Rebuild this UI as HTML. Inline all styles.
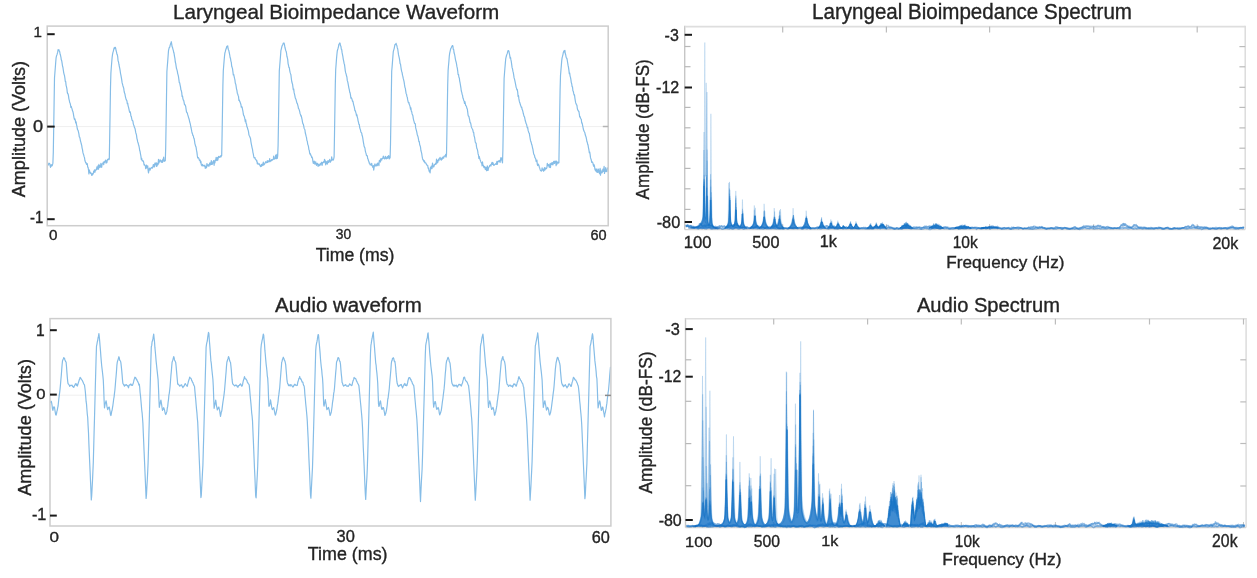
<!DOCTYPE html>
<html><head><meta charset="utf-8"><title>Laryngeal Bioimpedance and Audio</title>
<style>
html,body{margin:0;padding:0;background:#ffffff;}
svg{display:block;}
</style></head>
<body>
<svg width="1257" height="578" viewBox="0 0 1257 578">
<rect width="1257" height="578" fill="#ffffff"/>
<g>
<line x1="47.2" y1="126.6" x2="608.2" y2="126.6" stroke="#efefef" stroke-width="1"/>
<polyline points="47.70,164.86 48.10,165.21 48.50,164.11 48.90,163.13 49.30,163.66 49.70,163.67 50.10,165.66 50.50,167.34 50.90,165.14 51.30,164.74 51.70,166.16 52.10,165.68 52.50,164.72 52.90,163.14 53.30,152.29 53.70,128.14 54.10,102.88 54.50,78.08 54.90,72.75 55.30,67.76 55.70,62.56 56.10,57.76 56.50,55.95 56.90,54.90 57.30,53.61 57.70,52.19 58.10,49.64 58.50,50.22 58.90,49.78 59.30,51.08 59.70,51.55 60.10,54.22 60.50,55.27 60.90,57.03 61.30,59.82 61.70,60.68 62.10,63.20 62.50,66.01 62.90,67.22 63.30,69.98 63.70,72.62 64.10,74.33 64.50,75.50 64.90,78.19 65.30,81.38 65.70,81.62 66.10,85.33 66.50,86.98 66.90,88.85 67.30,92.53 67.70,93.76 68.10,93.85 68.50,95.95 68.90,98.86 69.30,100.29 69.70,102.49 70.10,103.03 70.50,104.96 70.90,107.43 71.30,106.44 71.70,107.93 72.10,109.10 72.50,110.86 72.90,111.56 73.30,113.37 73.70,115.85 74.10,118.05 74.50,119.61 74.90,118.88 75.30,120.18 75.70,122.88 76.10,121.80 76.50,124.56 76.90,126.18 77.30,128.74 77.70,129.96 78.10,130.40 78.50,132.09 78.90,133.84 79.30,136.84 79.70,137.19 80.10,138.79 80.50,141.03 80.90,142.40 81.30,144.02 81.70,145.41 82.10,148.10 82.50,149.59 82.90,152.41 83.30,153.86 83.70,154.94 84.10,156.64 84.50,157.63 84.90,160.48 85.30,161.60 85.70,162.92 86.10,162.57 86.50,164.49 86.90,164.30 87.30,163.64 87.70,167.10 88.10,167.32 88.50,169.98 88.90,173.83 89.30,169.88 89.70,171.16 90.10,172.25 90.50,173.27 90.90,172.91 91.30,173.55 91.70,175.37 92.10,175.36 92.50,173.58 92.90,174.28 93.30,173.42 93.70,171.19 94.10,172.28 94.50,169.96 94.90,172.23 95.30,170.69 95.70,169.99 96.10,169.15 96.50,169.75 96.90,166.88 97.30,167.56 97.70,169.13 98.10,165.65 98.50,169.09 98.90,164.47 99.30,167.60 99.70,165.66 100.10,167.20 100.50,166.03 100.90,163.33 101.30,167.22 101.70,167.28 102.10,163.99 102.50,163.80 102.90,163.75 103.30,162.19 103.70,164.74 104.10,161.90 104.50,162.48 104.90,161.47 105.30,160.96 105.70,160.04 106.10,163.19 106.50,161.12 106.90,162.57 107.30,160.19 107.70,159.23 108.10,159.19 108.50,158.92 108.90,159.80 109.30,159.00 109.70,136.31 110.10,111.74 110.50,87.32 110.90,73.11 111.30,67.55 111.70,62.46 112.10,57.77 112.50,54.69 112.90,52.59 113.30,51.37 113.70,49.70 114.10,47.87 114.50,48.69 114.90,47.42 115.30,47.32 115.70,48.37 116.10,50.76 116.50,51.89 116.90,54.07 117.30,54.61 117.70,56.70 118.10,61.03 118.50,61.79 118.90,64.23 119.30,66.34 119.70,68.19 120.10,70.30 120.50,73.28 120.90,75.04 121.30,77.36 121.70,79.69 122.10,82.67 122.50,84.10 122.90,85.72 123.30,86.94 123.70,88.11 124.10,91.24 124.50,93.01 124.90,93.83 125.30,96.05 125.70,97.85 126.10,99.30 126.50,100.33 126.90,100.65 127.30,103.76 127.70,103.21 128.10,105.83 128.50,107.12 128.90,108.80 129.30,110.86 129.70,112.29 130.10,111.70 130.50,112.88 130.90,116.15 131.30,116.47 131.70,118.58 132.10,120.37 132.50,120.42 132.90,121.16 133.30,123.84 133.70,124.99 134.10,126.04 134.50,127.62 134.90,128.21 135.30,129.89 135.70,132.43 136.10,133.71 136.50,135.16 136.90,138.30 137.30,139.72 137.70,141.93 138.10,142.82 138.50,144.50 138.90,145.77 139.30,147.75 139.70,150.48 140.10,151.58 140.50,154.08 140.90,156.10 141.30,159.46 141.70,158.25 142.10,160.64 142.50,160.38 142.90,161.24 143.30,160.98 143.70,162.38 144.10,164.89 144.50,164.40 144.90,165.54 145.30,165.76 145.70,168.56 146.10,167.05 146.50,165.04 146.90,167.84 147.30,167.00 147.70,165.83 148.10,170.17 148.50,172.98 148.90,170.59 149.30,168.47 149.70,168.09 150.10,170.14 150.50,168.49 150.90,168.21 151.30,167.67 151.70,167.42 152.10,168.17 152.50,168.02 152.90,166.79 153.30,164.60 153.70,166.62 154.10,164.72 154.50,166.89 154.90,163.08 155.30,164.47 155.70,164.55 156.10,162.61 156.50,166.36 156.90,166.12 157.30,163.46 157.70,165.01 158.10,164.39 158.50,159.42 158.90,163.06 159.30,161.83 159.70,161.56 160.10,159.75 160.50,160.41 160.90,160.66 161.30,162.31 161.70,161.30 162.10,160.45 162.50,162.37 162.90,159.32 163.30,159.16 163.70,157.19 164.10,161.51 164.50,160.86 164.90,160.96 165.30,160.76 165.70,147.82 166.10,122.85 166.50,97.14 166.90,71.56 167.30,66.28 167.70,61.38 168.10,55.97 168.50,50.61 168.90,48.94 169.30,47.42 169.70,47.39 170.10,45.40 170.50,44.08 170.90,43.00 171.30,41.72 171.70,44.12 172.10,46.68 172.50,47.30 172.90,49.10 173.30,50.35 173.70,52.29 174.10,53.63 174.50,56.37 174.90,58.39 175.30,62.01 175.70,63.45 176.10,66.08 176.50,68.53 176.90,69.62 177.30,71.10 177.70,73.58 178.10,74.87 178.50,76.74 178.90,79.62 179.30,82.73 179.70,82.89 180.10,85.02 180.50,86.84 180.90,89.80 181.30,90.62 181.70,92.39 182.10,96.40 182.50,95.92 182.90,98.57 183.30,100.01 183.70,100.46 184.10,102.39 184.50,104.61 184.90,104.49 185.30,105.36 185.70,106.52 186.10,109.39 186.50,111.78 186.90,112.75 187.30,112.84 187.70,114.68 188.10,115.85 188.50,117.35 188.90,118.49 189.30,119.86 189.70,122.02 190.10,123.11 190.50,124.99 190.90,127.26 191.30,128.87 191.70,131.16 192.10,133.05 192.50,133.86 192.90,135.54 193.30,135.70 193.70,138.27 194.10,138.39 194.50,140.69 194.90,143.62 195.30,144.97 195.70,146.30 196.10,147.41 196.50,150.14 196.90,152.12 197.30,155.39 197.70,157.98 198.10,157.62 198.50,157.87 198.90,158.50 199.30,160.08 199.70,160.45 200.10,160.04 200.50,162.75 200.90,161.40 201.30,164.80 201.70,165.27 202.10,165.82 202.50,164.31 202.90,165.77 203.30,165.36 203.70,165.76 204.10,166.09 204.50,165.52 204.90,165.22 205.30,168.41 205.70,166.67 206.10,166.89 206.50,167.82 206.90,163.54 207.30,164.66 207.70,165.87 208.10,165.88 208.50,164.73 208.90,166.25 209.30,165.07 209.70,162.97 210.10,162.87 210.50,165.00 210.90,164.39 211.30,160.57 211.70,164.45 212.10,163.59 212.50,164.20 212.90,161.67 213.30,161.74 213.70,160.54 214.10,165.31 214.50,161.02 214.90,162.93 215.30,159.76 215.70,160.45 216.10,157.46 216.50,159.08 216.90,160.67 217.30,157.58 217.70,160.21 218.10,158.86 218.50,156.46 218.90,157.09 219.30,156.88 219.70,157.25 220.10,156.71 220.50,155.82 220.90,156.99 221.30,155.96 221.70,155.50 222.10,133.92 222.50,109.94 222.90,85.18 223.30,70.81 223.70,65.71 224.10,60.75 224.50,56.27 224.90,52.83 225.30,51.71 225.70,49.81 226.10,49.04 226.50,47.52 226.90,46.27 227.30,46.38 227.70,45.80 228.10,48.77 228.50,49.88 228.90,50.82 229.30,52.99 229.70,54.76 230.10,57.47 230.50,58.46 230.90,61.09 231.30,62.43 231.70,66.25 232.10,67.37 232.50,68.70 232.90,71.57 233.30,74.81 233.70,74.45 234.10,76.42 234.50,78.22 234.90,79.80 235.30,83.25 235.70,83.95 236.10,86.16 236.50,89.04 236.90,90.22 237.30,93.15 237.70,94.00 238.10,95.40 238.50,96.20 238.90,100.36 239.30,99.86 239.70,101.41 240.10,102.11 240.50,103.21 240.90,104.44 241.30,107.09 241.70,106.45 242.10,107.22 242.50,109.36 242.90,111.07 243.30,114.01 243.70,115.64 244.10,115.78 244.50,117.32 244.90,119.10 245.30,121.65 245.70,119.88 246.10,123.34 246.50,123.95 246.90,126.88 247.30,127.00 247.70,129.09 248.10,129.91 248.50,131.68 248.90,134.59 249.30,135.74 249.70,136.39 250.10,137.68 250.50,138.35 250.90,141.58 251.30,143.79 251.70,145.77 252.10,147.78 252.50,149.44 252.90,152.28 253.30,153.79 253.70,156.42 254.10,157.87 254.50,157.56 254.90,157.47 255.30,159.12 255.70,159.38 256.10,159.65 256.50,161.14 256.90,160.64 257.30,163.68 257.70,162.85 258.10,164.24 258.50,164.27 258.90,164.02 259.30,163.80 259.70,165.10 260.10,165.23 260.50,166.65 260.90,166.52 261.30,164.58 261.70,166.23 262.10,164.05 262.50,164.82 262.90,165.27 263.30,162.14 263.70,164.97 264.10,164.73 264.50,164.24 264.90,163.26 265.30,162.69 265.70,161.74 266.10,162.60 266.50,162.03 266.90,162.52 267.30,160.70 267.70,162.42 268.10,161.92 268.50,161.24 268.90,160.61 269.30,161.75 269.70,158.53 270.10,161.57 270.50,161.13 270.90,160.68 271.30,160.86 271.70,159.51 272.10,159.51 272.50,160.08 272.90,159.69 273.30,159.25 273.70,156.02 274.10,158.45 274.50,159.06 274.90,158.68 275.30,157.77 275.70,155.10 276.10,158.79 276.50,157.28 276.90,154.27 277.30,158.45 277.70,155.60 278.10,145.21 278.50,120.98 278.90,96.35 279.30,70.90 279.70,65.94 280.10,61.17 280.50,56.08 280.90,50.61 281.30,49.03 281.70,47.34 282.10,45.75 282.50,45.26 282.90,44.23 283.30,43.11 283.70,43.03 284.10,43.17 284.50,44.91 284.90,47.24 285.30,48.76 285.70,50.46 286.10,51.24 286.50,52.96 286.90,56.23 287.30,57.68 287.70,59.33 288.10,63.61 288.50,65.25 288.90,67.41 289.30,67.59 289.70,70.32 290.10,72.41 290.50,73.66 290.90,74.71 291.30,78.24 291.70,81.24 292.10,83.02 292.50,83.90 292.90,86.84 293.30,89.55 293.70,88.92 294.10,92.41 294.50,94.10 294.90,95.95 295.30,98.07 295.70,98.83 296.10,99.79 296.50,101.34 296.90,103.18 297.30,103.38 297.70,104.79 298.10,106.45 298.50,108.55 298.90,108.88 299.30,110.19 299.70,111.51 300.10,113.72 300.50,114.36 300.90,116.16 301.30,115.77 301.70,118.01 302.10,119.60 302.50,122.07 302.90,123.93 303.30,124.09 303.70,125.97 304.10,128.21 304.50,129.06 304.90,129.71 305.30,132.98 305.70,134.27 306.10,136.19 306.50,137.51 306.90,140.50 307.30,141.25 307.70,144.17 308.10,145.09 308.50,146.73 308.90,149.62 309.30,150.56 309.70,153.31 310.10,154.30 310.50,153.91 310.90,155.53 311.30,155.96 311.70,157.72 312.10,157.06 312.50,158.35 312.90,161.39 313.30,163.29 313.70,163.42 314.10,161.02 314.50,161.80 314.90,164.25 315.30,162.49 315.70,161.87 316.10,163.64 316.50,165.38 316.90,163.83 317.30,163.34 317.70,163.64 318.10,166.48 318.50,164.30 318.90,164.76 319.30,165.65 319.70,165.48 320.10,163.74 320.50,164.97 320.90,163.11 321.30,163.83 321.70,162.23 322.10,165.34 322.50,163.32 322.90,162.33 323.30,162.46 323.70,161.59 324.10,162.78 324.50,159.24 324.90,160.48 325.30,160.73 325.70,164.78 326.10,162.97 326.50,161.66 326.90,162.67 327.30,164.21 327.70,161.03 328.10,160.64 328.50,162.60 328.90,161.14 329.30,161.08 329.70,159.33 330.10,162.23 330.50,162.11 330.90,160.58 331.30,160.62 331.70,156.75 332.10,160.10 332.50,159.24 332.90,159.96 333.30,160.11 333.70,158.85 334.10,156.98 334.50,134.85 334.90,109.63 335.30,84.63 335.70,69.46 336.10,64.34 336.50,58.87 336.90,54.50 337.30,50.89 337.70,49.48 338.10,48.16 338.50,46.54 338.90,44.22 339.30,43.88 339.70,42.98 340.10,43.32 340.50,45.99 340.90,46.11 341.30,49.16 341.70,49.43 342.10,52.66 342.50,54.56 342.90,56.72 343.30,59.31 343.70,61.19 344.10,63.46 344.50,64.48 344.90,67.67 345.30,70.86 345.70,72.90 346.10,73.97 346.50,75.77 346.90,77.01 347.30,80.65 347.70,81.65 348.10,83.66 348.50,85.81 348.90,88.10 349.30,89.67 349.70,92.11 350.10,92.87 350.50,95.11 350.90,98.15 351.30,97.61 351.70,98.51 352.10,99.63 352.50,101.40 352.90,101.06 353.30,103.18 353.70,105.06 354.10,106.43 354.50,108.19 354.90,110.66 355.30,110.52 355.70,112.23 356.10,113.31 356.50,115.74 356.90,114.71 357.30,117.06 357.70,118.45 358.10,120.82 358.50,122.26 358.90,124.39 359.30,124.31 359.70,127.72 360.10,128.84 360.50,129.92 360.90,132.27 361.30,132.50 361.70,133.07 362.10,135.60 362.50,136.51 362.90,138.93 363.30,141.57 363.70,143.78 364.10,146.34 364.50,147.13 364.90,147.97 365.30,150.77 365.70,152.38 366.10,153.61 366.50,155.73 366.90,155.57 367.30,155.71 367.70,158.75 368.10,159.01 368.50,160.83 368.90,161.63 369.30,163.24 369.70,163.07 370.10,164.79 370.50,164.26 370.90,164.95 371.30,165.07 371.70,163.30 372.10,165.78 372.50,166.11 372.90,167.48 373.30,165.61 373.70,170.05 374.10,167.51 374.50,165.34 374.90,163.95 375.30,165.83 375.70,166.00 376.10,164.91 376.50,165.79 376.90,163.96 377.30,165.66 377.70,163.05 378.10,163.07 378.50,164.15 378.90,165.66 379.30,160.58 379.70,160.64 380.10,159.93 380.50,162.02 380.90,158.67 381.30,159.31 381.70,160.06 382.10,158.58 382.50,158.15 382.90,158.36 383.30,156.21 383.70,157.44 384.10,158.31 384.50,158.96 384.90,158.38 385.30,156.31 385.70,157.49 386.10,158.92 386.50,158.60 386.90,157.68 387.30,156.59 387.70,158.48 388.10,157.14 388.50,155.66 388.90,156.00 389.30,158.95 389.70,156.85 390.10,157.97 390.50,144.19 390.90,120.57 391.30,95.65 391.70,71.24 392.10,66.88 392.50,61.60 392.90,56.37 393.30,51.54 393.70,50.11 394.10,48.86 394.50,46.87 394.90,44.71 395.30,44.69 395.70,44.02 396.10,43.37 396.50,44.76 396.90,45.76 397.30,47.96 397.70,48.72 398.10,51.76 398.50,54.64 398.90,56.30 399.30,58.18 399.70,60.38 400.10,63.58 400.50,64.18 400.90,67.01 401.30,69.62 401.70,71.48 402.10,72.68 402.50,75.17 402.90,76.61 403.30,78.63 403.70,80.06 404.10,81.83 404.50,84.70 404.90,87.15 405.30,88.06 405.70,90.84 406.10,93.43 406.50,94.19 406.90,96.39 407.30,97.34 407.70,99.91 408.10,101.72 408.50,102.91 408.90,102.37 409.30,104.58 409.70,105.30 410.10,106.69 410.50,109.16 410.90,107.93 411.30,111.22 411.70,111.48 412.10,113.96 412.50,114.78 412.90,115.80 413.30,118.59 413.70,120.31 414.10,121.63 414.50,123.24 414.90,123.63 415.30,123.81 415.70,127.89 416.10,129.43 416.50,130.91 416.90,132.55 417.30,135.01 417.70,135.76 418.10,137.08 418.50,139.25 418.90,141.71 419.30,141.47 419.70,144.74 420.10,145.64 420.50,147.15 420.90,150.55 421.30,151.83 421.70,153.33 422.10,156.24 422.50,158.41 422.90,159.96 423.30,159.80 423.70,161.02 424.10,161.81 424.50,160.83 424.90,162.87 425.30,162.76 425.70,162.88 426.10,163.54 426.50,164.67 426.90,165.16 427.30,165.08 427.70,165.44 428.10,168.24 428.50,167.82 428.90,170.12 429.30,171.58 429.70,170.96 430.10,172.97 430.50,167.28 430.90,168.76 431.30,166.12 431.70,168.73 432.10,168.32 432.50,163.07 432.90,164.77 433.30,166.90 433.70,166.99 434.10,166.09 434.50,164.34 434.90,164.28 435.30,164.46 435.70,163.18 436.10,164.21 436.50,159.22 436.90,163.04 437.30,160.59 437.70,162.72 438.10,160.41 438.50,159.11 438.90,160.73 439.30,158.75 439.70,158.54 440.10,157.26 440.50,159.14 440.90,159.40 441.30,160.12 441.70,158.00 442.10,159.43 442.50,157.73 442.90,157.07 443.30,158.07 443.70,158.17 444.10,156.22 444.50,156.21 444.90,155.91 445.30,156.23 445.70,154.45 446.10,157.11 446.50,154.68 446.90,132.85 447.30,108.82 447.70,85.11 448.10,70.67 448.50,65.64 448.90,61.27 449.30,55.99 449.70,53.09 450.10,51.40 450.50,49.66 450.90,48.25 451.30,47.81 451.70,46.69 452.10,45.90 452.50,45.53 452.90,45.97 453.30,49.45 453.70,49.61 454.10,53.06 454.50,54.07 454.90,56.00 455.30,58.56 455.70,60.55 456.10,61.99 456.50,63.94 456.90,66.39 457.30,68.11 457.70,70.79 458.10,74.54 458.50,74.31 458.90,77.21 459.30,77.83 459.70,81.12 460.10,82.98 460.50,85.35 460.90,87.78 461.30,91.05 461.70,92.13 462.10,94.19 462.50,95.16 462.90,97.86 463.30,98.59 463.70,100.46 464.10,101.02 464.50,103.29 464.90,101.62 465.30,103.72 465.70,105.67 466.10,105.68 466.50,106.64 466.90,108.39 467.30,108.85 467.70,111.88 468.10,115.24 468.50,116.18 468.90,116.35 469.30,118.31 469.70,120.16 470.10,122.63 470.50,122.68 470.90,124.26 471.30,126.63 471.70,127.69 472.10,128.55 472.50,129.25 472.90,130.31 473.30,132.40 473.70,132.45 474.10,136.07 474.50,136.95 474.90,139.48 475.30,142.29 475.70,143.04 476.10,143.15 476.50,146.60 476.90,148.62 477.30,149.12 477.70,151.02 478.10,153.92 478.50,154.97 478.90,158.32 479.30,156.56 479.70,158.30 480.10,159.73 480.50,160.67 480.90,161.90 481.30,162.86 481.70,162.95 482.10,165.96 482.50,161.94 482.90,165.45 483.30,165.13 483.70,166.87 484.10,167.67 484.50,166.41 484.90,166.71 485.30,169.44 485.70,169.20 486.10,167.43 486.50,170.68 486.90,170.62 487.30,165.94 487.70,167.99 488.10,170.49 488.50,168.17 488.90,167.10 489.30,166.84 489.70,165.49 490.10,165.16 490.50,164.79 490.90,166.20 491.30,164.37 491.70,163.27 492.10,162.29 492.50,164.50 492.90,162.71 493.30,163.81 493.70,165.30 494.10,165.08 494.50,165.08 494.90,164.31 495.30,164.33 495.70,163.77 496.10,163.34 496.50,164.34 496.90,161.40 497.30,164.32 497.70,162.53 498.10,161.11 498.50,161.34 498.90,160.87 499.30,161.71 499.70,160.45 500.10,162.43 500.50,159.60 500.90,157.56 501.30,159.80 501.70,158.16 502.10,161.23 502.50,162.96 502.90,149.73 503.30,125.87 503.70,101.90 504.10,78.49 504.50,73.28 504.90,68.28 505.30,63.59 505.70,58.98 506.10,57.21 506.50,55.49 506.90,54.37 507.30,53.38 507.70,51.66 508.10,50.56 508.50,50.64 508.90,51.20 509.30,53.37 509.70,55.18 510.10,58.18 510.50,57.24 510.90,59.69 511.30,61.62 511.70,64.64 512.10,67.66 512.50,68.73 512.90,71.21 513.30,72.67 513.70,75.15 514.10,77.91 514.50,79.18 514.90,80.85 515.30,82.89 515.70,84.80 516.10,87.19 516.50,88.02 516.90,90.00 517.30,89.67 517.70,92.16 518.10,96.37 518.50,95.47 518.90,98.91 519.30,101.14 519.70,102.60 520.10,103.57 520.50,105.05 520.90,106.14 521.30,107.38 521.70,107.13 522.10,109.36 522.50,110.03 522.90,111.69 523.30,113.51 523.70,115.05 524.10,116.44 524.50,116.79 524.90,118.86 525.30,120.81 525.70,122.02 526.10,123.53 526.50,124.03 526.90,125.84 527.30,127.89 527.70,127.40 528.10,130.39 528.50,131.55 528.90,132.96 529.30,133.19 529.70,135.79 530.10,138.25 530.50,140.48 530.90,141.82 531.30,142.84 531.70,144.58 532.10,145.65 532.50,147.75 532.90,149.12 533.30,151.68 533.70,154.05 534.10,154.70 534.50,155.39 534.90,157.60 535.30,158.03 535.70,158.74 536.10,161.49 536.50,161.56 536.90,160.11 537.30,164.24 537.70,165.55 538.10,164.05 538.50,164.38 538.90,165.38 539.30,167.14 539.70,168.06 540.10,169.41 540.50,170.44 540.90,170.70 541.30,171.07 541.70,170.71 542.10,167.89 542.50,169.86 542.90,170.13 543.30,169.39 543.70,171.27 544.10,168.91 544.50,167.55 544.90,170.15 545.30,168.96 545.70,167.99 546.10,168.75 546.50,168.47 546.90,167.44 547.30,163.40 547.70,165.66 548.10,165.55 548.50,164.56 548.90,166.01 549.30,167.34 549.70,165.00 550.10,163.70 550.50,167.53 550.90,163.85 551.30,162.91 551.70,164.44 552.10,164.37 552.50,162.63 552.90,164.96 553.30,163.02 553.70,161.45 554.10,163.03 554.50,163.48 554.90,161.01 555.30,162.13 555.70,161.21 556.10,165.66 556.50,161.13 556.90,164.35 557.30,162.55 557.70,162.06 558.10,163.10 558.50,162.90 558.90,162.64 559.30,137.86 559.70,113.78 560.10,89.82 560.50,75.57 560.90,70.67 561.30,65.90 561.70,60.86 562.10,57.80 562.50,56.44 562.90,54.84 563.30,52.58 563.70,51.83 564.10,50.70 564.50,52.16 564.90,50.35 565.30,53.73 565.70,54.74 566.10,57.10 566.50,58.13 566.90,58.36 567.30,60.47 567.70,63.00 568.10,65.47 568.50,67.36 568.90,70.14 569.30,73.69 569.70,73.02 570.10,76.10 570.50,77.38 570.90,79.65 571.30,82.61 571.70,83.71 572.10,86.70 572.50,86.90 572.90,90.71 573.30,91.38 573.70,93.47 574.10,95.22 574.50,94.92 574.90,98.06 575.30,100.62 575.70,102.94 576.10,103.65 576.50,104.98 576.90,105.10 577.30,108.29 577.70,109.95 578.10,110.28 578.50,111.30 578.90,111.34 579.30,114.03 579.70,116.79 580.10,116.58 580.50,118.18 580.90,118.94 581.30,119.37 581.70,123.06 582.10,122.87 582.50,124.76 582.90,126.85 583.30,129.00 583.70,130.19 584.10,131.31 584.50,131.85 584.90,132.94 585.30,135.10 585.70,136.00 586.10,137.23 586.50,139.08 586.90,141.57 587.30,142.49 587.70,144.32 588.10,145.31 588.50,147.99 588.90,149.75 589.30,152.60 589.70,151.96 590.10,154.39 590.50,157.63 590.90,158.84 591.30,160.06 591.70,162.28 592.10,161.80 592.50,162.24 592.90,162.95 593.30,165.17 593.70,166.28 594.10,164.73 594.50,166.21 594.90,169.26 595.30,170.36 595.70,169.00 596.10,171.33 596.50,171.95 596.90,168.89 597.30,171.15 597.70,172.51 598.10,171.84 598.50,169.20 598.90,171.86 599.30,173.04 599.70,173.86 600.10,168.45 600.50,175.14 600.90,170.00 601.30,172.28 601.70,172.88 602.10,172.68 602.50,171.56 602.90,169.17 603.30,171.34 603.70,169.48 604.10,166.26 604.50,173.37 604.90,170.13 605.30,171.70 605.70,167.56 606.10,170.99 606.50,171.56 606.90,171.73 607.30,169.18 607.70,167.50" fill="none" stroke="#86bde7" stroke-width="1.2" stroke-linejoin="round"/>
<rect x="47.2" y="26.1" width="561.0" height="199.6" fill="none" stroke="#cdcdcd" stroke-width="1.5"/>
<line x1="47.2" y1="34.2" x2="54.7" y2="34.2" stroke="#1a1a1a" stroke-width="2"/>
<line x1="47.2" y1="126.6" x2="54.7" y2="126.6" stroke="#1a1a1a" stroke-width="2"/>
<line x1="47.2" y1="219.2" x2="54.7" y2="219.2" stroke="#1a1a1a" stroke-width="2"/>
<line x1="602.8" y1="126.5" x2="608.2" y2="126.5" stroke="#b4b4b4" stroke-width="1.5"/>
</g>
<line x1="50.0" y1="395.2" x2="610.9" y2="395.2" stroke="#efefef" stroke-width="1"/>
<polyline points="50.50,402.89 50.90,401.22 51.30,401.40 51.70,403.14 52.10,405.60 52.50,408.81 52.90,410.42 53.30,408.45 53.70,407.05 54.10,406.82 54.50,407.39 54.90,410.03 55.30,412.62 55.70,414.53 56.10,415.03 56.50,413.66 56.90,411.41 57.30,410.07 57.70,407.56 58.10,405.98 58.50,402.06 58.90,398.24 59.30,395.09 59.70,392.26 60.10,388.64 60.50,384.38 60.90,379.46 61.30,375.28 61.70,369.79 62.10,364.71 62.50,360.93 62.90,359.75 63.30,359.00 63.70,357.68 64.10,357.92 64.50,358.22 64.90,360.07 65.30,360.80 65.70,361.77 66.10,361.96 66.50,366.54 66.90,372.16 67.30,377.16 67.70,381.33 68.10,383.78 68.50,383.96 68.90,384.69 69.30,385.26 69.70,386.36 70.10,385.88 70.50,385.42 70.90,385.18 71.30,385.38 71.70,385.30 72.10,385.18 72.50,386.72 72.90,386.47 73.30,386.75 73.70,387.44 74.10,386.64 74.50,385.54 74.90,385.22 75.30,383.89 75.70,383.86 76.10,383.53 76.50,385.50 76.90,384.50 77.30,386.06 77.70,385.06 78.10,383.50 78.50,382.35 78.90,381.06 79.30,379.71 79.70,378.73 80.10,377.39 80.50,378.24 80.90,378.19 81.30,379.40 81.70,379.76 82.10,380.10 82.50,380.88 82.90,381.77 83.30,382.79 83.70,383.79 84.10,384.29 84.50,385.10 84.90,387.98 85.30,391.25 85.70,396.11 86.10,401.46 86.50,403.92 86.90,409.20 87.30,414.20 87.70,417.52 88.10,425.69 88.50,432.75 88.90,443.95 89.30,453.40 89.70,462.50 90.10,471.38 90.50,481.03 90.90,489.86 91.30,500.02 91.70,495.77 92.10,488.11 92.50,480.64 92.90,471.65 93.30,462.23 93.70,447.55 94.10,431.96 94.50,418.18 94.90,402.93 95.30,387.22 95.70,373.01 96.10,357.81 96.50,346.17 96.90,344.36 97.30,341.87 97.70,340.48 98.10,337.59 98.50,336.21 98.90,333.61 99.30,337.16 99.70,341.42 100.10,346.33 100.50,350.93 100.90,356.61 101.30,361.39 101.70,365.73 102.10,369.17 102.50,372.52 102.90,376.13 103.30,380.22 103.70,389.09 104.10,400.56 104.50,407.92 104.90,405.12 105.30,403.19 105.70,402.12 106.10,400.76 106.50,403.02 106.90,406.16 107.30,407.95 107.70,409.69 108.10,408.85 108.50,407.43 108.90,407.95 109.30,407.02 109.70,409.56 110.10,411.73 110.50,414.64 110.90,415.53 111.30,413.82 111.70,411.31 112.10,410.27 112.50,407.57 112.90,405.29 113.30,402.24 113.70,398.99 114.10,396.84 114.50,393.08 114.90,390.04 115.30,385.38 115.70,380.32 116.10,375.93 116.50,371.09 116.90,365.10 117.30,362.16 117.70,360.67 118.10,359.62 118.50,358.15 118.90,356.71 119.30,357.84 119.70,360.28 120.10,360.66 120.50,361.00 120.90,362.88 121.30,366.37 121.70,370.41 122.10,374.91 122.50,379.93 122.90,383.48 123.30,384.04 123.70,384.65 124.10,385.60 124.50,386.22 124.90,384.80 125.30,385.41 125.70,384.98 126.10,384.60 126.50,384.85 126.90,385.44 127.30,385.78 127.70,385.65 128.10,386.48 128.50,387.76 128.90,385.78 129.30,384.89 129.70,385.17 130.10,384.72 130.50,384.31 130.90,384.00 131.30,385.35 131.70,384.95 132.10,385.19 132.50,385.35 132.90,384.08 133.30,382.95 133.70,381.41 134.10,379.61 134.50,378.54 134.90,377.19 135.30,378.17 135.70,377.75 136.10,378.29 136.50,379.96 136.90,379.61 137.30,380.71 137.70,381.64 138.10,382.37 138.50,383.30 138.90,385.04 139.30,384.18 139.70,387.49 140.10,392.50 140.50,395.85 140.90,400.21 141.30,404.92 141.70,409.79 142.10,412.81 142.50,417.76 142.90,423.26 143.30,432.99 143.70,442.20 144.10,451.82 144.50,460.72 144.90,470.33 145.30,479.39 145.70,488.79 146.10,498.41 146.50,494.64 146.90,486.51 147.30,480.08 147.70,471.65 148.10,462.56 148.50,449.14 148.90,433.76 149.30,419.74 149.70,404.63 150.10,389.88 150.50,374.97 150.90,359.76 151.30,346.77 151.70,345.66 152.10,341.74 152.50,340.78 152.90,338.95 153.30,336.28 153.70,334.13 154.10,337.94 154.50,341.56 154.90,347.42 155.30,351.48 155.70,356.03 156.10,360.83 156.50,364.58 156.90,368.64 157.30,372.13 157.70,375.82 158.10,379.65 158.50,388.36 158.90,398.92 159.30,407.30 159.70,405.46 160.10,403.90 160.50,401.47 160.90,400.14 161.30,402.38 161.70,405.19 162.10,408.00 162.50,410.35 162.90,409.16 163.30,409.34 163.70,407.62 164.10,408.72 164.50,409.98 164.90,412.00 165.30,413.81 165.70,414.51 166.10,413.96 166.50,412.36 166.90,411.40 167.30,407.99 167.70,406.40 168.10,402.35 168.50,399.71 168.90,395.16 169.30,393.29 169.70,390.00 170.10,386.24 170.50,381.06 170.90,375.60 171.30,371.63 171.70,366.61 172.10,362.11 172.50,361.05 172.90,359.84 173.30,358.08 173.70,356.53 174.10,357.60 174.50,359.93 174.90,360.73 175.30,361.55 175.70,362.40 176.10,365.96 176.50,370.66 176.90,375.20 177.30,379.74 177.70,384.24 178.10,384.07 178.50,384.40 178.90,384.80 179.30,385.65 179.70,386.10 180.10,385.92 180.50,385.28 180.90,385.20 181.30,384.91 181.70,384.95 182.10,386.44 182.50,386.42 182.90,387.76 183.30,386.58 183.70,386.26 184.10,386.12 184.50,385.01 184.90,383.90 185.30,383.62 185.70,384.50 186.10,385.00 186.50,385.21 186.90,386.10 187.30,386.26 187.70,384.46 188.10,382.82 188.50,381.20 188.90,380.06 189.30,378.73 189.70,377.10 190.10,377.89 190.50,378.16 190.90,378.29 191.30,379.09 191.70,380.50 192.10,380.97 192.50,382.28 192.90,382.50 193.30,383.78 193.70,384.89 194.10,385.65 194.50,386.27 194.90,390.84 195.30,395.36 195.70,399.23 196.10,404.26 196.50,408.88 196.90,412.58 197.30,418.06 197.70,422.04 198.10,431.47 198.50,440.85 198.90,450.03 199.30,459.93 199.70,469.14 200.10,479.27 200.50,488.19 200.90,497.55 201.30,495.29 201.70,487.12 202.10,480.09 202.50,472.12 202.90,465.31 203.30,450.36 203.70,436.63 204.10,421.71 204.50,406.88 204.90,391.73 205.30,376.84 205.70,362.17 206.10,347.42 206.50,344.30 206.90,342.45 207.30,341.03 207.70,337.42 208.10,334.96 208.50,332.38 208.90,333.42 209.30,339.74 209.70,344.38 210.10,349.62 210.50,355.46 210.90,360.90 211.30,363.42 211.70,368.11 212.10,371.74 212.50,375.45 212.90,379.31 213.30,386.39 213.70,397.92 214.10,408.28 214.50,406.16 214.90,404.56 215.30,402.40 215.70,400.21 216.10,402.65 216.50,405.79 216.90,407.73 217.30,409.96 217.70,408.87 218.10,408.35 218.50,407.28 218.90,407.05 219.30,409.37 219.70,410.58 220.10,413.76 220.50,416.29 220.90,414.33 221.30,412.07 221.70,411.32 222.10,408.69 222.50,405.37 222.90,402.36 223.30,399.76 223.70,397.14 224.10,394.14 224.50,390.63 224.90,386.01 225.30,381.34 225.70,376.32 226.10,371.74 226.50,366.11 226.90,362.05 227.30,361.04 227.70,359.43 228.10,358.46 228.50,356.58 228.90,357.44 229.30,358.90 229.70,360.79 230.10,361.83 230.50,362.25 230.90,365.90 231.30,369.91 231.70,375.45 232.10,379.69 232.50,382.97 232.90,384.24 233.30,384.24 233.70,384.87 234.10,385.35 234.50,385.92 234.90,385.58 235.30,385.37 235.70,385.02 236.10,385.65 236.50,385.21 236.90,385.47 237.30,386.76 237.70,387.24 238.10,387.15 238.50,385.62 238.90,385.53 239.30,385.48 239.70,384.61 240.10,384.70 240.50,383.78 240.90,385.11 241.30,384.92 241.70,386.20 242.10,385.97 242.50,384.96 242.90,382.71 243.30,380.87 243.70,379.50 244.10,378.23 244.50,376.54 244.90,378.16 245.30,378.83 245.70,378.97 246.10,379.00 246.50,380.02 246.90,380.38 247.30,382.11 247.70,382.51 248.10,383.49 248.50,384.00 248.90,384.19 249.30,385.65 249.70,389.87 250.10,394.92 250.50,399.17 250.90,403.14 251.30,407.70 251.70,412.95 252.10,416.19 252.50,420.59 252.90,430.29 253.30,439.47 253.70,448.98 254.10,458.80 254.50,468.74 254.90,476.55 255.30,486.73 255.70,496.15 256.10,497.92 256.50,490.02 256.90,482.10 257.30,474.85 257.70,466.33 258.10,452.62 258.50,437.94 258.90,423.26 259.30,408.28 259.70,393.93 260.10,378.61 260.50,363.81 260.90,348.84 261.30,344.69 261.70,342.65 262.10,340.42 262.50,338.86 262.90,336.33 263.30,334.05 263.70,335.14 264.10,340.14 264.50,343.99 264.90,350.42 265.30,354.56 265.70,359.37 266.10,363.82 266.50,367.19 266.90,370.71 267.30,375.78 267.70,378.13 268.10,385.01 268.50,396.23 268.90,406.17 269.30,406.20 269.70,404.42 270.10,403.33 270.50,399.85 270.90,402.17 271.30,404.98 271.70,407.22 272.10,409.15 272.50,409.53 272.90,408.64 273.30,408.04 273.70,407.60 274.10,409.42 274.50,411.40 274.90,413.61 275.30,415.22 275.70,414.41 276.10,412.82 276.50,410.79 276.90,409.26 277.30,405.94 277.70,403.92 278.10,401.12 278.50,396.90 278.90,394.18 279.30,390.82 279.70,387.73 280.10,382.45 280.50,377.38 280.90,372.33 281.30,367.58 281.70,362.16 282.10,361.21 282.50,359.33 282.90,358.65 283.30,357.21 283.70,358.45 284.10,359.04 284.50,360.60 284.90,360.81 285.30,362.59 285.70,364.66 286.10,369.56 286.50,374.21 286.90,379.30 287.30,382.18 287.70,383.94 288.10,383.83 288.50,385.75 288.90,385.02 289.30,385.37 289.70,384.87 290.10,386.16 290.50,384.64 290.90,385.08 291.30,385.11 291.70,384.94 292.10,386.00 292.50,386.85 292.90,386.87 293.30,386.90 293.70,385.71 294.10,385.28 294.50,384.50 294.90,384.23 295.30,385.20 295.70,384.91 296.10,385.24 296.50,385.27 296.90,385.61 297.30,385.35 297.70,382.69 298.10,381.28 298.50,380.14 298.90,378.50 299.30,378.07 299.70,376.47 300.10,378.32 300.50,379.09 300.90,378.88 301.30,379.71 301.70,380.81 302.10,382.07 302.50,381.84 302.90,382.45 303.30,384.51 303.70,385.66 304.10,385.74 304.50,388.83 304.90,394.86 305.30,398.49 305.70,403.46 306.10,407.31 306.50,411.53 306.90,415.87 307.30,421.12 307.70,429.86 308.10,437.65 308.50,447.58 308.90,458.19 309.30,466.62 309.70,475.56 310.10,485.57 310.50,494.91 310.90,498.22 311.30,490.28 311.70,482.60 312.10,474.77 312.50,467.37 312.90,453.94 313.30,439.54 313.70,424.97 314.10,410.81 314.50,395.51 314.90,380.42 315.30,365.84 315.70,350.90 316.10,345.90 316.50,343.51 316.90,341.97 317.30,339.64 317.70,336.90 318.10,334.61 318.50,334.82 318.90,339.53 319.30,344.13 319.70,348.39 320.10,353.11 320.50,358.97 320.90,363.21 321.30,367.04 321.70,369.92 322.10,374.78 322.50,377.90 322.90,383.87 323.30,394.69 323.70,404.94 324.10,406.23 324.50,403.57 324.90,402.09 325.30,399.69 325.70,402.07 326.10,404.40 326.50,407.29 326.90,409.54 327.30,409.15 327.70,408.84 328.10,407.76 328.50,407.46 328.90,408.83 329.30,410.49 329.70,413.19 330.10,415.46 330.50,414.55 330.90,413.34 331.30,411.96 331.70,409.27 332.10,406.53 332.50,402.60 332.90,400.48 333.30,397.27 333.70,393.41 334.10,391.44 334.50,388.04 334.90,382.53 335.30,377.79 335.70,372.61 336.10,368.48 336.50,362.54 336.90,360.92 337.30,360.69 337.70,358.59 338.10,357.52 338.50,357.75 338.90,358.38 339.30,359.99 339.70,361.27 340.10,361.72 340.50,364.33 340.90,369.44 341.30,374.07 341.70,377.58 342.10,382.56 342.50,382.98 342.90,384.89 343.30,385.39 343.70,386.14 344.10,385.45 344.50,385.13 344.90,385.48 345.30,385.30 345.70,384.67 346.10,385.36 346.50,385.99 346.90,386.20 347.30,386.03 347.70,385.95 348.10,386.43 348.50,386.02 348.90,385.23 349.30,384.56 349.70,383.84 350.10,384.62 350.50,384.68 350.90,385.16 351.30,385.06 351.70,385.62 352.10,384.95 352.50,382.92 352.90,381.31 353.30,380.23 353.70,379.42 354.10,377.46 354.50,378.12 354.90,378.02 355.30,378.55 355.70,378.68 356.10,379.66 356.50,381.18 356.90,381.37 357.30,382.47 357.70,383.36 358.10,383.95 358.50,384.77 358.90,385.83 359.30,389.58 359.70,393.86 360.10,398.25 360.50,402.48 360.90,406.43 361.30,411.04 361.70,415.11 362.10,420.36 362.50,427.10 362.90,437.34 363.30,447.90 363.70,456.06 364.10,465.10 364.50,474.99 364.90,484.97 365.30,493.71 365.70,499.51 366.10,491.51 366.50,483.54 366.90,477.37 367.30,468.22 367.70,455.89 368.10,441.28 368.50,427.03 368.90,412.26 369.30,397.55 369.70,382.39 370.10,366.81 370.50,352.82 370.90,345.44 371.30,343.17 371.70,340.36 372.10,338.49 372.50,336.14 372.90,334.18 373.30,332.17 373.70,337.88 374.10,342.95 374.50,347.42 374.90,352.68 375.30,357.60 375.70,362.79 376.10,365.07 376.50,369.87 376.90,373.09 377.30,377.46 377.70,382.73 378.10,392.87 378.50,404.01 378.90,406.37 379.30,405.62 379.70,403.16 380.10,401.26 380.50,400.96 380.90,403.57 381.30,407.05 381.70,408.98 382.10,409.42 382.50,408.93 382.90,407.47 383.30,407.63 383.70,408.41 384.10,410.87 384.50,412.60 384.90,415.39 385.30,414.59 385.70,413.59 386.10,411.91 386.50,410.07 386.90,407.31 387.30,404.29 387.70,399.71 388.10,398.22 388.50,394.65 388.90,391.74 389.30,388.26 389.70,382.85 390.10,378.33 390.50,373.96 390.90,369.39 391.30,363.56 391.70,360.81 392.10,360.62 392.50,358.32 392.90,358.40 393.30,357.70 393.70,358.38 394.10,360.31 394.50,361.72 394.90,361.40 395.30,364.29 395.70,368.17 396.10,373.67 396.50,377.53 396.90,381.70 397.30,383.84 397.70,384.74 398.10,385.97 398.50,386.51 398.90,386.19 399.30,385.57 399.70,385.24 400.10,385.14 400.50,384.70 400.90,385.13 401.30,384.50 401.70,386.13 402.10,386.44 402.50,388.00 402.90,386.97 403.30,385.81 403.70,385.68 404.10,384.27 404.50,383.95 404.90,383.41 405.30,385.30 405.70,385.32 406.10,384.92 406.50,385.82 406.90,385.49 407.30,383.79 407.70,382.23 408.10,380.18 408.50,378.78 408.90,377.61 409.30,377.80 409.70,377.63 410.10,378.11 410.50,379.75 410.90,379.43 411.30,380.95 411.70,381.22 412.10,382.42 412.50,383.72 412.90,384.15 413.30,385.10 413.70,385.25 414.10,388.42 414.50,393.40 414.90,398.17 415.30,402.49 415.70,407.28 416.10,410.75 416.50,415.08 416.90,419.81 417.30,426.88 417.70,436.23 418.10,445.18 418.50,455.49 418.90,463.95 419.30,474.06 419.70,482.58 420.10,493.10 420.50,501.54 420.90,491.95 421.30,483.23 421.70,476.12 422.10,469.22 422.50,457.27 422.90,443.16 423.30,428.41 423.70,412.90 424.10,399.20 424.50,384.38 424.90,368.81 425.30,354.70 425.70,345.53 426.10,343.20 426.50,341.43 426.90,338.89 427.30,337.99 427.70,334.03 428.10,332.83 428.50,337.93 428.90,341.58 429.30,346.68 429.70,352.70 430.10,357.21 430.50,362.04 430.90,366.24 431.30,369.38 431.70,372.88 432.10,375.95 432.50,381.09 432.90,391.38 433.30,402.74 433.70,407.10 434.10,404.38 434.50,403.78 434.90,401.49 435.30,401.63 435.70,403.22 436.10,406.07 436.50,408.50 436.90,409.44 437.30,408.37 437.70,408.32 438.10,407.48 438.50,408.29 438.90,410.15 439.30,413.21 439.70,414.96 440.10,413.89 440.50,413.09 440.90,411.60 441.30,410.31 441.70,407.33 442.10,404.27 442.50,401.01 442.90,398.53 443.30,394.95 443.70,391.81 444.10,388.67 444.50,384.34 444.90,378.94 445.30,373.52 445.70,369.64 446.10,364.14 446.50,361.54 446.90,360.29 447.30,359.42 447.70,358.10 448.10,357.29 448.50,358.56 448.90,359.15 449.30,361.57 449.70,362.11 450.10,363.63 450.50,367.56 450.90,371.49 451.30,377.81 451.70,381.87 452.10,383.59 452.50,384.26 452.90,385.23 453.30,385.89 453.70,385.18 454.10,386.19 454.50,385.26 454.90,385.09 455.30,385.88 455.70,385.61 456.10,385.45 456.50,385.16 456.90,386.47 457.30,387.04 457.70,386.66 458.10,385.54 458.50,385.14 458.90,384.34 459.30,384.40 459.70,384.57 460.10,385.06 460.50,384.67 460.90,385.51 461.30,386.05 461.70,385.02 462.10,383.68 462.50,383.21 462.90,380.84 463.30,379.65 463.70,377.55 464.10,377.33 464.50,377.15 464.90,378.53 465.30,379.69 465.70,380.71 466.10,380.92 466.50,381.31 466.90,381.93 467.30,382.55 467.70,383.66 468.10,384.91 468.50,385.19 468.90,388.61 469.30,392.12 469.70,396.14 470.10,400.86 470.50,404.94 470.90,409.44 471.30,414.95 471.70,418.72 472.10,425.79 472.50,435.61 472.90,445.04 473.30,453.64 473.70,463.86 474.10,472.83 474.50,482.04 474.90,491.63 475.30,500.18 475.70,493.59 476.10,486.05 476.50,478.53 476.90,470.25 477.30,459.94 477.70,445.72 478.10,431.21 478.50,416.14 478.90,401.49 479.30,385.86 479.70,371.03 480.10,356.44 480.50,346.06 480.90,343.81 481.30,342.63 481.70,339.64 482.10,337.14 482.50,335.64 482.90,334.10 483.30,337.33 483.70,342.76 484.10,346.92 484.50,351.80 484.90,356.62 485.30,361.37 485.70,366.08 486.10,368.55 486.50,373.62 486.90,376.25 487.30,380.42 487.70,390.83 488.10,401.53 488.50,407.38 488.90,404.51 489.30,403.41 489.70,400.79 490.10,402.09 490.50,403.34 490.90,406.02 491.30,407.92 491.70,409.50 492.10,408.39 492.50,408.66 492.90,407.35 493.30,408.10 493.70,409.79 494.10,412.12 494.50,415.17 494.90,414.91 495.30,412.78 495.70,412.03 496.10,409.58 496.50,407.65 496.90,405.18 497.30,401.32 497.70,399.01 498.10,395.23 498.50,393.13 498.90,389.98 499.30,384.49 499.70,379.70 500.10,374.51 500.50,370.07 500.90,365.59 501.30,360.88 501.70,360.69 502.10,358.44 502.50,357.39 502.90,356.60 503.30,359.45 503.70,359.62 504.10,360.79 504.50,361.47 504.90,363.34 505.30,366.17 505.70,371.84 506.10,377.52 506.50,381.06 506.90,383.45 507.30,384.45 507.70,384.49 508.10,385.57 508.50,386.36 508.90,385.81 509.30,385.69 509.70,385.17 510.10,385.27 510.50,385.18 510.90,386.20 511.30,386.28 511.70,386.24 512.10,385.65 512.50,387.10 512.90,386.51 513.30,385.16 513.70,384.08 514.10,383.86 514.50,384.57 514.90,384.07 515.30,384.74 515.70,385.45 516.10,386.30 516.50,385.43 516.90,383.89 517.30,382.19 517.70,381.67 518.10,379.92 518.50,377.89 518.90,376.60 519.30,377.49 519.70,378.72 520.10,378.75 520.50,380.09 520.90,380.47 521.30,381.05 521.70,382.09 522.10,382.93 522.50,383.23 522.90,384.38 523.30,386.48 523.70,387.10 524.10,391.80 524.50,396.87 524.90,400.69 525.30,404.78 525.70,408.92 526.10,414.13 526.50,418.72 526.90,425.15 527.30,433.94 527.70,443.77 528.10,452.23 528.50,462.16 528.90,471.17 529.30,480.95 529.70,490.60 530.10,500.13 530.50,493.03 530.90,486.42 531.30,478.01 531.70,470.14 532.10,461.18 532.50,446.09 532.90,432.25 533.30,417.79 533.70,402.69 534.10,388.15 534.50,372.89 534.90,358.16 535.30,345.81 535.70,344.33 536.10,341.77 536.50,339.80 536.90,337.80 537.30,335.78 537.70,332.80 538.10,335.98 538.50,341.46 538.90,346.71 539.30,351.57 539.70,356.72 540.10,361.54 540.50,365.00 540.90,368.58 541.30,371.94 541.70,375.80 542.10,379.84 542.50,389.22 542.90,400.00 543.30,407.50 543.70,405.43 544.10,403.78 544.50,401.59 544.90,400.76 545.30,403.26 545.70,405.38 546.10,407.66 546.50,410.03 546.90,409.25 547.30,408.21 547.70,407.38 548.10,408.59 548.50,409.47 548.90,411.96 549.30,414.43 549.70,415.04 550.10,413.87 550.50,412.87 550.90,410.73 551.30,408.52 551.70,405.42 552.10,402.13 552.50,399.43 552.90,395.85 553.30,392.66 553.70,389.82 554.10,385.73 554.50,380.56 554.90,375.80 555.30,369.68 555.70,366.22 556.10,362.74 556.50,361.04 556.90,359.04 557.30,357.56 557.70,357.40 558.10,357.92 558.50,359.78 558.90,360.31 559.30,362.07 559.70,363.34 560.10,365.61 560.50,371.37 560.90,375.63 561.30,380.01 561.70,383.08 562.10,383.96 562.50,385.23 562.90,384.79 563.30,386.42 563.70,386.66 564.10,385.82 564.50,385.60 564.90,385.14 565.30,384.57 565.70,385.74 566.10,386.07 566.50,386.63 566.90,387.86 567.30,387.18 567.70,386.44 568.10,386.35 568.50,384.44 568.90,383.94 569.30,383.93 569.70,384.21 570.10,385.21 570.50,385.16 570.90,386.48 571.30,386.31 571.70,384.47 572.10,382.45 572.50,381.40 572.90,379.99 573.30,377.65 573.70,377.31 574.10,378.09 574.50,378.48 574.90,379.71 575.30,380.16 575.70,379.86 576.10,380.90 576.50,381.31 576.90,382.85 577.30,383.11 577.70,384.82 578.10,385.49 578.50,387.53 578.90,391.40 579.30,395.19 579.70,401.01 580.10,404.52 580.50,409.59 580.90,413.54 581.30,418.02 581.70,424.17 582.10,432.89 582.50,442.76 582.90,450.85 583.30,461.31 583.70,470.20 584.10,479.64 584.50,489.09 584.90,498.63 585.30,495.18 585.70,485.97 586.10,479.20 586.50,471.23 586.90,463.59 587.30,448.38 587.70,434.27 588.10,419.34 588.50,404.94 588.90,390.22 589.30,374.71 589.70,360.04 590.10,346.11 590.50,344.85 590.90,343.07 591.30,340.40 591.70,339.13 592.10,335.66 592.50,333.73 592.90,336.17 593.30,341.36 593.70,346.37 594.10,351.11 594.50,355.91 594.90,360.91 595.30,364.08 595.70,367.55 596.10,371.37 596.50,376.70 596.90,378.51 597.30,387.67 597.70,399.21 598.10,407.97 598.50,405.38 598.90,403.75 599.30,402.14 599.70,400.86 600.10,402.41 600.50,405.65 600.90,407.93 601.30,410.40 601.70,409.78 602.10,408.25 602.50,407.00 602.90,407.46 603.30,410.33 603.70,412.09 604.10,414.13 604.50,416.86 604.90,413.56 605.30,412.69 605.70,410.27 606.10,408.64 606.50,405.58 606.90,403.14 607.30,398.96 607.70,396.07 608.10,392.51 608.50,390.37 608.90,385.73 609.30,381.21 609.70,375.63 610.10,371.04 610.50,366.76" fill="none" stroke="#86bde7" stroke-width="1.2" stroke-linejoin="round"/>
<rect x="50.0" y="318.6" width="560.9" height="207.39999999999998" fill="none" stroke="#cdcdcd" stroke-width="1.5"/>
<line x1="50.0" y1="330.2" x2="56.8" y2="330.2" stroke="#1a1a1a" stroke-width="2"/>
<line x1="50.0" y1="394.6" x2="56.8" y2="394.6" stroke="#1a1a1a" stroke-width="2"/>
<line x1="50.0" y1="515.6" x2="56.8" y2="515.6" stroke="#1a1a1a" stroke-width="2"/>
<line x1="605.0" y1="395.4" x2="610.9" y2="395.4" stroke="#8a8a8a" stroke-width="1.5"/>
<line x1="684.7" y1="229.6" x2="1245.2" y2="229.6" stroke="#d4d4d4" stroke-width="1.4"/>
<line x1="782.7" y1="224.1" x2="782.7" y2="229.6" stroke="#c4c4c4" stroke-width="1.0"/>
<line x1="886.4" y1="224.1" x2="886.4" y2="229.6" stroke="#c4c4c4" stroke-width="1.0"/>
<line x1="989.6" y1="224.1" x2="989.6" y2="229.6" stroke="#c4c4c4" stroke-width="1.0"/>
<line x1="1093.7" y1="224.1" x2="1093.7" y2="229.6" stroke="#c4c4c4" stroke-width="1.0"/>
<line x1="1197.2" y1="224.1" x2="1197.2" y2="229.6" stroke="#c4c4c4" stroke-width="1.0"/>
<line x1="685.5" y1="527.5" x2="1246.1" y2="527.5" stroke="#d4d4d4" stroke-width="1.4"/>
<line x1="773.7" y1="522.0" x2="773.7" y2="527.5" stroke="#c4c4c4" stroke-width="1.0"/>
<line x1="867.6" y1="522.0" x2="867.6" y2="527.5" stroke="#c4c4c4" stroke-width="1.0"/>
<line x1="961.3" y1="522.0" x2="961.3" y2="527.5" stroke="#c4c4c4" stroke-width="1.0"/>
<line x1="1055.4" y1="522.0" x2="1055.4" y2="527.5" stroke="#c4c4c4" stroke-width="1.0"/>
<line x1="1149.5" y1="522.0" x2="1149.5" y2="527.5" stroke="#c4c4c4" stroke-width="1.0"/>
<line x1="1243.5" y1="522.0" x2="1243.5" y2="527.5" stroke="#c4c4c4" stroke-width="1.0"/>
<g fill="none" stroke="#1b74c6" stroke-opacity="0.4" stroke-width="1.4" stroke-linejoin="round">
<path d="M685.5 225.4l.6 .4 .6 .6 .6-1.2 .6 1.1 .6-1.1 .6 1.1 .6 .1 .6-.5 .6 1 .6-.8 .6 .2 .6-.1 .6 .1 .6 .2 .6 1 .6 .3 .6-.1 .6 .3 .6 .5 .6 .1 .6 0 .6 .1 .6-.4 .6-.2 .6 .3 .6-.1 .6 .2 .6 .1 .6-.3 .6 0 .6-.1 .6 0 .6-.2 .6 .2 .6 0 .6-.3 .6 .2 .6-.3 .6 .1 .6 .1 .6 .1 .6 .7 .6-.2 .6 .3 .6-.2 .6-.6 .6-.1 .6-.3 .6 .2 .6-.1 .6 .7 .6 0 .6 0 .6 .5 .6-.4 .6 0 .6-.1 .6-.5 .6 .3 .6 .2 .6-.2 .6 .1 .6 .3 .6 .2 .6-.4 .6 0 .6-.7 .6-.1 .6 .5 .6 .4 .6 .3 .6 0 .6 .1 .6-.3 .6-.2 .6 .1 .6 .1 .6-.1 .6 .2 .6-.2 .6-.1 .6-.1 .6-.3 .6-.2 .6-.5 .6 .4 .6 .2 .6 0 .6 .7 .6-.1 .6 0 .6-.4 .6-.2 .6 0 .6 .2 .6 .8 .6 .3 .6-.3 .6-.7 .6-.2 .6-.3 .6 .4 .6 .4 .6-.1 .6-.3 .6-.1 .6 0 .6 0 .6 .3 .6-.1 .6 .2 .6-.1 .6 .1 .6 .1 .6-.2 .6-.1 .6 .2 .6-.1 .6 .3 .6 .1 .6-.4 .6-.1 .6-.1 .6-.1 .6 .2 .6 0 .6-.2 .6 0 .6 .1 .6-.2 .6 .2 .6-.1 .6-.2 .6 .4 .6 0 .6 .3 .6 0 .6 .2 .6 0 .6-.4 .6 0 .6-.1 .6-.2 .6 .1 .6-.1 .6 .1 .6 .2 .6-.1 .6 .3 .6 0 .6 .3 .6 .2 .6-.3 .6-.3 .6-.2 .6 0 .6 .1 .6-.2 .6 0 .6-.4 .6 0 .6 .1 .6-.3 .6 .3 .6 0 .6-.1 .6 .3 .6 .4 .6-.2 .6 .6 .6-.3 .6-.5 .6 .3 .6-.6 .6 .4 .6 .1 .6-.1 .6 .2 .6-.5 .6-.1 .6 .3 .6-.3 .6 .2 .6 .1 .6 0 .6 .6 .6 0 .6-.2 .6-.1 .6-.3 .6 0 .6 .4 .6 .2 .6 .1 .6 0 .6-.1 .6-.6 .6-.1 .6-.1 .6 .3 .6 .5 .6 0 .6 .2 .6-.9 .6 0 .6 .2 .6-.1 .6 .6 .6 0 .6-.6 .6 .3 .6 .2 .6-.1 .6 .2 .6 0 .6-.5 .6 0 .6 .2 .6-.4 .6 .5 .6-.1 .6-.6 .6 .2 .6-.3 .6 .1 .6 .2 .6 .2 .6 0 .6 0 .6 .1 .6-.2 .6 .3 .6 0 .6 0 .6-.1 .6 0 .6 0 .6 .1 .6 .2 .6-.4 .6-.3 .6-.1 .6 0 .6 .3 .6 0 .6 .3 .6 .1 .6 0 .6 .3 .6-.2 .6-.2 .6 .1 .6-.2 .6 .2 .6-.2 .6 .2 .6-.2 .6-.1 .6-.1 .6-.1 .6 .4 .6 .2 .6 .4 .6-.4 .6-.4 .6-.3 .6-.3 .6 .5 .6 .2 .6 .1 .6 .2 .6-.4 .6-.2 .6-.1 .6 0 .6 .2 .6 .3 .6 .3 .6-.3 .6-.1 .6-.1 .6-.5 .6 .2 .6 .3 .6 .1 .6 .5 .6 .1 .6-.2 .6 0 .6-.3 .6 0 .6 .3 .6-.2 .6-.1 .6 0 .6-.2 .6 .2 .6 .1 .6 .1 .6-.4 .6-.2 .6 0 .6-.3 .6 .1 .6-.1 .6-.2 .6 .1 .6 .1 .6 .3 .6 .4 .6 0 .6 .5 .6 0 .6-.5 .6-.1 .6-.4 .6 .1 .6 0 .6 .3 .6 .3 .6-.5 .6 .3 .6 .1 .6-.3 .6 .6 .6-.5 .6-.2 .6-.2 .6-.1 .6 0 .6-.5 .6 .4 .6 .3 .6 .2 .6 .6 .6 0 .6-.5 .6 .2 .6 .2 .6-.3 .6 .2 .6-.1 .6-.5 .6 .5 .6 .2 .6-.2 .6 .6 .6-.3 .6-.4 .6 .5 .6-.3 .6 0 .6 .3 .6 0 .6 .1 .6-.3 .6-.5 .6-.1 .6-.3 .6 .3 .6 .1 .6-.3 .6 0 .6 .2 .6 0 .6 .1 .6 .2 .6-.1 .6-.1 .6 0 .6 0 .6-.1 .6 .3 .6 0 .6 0 .6-.1 .6 0 .6 0 .6-.1 .6 0 .6 0 .6 .5 .6 0 .6 0 .6 .2 .6-.7 .6-.3 .6-.2 .6-.3 .6 .8 .6 .4 .6 .4 .6 0 .6-.9 .6-.5 .6 0 .6 .1 .6 .2 .6 .6 .6-.5 .6 .2 .6 .5 .6-.3 .6 0 .6 0 .6-.5 .6 .3 .6 0 .6 0 .6 .2 .6-.2 .6 0 .6-.1 .6-.3 .6 0 .6 .1 .6 .1 .6 .1 .6 .3 .6 0 .6-.3 .6 .5 .6 0 .6 0 .6 .1 .6-.3 .6-.4 .6 0 .6 .4 .6 .1 .6 .1 .6 .1 .6-.3 .6 .1 .6 .2 .6-.2 .6 .1 .6 .2 .6 0 .6 0 .6 .3 .6-.4 .6-.3 .6 .2 .6-.5 .6-.1 .6 .2 .6-.1 .6 0 .6 0 .6-.2 .6 .3 .6 0 .6 0 .6 .4 .6-.3 .6 .4 .6 .4 .6-.4 .6-.2 .6-.2 .6-.1 .6 .2 .6 .3 .6 .1 .6 .2 .6-.4 .6 .2 .6-.2 .6-.3 .6 .1 .6 .1 .6 .2 .6-.3 .6 .1 .6-.4 .6-.2 .6 .3 .6-.3 .6 .2 .6-.2 .6 .1 .6 .1 .6-.3 .6 .3 .6 .2 .6 0 .6-.1 .6-.2 .6 .1 .6 .1 .6 .3 .6 0 .6-.2 .6 0 .6-.4 .6 .4 .6-.1 .6-.2 .6 .6 .6-.3 .6 .2 .6 0 .6-.5 .6 0 .6 .2 .6-.1 .6 .5 .6-.2 .6-.4 .6 .3 .6-.2 .6 .3 .6 0 .6-.3 .6-.3 .6-.4 .6 0 .6-.1 .6 .4 .6 .1 .6-.2 .6 .7 .6-.2 .6-.1 .6 .6 .6-.2 .6-.1 .6 0 .6-.4 .6 0 .6 .1 .6 .1 .6 .2 .6 0 .6-.2 .6 .1 .6-.3 .6 .2 .6 .6 .6 .2 .6 .3 .6-.3 .6-.7 .6-.1 .6-.3 .6-.3 .6 .2 .6-.1 .6 .4 .6 .3 .6 .2 .6-.1 .6 0 .6-.1 .6 .1 .6 0 .6-.6 .6 0 .6 .1 .6 .3 .6 .5 .6 .2 .6-.3 .6 0 .6-.1 .6-.1 .6-.1 .6-.2 .6-.1 .6 0 .6 .2 .6 .2 .6 .3 .6 .1 .6 .3 .6-.1 .6 .1 .6 .3 .6-.5 .6 0 .6 0 .6-.1 .6 .1 .6 0 .6-.2 .6-.5 .6 .2 .6-.1 .6-.4 .6 .2 .6-.5 .6-.1 .6 .3 .6-.2 .6 .6 .6-.1 .6 0 .6 .3 .6 .1 .6 .4 .6 0 .6-.1 .6-.3 .6 .1 .6-.2 .6 .1 .6 0 .6-.2 .6 .1 .6 .3 .6-.1 .6 0 .6 .1 .6-.3 .6 .2 .6 0 .6 .2 .6-.4 .6-.1 .6-.3 .6-.1 .6 0 .6-.2 .6 .3 .6 .2 .6 .3 .6 .2 .6 .3 .6-.5 .6-.4 .6-.2 .6-.3 .6 .4 .6 .8 .6-.2 .6 .5 .6 .1 .6-.3 .6 .4 .6-.1 .6-.2 .6-.3 .6 0 .6-.7 .6 .1 .6 .1 .6 0 .6 .3 .6-.3 .6 .3 .6-.3 .6 .1 .6-.1 .6-.1 .6 0 .6-.1 .6 .1 .6-.4 .6-.1 .6 0 .6 .2 .6 .2 .6-.2 .6-.2 .6-.1 .6 .1 .6 .3 .6 .3 .6 .2 .6 .2 .6 0 .6-.1 .6-.2 .6-.4 .6 .3 .6 0 .6-.1 .6 .6 .6-.1 .6 .2 .6 .3 .6-.2 .6-.3 .6-.2 .6-.1 .6-.2 .6 .2 .6 .1 .6 .1 .6 .4 .6 .1 .6-.1 .6-.1 .6-.1 .6-.2 .6 .3 .6-.1 .6-.2 .6 .2 .6-.3 .6 .1 .6-.2 .6-.2 .6-.1 .6-.3 .6-.1 .6 .4 .6 .1 .6 .3 .6 .5 .6-.4 .6 .1 .6-.3 .6-.1 .6-.1 .6 0 .6 .3 .6-.3 .6-.3 .6-.2 .6 .1 .6 .3 .6 .4 .6-.2 .6-.6 .6-.2 .6-.1 .6 .2 .6 .6 .6 .1 .6-.2 .6 0 .6-.1 .6 .1 .6 .2 .6 .5 .6 0 .6 0 .6-.2 .6-.5 .6 .2 .6 .1 .6 .1 .6 .1 .6 0 .6-.5 .6-.5 .6 .3 .6 .1 .6 .4 .6 .2 .6-.6 .6 .1 .6-.5 .6 .3 .6 .3 .6-.2 .6 .7 .6 0 .6 .3 .6-.2 .6-.4 .6 0 .6-.1 .6 .2 .6 .4 .6-.2 .6-.4 .6 .2 .6 .1 .6 .4 .6 .1 .6-.4 .6-.5 .6-.3 .6 .1 .6 .3 .6 0 .6 .1 .6-.1 .6-.1 .6 .3 .6-.1 .6 .1 .6 0 .6 0 .6-.1 .6 0 .6 0 .6-.5 .6 .3 .6-.2 .6 .2 .6 .4 .6-.1 .6 .1 .6-.2 .6-.1 .6-.3 .6 .3 .6-.3 .6 .1 .6 .4 .6-.3 .6 .4 .6 .2 .6 .1 .6 0 .6 .4 .6-.3 .6-.2 .6-.1 .6-.6 .6 .2 .6 .3 .6-.1 .6 0 .6 0 .6-.1 .6 .5 .6 .3 .6-.1 .6-.2 .6-.3 .6-.2 .6-.3 .6 .1 .6-.1 .6 0 .6 .2 .6 .3 .6 .1 .6 .2 .6 0 .6-.5 .6-.2 .6-.1 .6 0 .6 .2 .6 .2 .6 0 .6-.1 .6 0 .6-.3 .6 0 .6-.1 .6 .1 .6 .2 .6 0 .6 0 .6 0 .6-.1 .6 0 .6 .3 .6 .1 .6-.2 .6 .1 .6-.1 .6 .1 .6 .3 .6-.4 .6-.1 .6 0 .6 .1 .6 .2 .6-.5 .6-.1 .6-.1 .6 .2 .6 .7 .6 .5 .6 .2 .6 0 .6 0 .6-.7 .6-.1 .6-.1 .6-.3 .6 .4 .6-.1 .6-.2 .6 .1 .6-.2 .6 0 .6 0 .6 .1 .6-.3 .6-.1 .6-.2 .6-.2 .6 .5 .6 0 .6 .3 .6 .1 .6 .2 .6-.2 .6 .2 .6-.3 .6-.4 .6 .2 .6-.3 .6 .3 .6 .2 .6-.2 .6 .1 .6-.1 .6-.4 .6 .1 .6-.1 .6 .3 .6 .2 .6 .3 .6 .1 .6 .1 .6 .3 .6-.3 .6 .3 .6-.2 .6 .1 .6 .3 .6-.2 .6-.4 .6-.8 .6-.3 .6 .2 .6 .3 .6 .5 .6 0 .6-.3 .6 .1"/>
<path d="M685.5 226.0l.6-.7 .6 .8 .6-.4 .6 .9 .6-.2 .6 .5 .6 .7 .6 0 .6-.8 .6-.4 .6 .9 .6-.2 .6-.3 .6 .9 .6 .5 .6-.9 .6 .3 .6-.6 .6 .2 .6-1 .6-.3 .6 0 .6-2 .6-.2 .6 .5 .6-.5 .6 1.6 .6 .7 .6 0 .6-.2 .6-.2 .6-.4 .6 1.4 .6-1.3 .6-.3 .6 .6 .6-.2 .6 0 .6 .5 .6 .2 .6-.4 .6 0 .6 .1 .6 .6 .6-.6 .6 1.3 .6 .7 .6-1.2 .6 .5 .6 .1 .6-.3 .6 .1 .6 .1 .6-.4 .6-.5 .6 1 .6-1.3 .6 1.2 .6-.4 .6-.6 .6 1.2 .6-1.1 .6 0 .6 .3 .6-.8 .6 1.3 .6 .6 .6-1.4 .6 .5 .6 .6 .6-1.5 .6 1.4 .6-1.7 .6 0 .6 .2 .6-.1 .6-.5 .6 .2 .6-.4 .6 0 .6-.3 .6 0 .6 1.4 .6-.3 .6-1.1 .6-.1 .6-.5 .6 2.5 .6-.6 .6 .1 .6 .7 .6 .7 .6 0 .6-.4 .6 .4 .6-.2 .6 .5 .6-.4 .6 .3 .6-.1 .6-.6 .6-.1 .6 .5 .6 0 .6 .3 .6 .2 .6 .2 .6-.7 .6-.5 .6-.4 .6 0 .6 .7 .6 .1 .6 .6 .6-.6 .6 .2 .6-1.1 .6 .3 .6-.2 .6-.7 .6 1.2 .6 .4 .6-.2 .6 .6 .6-.6 .6 0 .6 .1 .6-.4 .6 .6 .6 .1 .6 .3 .6 .1 .6 .1 .6-.5 .6-.2 .6-.3 .6-.1 .6 .1 .6 .3 .6-.3 .6 .6 .6 .2 .6-.4 .6-1 .6 .5 .6-1.8 .6 1.6 .6-.9 .6 1 .6-.7 .6 0 .6 1.1 .6 .9 .6 .2 .6 .7 .6 0 .6-.5 .6 .3 .6-.2 .6 .1 .6 0 .6-.3 .6 .1 .6 0 .6-.2 .6-.1 .6 .2 .6-.3 .6 .2 .6 .2 .6-.2 .6 .4 .6-.3 .6-.2 .6-.3 .6-.4 .6 .4 .6 .2 .6 0 .6 0 .6-.2 .6-.3 .6 .1 .6 .4 .6 .1 .6-.1 .6-.3 .6 0 .6-.1 .6 .1 .6 .3 .6 .2 .6-1 .6 .5 .6 .2 .6-.4 .6 .2 .6-.3 .6-.6 .6-.1 .6-.2 .6 .2 .6-.2 .6 .8 .6 .3 .6 .1 .6 .5 .6-.1 .6 .1 .6-.2 .6 0 .6-.1 .6 .1 .6 .1 .6 .1 .6-.1 .6-.5 .6 .2 .6-.6 .6-.4 .6 .6 .6-.2 .6 .3 .6-.4 .6 .2 .6-.4 .6-1.6 .6 .9 .6-.1 .6 .5 .6-.4 .6 .1 .6 .1 .6-.7 .6-.1 .6 .4 .6 .2 .6 .9 .6-.1 .6-.2 .6 .9 .6-.3 .6 .3 .6-.2 .6-.7 .6-.4 .6-.4 .6 .6 .6 .4 .6 .8 .6-.2 .6-.5 .6 .3 .6-.1 .6 .3 .6 .2 .6 .3 .6 .2 .6-.2 .6-.2 .6-.2 .6 0 .6-.2 .6 .3 .6-.8 .6 .3 .6 0 .6-.6 .6 .6 .6 .2 .6 .1 .6-.1 .6 .4 .6 .2 .6 .2 .6 .5 .6-.2 .6 0 .6 .1 .6-.1 .6 .1 .6 .1 .6-.5 .6 0 .6 .1 .6-.1 .6 .2 .6-.1 .6-.3 .6 .4 .6-.4 .6 0 .6-.1 .6 0 .6-.5 .6-.1 .6-.2 .6 .3 .6-.1 .6-.1 .6 .5 .6 .1 .6 .7 .6-.2 .6 .2 .6 .2 .6-.5 .6 0 .6-.4 .6-.4 .6 .2 .6-.4 .6-.3 .6-.5 .6 0 .6 0 .6 .3 .6 0 .6 0 .6 .2 .6 .2 .6-.3 .6 .4 .6-.9 .6-.9 .6-.1 .6 .5 .6 0 .6 1.1 .6-1 .6 .4 .6 .6 .6-.1 .6-.3 .6-.6 .6-.4 .6-.2 .6-.1 .6 1.1 .6 .8 .6-.6 .6 .8 .6 0 .6 .2 .6 .5 .6 0 .6 0 .6 .4 .6-.6 .6 .2 .6-.1 .6-.4 .6 .2 .6-.1 .6 .3 .6 .2 .6 .1 .6 .3 .6 .2 .6 .1 .6 .1 .6-.3 .6-.6 .6-.2 .6-.3 .6-.2 .6-.7 .6 1 .6-.6 .6-.2 .6 1 .6-.4 .6 .4 .6-.3 .6-.4 .6-.1 .6 0 .6 .4 .6 .1 .6 .4 .6 .1 .6 0 .6-.4 .6 0 .6-.7 .6 .7 .6-.6 .6 .6 .6-.4 .6 .1 .6 .3 .6 0 .6 0 .6 .1 .6 .1 .6-.2 .6-.5 .6-.4 .6-1 .6 1.1 .6-.4 .6 .6 .6 .2 .6-.8 .6 .3 .6-.7 .6 0 .6-.3 .6 .8 .6 .9 .6-.4 .6 .9 .6-.6 .6 .1 .6-.2 .6-.1 .6-.1 .6 .8 .6 .1 .6 .1 .6-.2 .6 .2 .6 .3 .6 .4 .6-.2 .6 0 .6-.2 .6-.6 .6-.1 .6-.1 .6-.8 .6 .4 .6-.5 .6-.2 .6 .9 .6 0 .6 .2 .6 .6 .6 .3 .6 0 .6-.3 .6-.1 .6-.1 .6 0 .6-.2 .6 .1 .6 .2 .6 .3 .6 0 .6 0 .6-.6 .6 .1 .6 .1 .6 0 .6 .6 .6-.2 .6 .1 .6-.2 .6-.1 .6 0 .6-.3 .6 .2 .6-.1 .6-.1 .6-.1 .6-.4 .6 .7 .6 .2 .6-.3 .6-.2 .6-.6 .6-.1 .6 .4 .6-.2 .6 .3 .6-.3 .6-.2 .6 .2 .6 .3 .6 .1 .6-.2 .6 .2 .6 0 .6-.1 .6-.2 .6-.2 .6 .8 .6-.3 .6 .4 .6 .1 .6-.5 .6 .3 .6 .1 .6 0 .6 .4 .6 0 .6-.4 .6 0 .6-.2 .6-.3 .6 .2 .6-.4 .6-.1 .6 .4 .6-.5 .6 .3 .6-1 .6 0 .6-.5 .6-.2 .6 .5 .6-.1 .6 .1 .6 .6 .6-.2 .6 0 .6 .3 .6 .2 .6-.3 .6 .6 .6-.1 .6 .2 .6 .5 .6 .1 .6 0 .6 .1 .6-.2 .6 .1 .6 .7 .6 .1 .6 .1 .6-.2 .6-.2 .6-.1 .6 .1 .6-.3 .6-.6 .6-.2 .6-.2 .6 .3 .6 .1 .6-.1 .6 0 .6-.8 .6 .5 .6 .5 .6-.7 .6 .7 .6-.4 .6 .1 .6 .1 .6-.4 .6 0 .6 .1 .6-.1 .6 .6 .6-.4 .6 .3 .6 .2 .6 .3 .6 .3 .6 0 .6-.1 .6-.2 .6-.1 .6-.1 .6 .4 .6 0 .6-.2 .6 0 .6-.5 .6-.8 .6 .4 .6-.2 .6 .7 .6-.8 .6-.2 .6 .5 .6-.6 .6-.4 .6 1.3 .6 .1 .6-.8 .6 .5 .6 0 .6 .3 .6-.1 .6 .1 .6-.9 .6 0 .6 .5 .6-.1 .6 .2 .6-.7 .6 .1 .6 1.1 .6-.2 .6 0 .6 .9 .6-.2 .6 .4 .6-.3 .6-.4 .6-.1 .6 .1 .6 .2 .6-.3 .6 .3 .6-.2 .6-.1 .6 .2 .6-.4 .6 0 .6 .1 .6-.2 .6 0 .6-.5 .6-.1 .6 .1 .6 .3 .6 .3 .6-.1 .6 0 .6 .1 .6-.4 .6-.1 .6 .6 .6-.4 .6 0 .6 .2 .6 .1 .6 .2 .6 .2 .6-.1 .6 .1 .6 .3 .6-.2 .6 .1 .6-.2 .6-.2 .6 .4 .6-.1 .6-.2 .6 .2 .6-.3 .6-.4 .6-.2 .6-.4 .6 .3 .6-.3 .6 .7 .6 .3 .6 .1 .6 .4 .6-.1 .6 .1 .6 0 .6-.1 .6-.3 .6 0 .6-.4 .6-.9 .6-.3 .6-1.1 .6 .7 .6 .1 .6-.7 .6 .3 .6 .6 .6-.4 .6-.5 .6 .2 .6 .6 .6 .1 .6 .4 .6 .4 .6-.2 .6-.2 .6-.7 .6-.2 .6 .5 .6 .1 .6-.1 .6-.6 .6 .6 .6-.5 .6-.6 .6-.3 .6 .7 .6 1 .6-.8 .6-.1 .6 .1 .6 1 .6 .1 .6-.7 .6 .7 .6 0 .6-.2 .6 .5 .6-.5 .6-.4 .6 .1 .6-.3 .6 .7 .6 .3 .6-.2 .6 .3 .6 .1 .6 .2 .6 0 .6 .3 .6-.2 .6 .6 .6-.3 .6 .1 .6 .1 .6-.3 .6 .2 .6-.1 .6 .2 .6-.3 .6-.1 .6-.7 .6-1.2 .6-1.3 .6 .5 .6-1 .6-.6 .6 2.3 .6-2.2 .6 1.8 .6-1 .6 1.5 .6 0 .6 .5 .6-.9 .6 1.5 .6-.8 .6-.1 .6 1.1 .6 0 .6-.4 .6 .6 .6-.9 .6-.3 .6-1.7 .6 .4 .6-.4 .6 .2 .6-.4 .6 1.4 .6 0 .6 1 .6 .2 .6-.3 .6 .4 .6-.1 .6-.3 .6 .4 .6-.1 .6 .5 .6 .2 .6-.1 .6-.3 .6 .2 .6-.2 .6 .4 .6-.1 .6 .3 .6 .2 .6-.5 .6 .3 .6 .4 .6 .2 .6 0 .6-.1 .6 .1 .6-.2 .6 .4 .6 .3 .6-.7 .6 .2 .6-.3 .6-.6 .6 .8 .6-.6 .6 0 .6-.3 .6-.2 .6 .5 .6-.2 .6 .3 .6 .1 .6 .1 .6 .5 .6-.3 .6 .1 .6-.1 .6-.4 .6-.3 .6 0 .6-.3 .6 0 .6 .7 .6 .4 .6 .5 .6 .2 .6-.3 .6-.1 .6-.2 .6 0 .6-.3 .6-.3 .6-.3 .6 .3 .6 .2 .6 .1 .6 .3 .6-.3 .6 .2 .6-.1 .6-.4 .6 .3 .6-.2 .6 0 .6 .1 .6-.4 .6 0 .6 .2 .6-.3 .6-.6 .6-.4 .6-.2 .6 .5 .6-.5 .6 .3 .6-.9 .6 .6 .6 .5 .6-.3 .6 .2 .6-.7 .6-.5 .6 .4 .6-.9 .6 .7 .6 .8 .6 .6 .6-.2 .6 0 .6-.7 .6 .2 .6-.5 .6 .3 .6 .2 .6 .3 .6 .6 .6-.3 .6 .1 .6 0 .6-.3 .6 .3 .6-.2 .6 .1 .6 .2 .6 .1 .6 .7 .6-.1 .6 .1 .6-.1 .6 0 .6 0 .6 .2 .6 .1 .6 .1 .6-.1 .6 0 .6 0 .6-.1 .6 .4 .6 0 .6 .1 .6 .3 .6-.1 .6-.2 .6-.4 .6-.3 .6-.2 .6 .3 .6 .2 .6 .1 .6 .3 .6-.3 .6 .1 .6-.3 .6-.4 .6 .3 .6-.1 .6 .1 .6 .6 .6-.1 .6 .2 .6-.5 .6-.8 .6 0 .6-.6 .6 .3 .6-.5 .6 .4 .6 .3 .6-.3 .6-.2 .6 1.1 .6-.7 .6 .3 .6-.2 .6 0 .6 0 .6 .2 .6 .1 .6 0 .6-.1 .6 .1 .6-.1 .6-.1 .6 .1 .6-.2 .6 .1 .6-.1 .6 .1"/>
<path d="M685.5 225.9l.6 .1 .6 .4 .6-1.4 .6 .3 .6 .3 .6 1.1 .6-1.1 .6 0 .6 .4 .6 1.2 .6 .2 .6-.1 .6-.4 .6 0 .6 .4 .6 .2 .6-.2 .6 .5 .6 0 .6 .5 .6 .4 .6-.4 .6 0 .6-.2 .6-.4 .6 .3 .6-.2 .6 .2 .6 .3 .6-.3 .6 .3 .6 .5 .6-.2 .6 .4 .6 0 .6-.6 .6-.3 .6-.1 .6-.6 .6 .3 .6 .3 .6 .1 .6 .4 .6 .3 .6-.1 .6 .1 .6 0 .6-.1 .6 0 .6 0 .6-.3 .6 .1 .6 .2 .6-.3 .6 0 .6-.3 .6-.2 .6 .2 .6 .3 .6 .5 .6 .3 .6 0 .6-.3 .6-.5 .6-.2 .6 .1 .6 0 .6 .2 .6-.2 .6-.6 .6 .1 .6 .1 .6 0 .6 .2 .6 .1 .6 0 .6 .3 .6 .4 .6 .1 .6-.1 .6-.5 .6-.3 .6-.4 .6 0 .6 .5 .6 .2 .6 .4 .6 .1 .6 0 .6-.3 .6-.5 .6 0 .6-.2 .6-.2 .6 .2 .6-.4 .6-.1 .6 .5 .6 0 .6 .7 .6 .1 .6-.4 .6-.2 .6-.1 .6 .1 .6-.1 .6 .2 .6 .1 .6-.3 .6 .4 .6-.3 .6-.4 .6 .3 .6-.3 .6 .1 .6-.1 .6-.2 .6-.1 .6 .3 .6 .3 .6 .4 .6 .2 .6 .3 .6 0 .6-.3 .6 .2 .6-.1 .6 .2 .6 .2 .6-.1 .6-.1 .6-.3 .6-.1 .6 .1 .6 .2 .6-.3 .6 0 .6-.3 .6-.2 .6 .5 .6 .2 .6 .2 .6-.2 .6-.1 .6-.2 .6 .2 .6 0 .6-.1 .6-.1 .6 .1 .6-.3 .6-.2 .6-.2 .6-.1 .6 .2 .6 .1 .6 .5 .6-.2 .6 0 .6-.1 .6 .1 .6 .3 .6 .3 .6-.1 .6-.3 .6-.1 .6 0 .6 0 .6 0 .6-.4 .6-.2 .6-.1 .6-.1 .6 .3 .6-.1 .6 .1 .6 .2 .6 .1 .6 .3 .6 .3 .6-.2 .6-.3 .6 .2 .6-.4 .6 .1 .6-.2 .6 0 .6 .3 .6-.1 .6 0 .6-.2 .6 0 .6 .3 .6 .7 .6 0 .6-.1 .6-.3 .6-.4 .6-.3 .6-.1 .6 0 .6-.2 .6 0 .6 .4 .6-.1 .6 .4 .6 .5 .6-.3 .6 .3 .6-.2 .6-.3 .6 0 .6-.2 .6 .1 .6 .1 .6 0 .6 .2 .6-.1 .6-.1 .6 .3 .6-.4 .6 0 .6 .4 .6-.2 .6 .5 .6-.1 .6-.3 .6-.1 .6-.3 .6-.1 .6 .1 .6 .1 .6 .2 .6 0 .6 0 .6 .4 .6-.1 .6 .3 .6-.1 .6-.7 .6 .3 .6-.5 .6 0 .6 .1 .6-.3 .6 .1 .6 .3 .6 .1 .6 .2 .6 .1 .6 .2 .6 .1 .6-.1 .6-.4 .6-.4 .6-.1 .6 0 .6 .2 .6 .1 .6 .1 .6 .1 .6 .1 .6-.1 .6-.5 .6 .5 .6 .1 .6 .2 .6 .1 .6-.3 .6-.2 .6-.4 .6 0 .6-.1 .6 .6 .6 .3 .6-.1 .6-.1 .6-.5 .6-.1 .6 .1 .6 .1 .6 0 .6 .4 .6 0 .6-.1 .6 0 .6-.1 .6 .1 .6 .1 .6-.1 .6 .1 .6-.2 .6-.1 .6 .3 .6 .2 .6 0 .6-.2 .6-.1 .6-.1 .6 0 .6 .7 .6-.4 .6 .1 .6 .2 .6-.2 .6 .2 .6-.1 .6 0 .6 .1 .6 .1 .6-.3 .6 0 .6-.1 .6-.1 .6-.1 .6-.2 .6-.3 .6 .2 .6 .2 .6-.4 .6 .4 .6 .1 .6 0 .6 0 .6-.1 .6-.1 .6-.3 .6 .2 .6 .3 .6-.2 .6 .1 .6 .2 .6 .1 .6 .1 .6-.1 .6-.4 .6-.4 .6-.4 .6 .3 .6 .4 .6-.4 .6 .3 .6 0 .6-.2 .6 .5 .6 .2 .6 .1 .6 .6 .6 0 .6-.3 .6-.4 .6-.7 .6 .1 .6 .2 .6 .3 .6 .2 .6 .2 .6 .1 .6 .1 .6-.1 .6-.4 .6-.4 .6-.3 .6 .1 .6-.1 .6 .1 .6 .5 .6-.1 .6 0 .6-.1 .6-.4 .6 .2 .6 .2 .6 .4 .6 .1 .6-.4 .6 .2 .6-.2 .6 .3 .6 .1 .6-.2 .6-.1 .6-.3 .6 .1 .6 0 .6 .4 .6 .1 .6 .2 .6 0 .6 0 .6 .2 .6-.3 .6 .4 .6 .1 .6-.2 .6 0 .6-.4 .6-.3 .6-.1 .6-.2 .6 .1 .6-.1 .6 .2 .6 .4 .6 .3 .6 .5 .6-.2 .6 .2 .6-.2 .6-.3 .6-.3 .6-.3 .6 .2 .6-.1 .6 .2 .6-.1 .6-.4 .6-.2 .6-.2 .6 .2 .6 .4 .6 .1 .6 0 .6-.3 .6 .2 .6-.2 .6 .1 .6 0 .6-.2 .6 0 .6 .1 .6 0 .6-.2 .6 0 .6 0 .6 .1 .6-.1 .6 .5 .6-.1 .6 .5 .6 .2 .6-.2 .6 0 .6 .1 .6 .1 .6 0 .6 0 .6-.6 .6-.1 .6 0 .6-.2 .6 .2 .6 .1 .6 .2 .6 .3 .6-.1 .6-.7 .6-.2 .6-.1 .6 .1 .6 .7 .6 .2 .6-.3 .6-.1 .6-.4 .6 0 .6 .3 .6-.3 .6-.1 .6-.2 .6-.4 .6 .3 .6 .1 .6 .3 .6 .3 .6 0 .6 0 .6-.2 .6 .2 .6-.1 .6-.4 .6 .5 .6 0 .6 .2 .6 .8 .6-.7 .6-.3 .6-.1 .6-.3 .6 .1 .6 .3 .6 0 .6 .2 .6 .1 .6-.4 .6 0 .6-.4 .6-.1 .6 .3 .6 .4 .6 .2 .6-.3 .6 0 .6-.6 .6 .4 .6 .4 .6 .3 .6 .1 .6-.5 .6-.1 .6-.5 .6-.1 .6 0 .6-.1 .6 0 .6-.2 .6 .4 .6-.1 .6 .3 .6 .5 .6-.2 .6 0 .6-.1 .6 .2 .6 .1 .6 .3 .6 .4 .6-.6 .6-.3 .6-.1 .6-.7 .6 .4 .6 .1 .6 .1 .6 0 .6-.1 .6 0 .6-.1 .6 .3 .6 .2 .6 .2 .6 .1 .6 .4 .6 0 .6-.2 .6 .1 .6-.5 .6-.1 .6 .1 .6-.5 .6-.3 .6 .4 .6-.1 .6 .5 .6 .4 .6-.3 .6-.3 .6-.2 .6-.2 .6 .1 .6 .3 .6 .1 .6 .3 .6-.2 .6-.4 .6 .3 .6 .1 .6-.1 .6 .4 .6-.1 .6 .1 .6 .1 .6 .1 .6-.3 .6 0 .6 .1 .6 0 .6-.2 .6-.1 .6-.1 .6 0 .6-.2 .6-.5 .6-.1 .6-.3 .6 .6 .6 .3 .6 .1 .6 .1 .6-.3 .6 .1 .6-.2 .6-.1 .6-.2 .6 .5 .6 0 .6 .1 .6 0 .6-.7 .6 0 .6 .1 .6 .5 .6 .1 .6 .1 .6 .1 .6-.2 .6 .1 .6-.4 .6-.4 .6-.1 .6 .1 .6 .3 .6 .5 .6 .2 .6 .1 .6 .1 .6-.3 .6-.2 .6 .2 .6-.1 .6-.4 .6 .1 .6-.5 .6 .2 .6 .5 .6 .4 .6 .6 .6-.3 .6-.5 .6-.5 .6-.3 .6-.4 .6 .2 .6 .4 .6-.3 .6 .5 .6-.1 .6 .2 .6 .5 .6-.1 .6 0 .6-.3 .6-.3 .6 .3 .6 .3 .6 .2 .6 .1 .6 .2 .6 0 .6-.3 .6-.2 .6 0 .6 .2 .6 .2 .6 .3 .6-.2 .6 .3 .6-.3 .6-.2 .6-.1 .6-.3 .6 .1 .6-.4 .6-.2 .6-.2 .6 0 .6 .5 .6 .2 .6-.1 .6-.1 .6-.2 .6 .1 .6 .2 .6 .2 .6-.3 .6-.3 .6-.2 .6 0 .6 .2 .6 0 .6-.1 .6 0 .6-.1 .6 .4 .6 .2 .6-.1 .6 .3 .6-.4 .6 .1 .6-.1 .6 0 .6 .1 .6-.4 .6-.2 .6-.1 .6 .2 .6-.1 .6 .7 .6 0 .6-.3 .6 .6 .6-.4 .6 .3 .6-.3 .6 0 .6 .1 .6-.3 .6 .6 .6-.6 .6 .1 .6 .1 .6 0 .6 .1 .6-.4 .6 0 .6 .1 .6 .2 .6 .1 .6-.1 .6-.1 .6 .3 .6 0 .6-.1 .6 .4 .6-.6 .6 .1 .6 .1 .6-.2 .6 .3 .6-.4 .6-.2 .6-.2 .6 0 .6 .2 .6 .1 .6-.3 .6-.3 .6 0 .6 0 .6 .3 .6 0 .6 .4 .6-.2 .6 .2 .6 .4 .6 0 .6 .5 .6-.4 .6 0 .6-.1 .6-.1 .6 .3 .6-.2 .6 .1 .6-.2 .6-.1 .6 .1 .6-.3 .6-.1 .6 .1 .6 .4 .6 .2 .6 .1 .6-.1 .6-.4 .6-.3 .6 .1 .6 .1 .6 0 .6 .3 .6-.1 .6 0 .6 .1 .6 0 .6 .1 .6 0 .6-.1 .6 .1 .6 0 .6 .1 .6 .1 .6-.3 .6-.2 .6-.1 .6 0 .6 .1 .6 .2 .6-.1 .6-.2 .6-.2 .6 0 .6 0 .6 .5 .6 .6 .6 0 .6 .1 .6-.2 .6-.3 .6-.3 .6-.6 .6 0 .6 .1 .6 .1 .6 .5 .6 .1 .6 0 .6 .1 .6-.1 .6-.1 .6 0 .6 .4 .6-.1 .6-.1 .6-.3 .6-.5 .6 .6 .6-.1 .6 .1 .6 0 .6-.3 .6 0 .6-.3 .6 .2 .6-.1 .6 .1 .6 .4 .6-.2 .6-.3 .6 0 .6-.3 .6 .1 .6 0 .6-.1 .6 .4 .6 .1 .6 .4 .6 .1 .6-.2 .6-.2 .6-.2 .6-.2 .6 .1 .6-.1 .6-.2 .6 0 .6-.4 .6 .2 .6 .1 .6 .1 .6 .4 .6-.4 .6 .1 .6 .2 .6 0 .6 .5 .6-.1 .6 .1 .6 0 .6 .4 .6 .5 .6-.2 .6 .1 .6-.4 .6-.6 .6 .2 .6 0 .6-.5 .6 .4 .6-.3 .6 .1 .6 .5 .6-.3 .6 .5 .6-.4 .6 .3 .6-.2 .6-.3 .6-.2 .6-.3 .6 .2 .6 .3 .6 .4 .6 0 .6 .2 .6 .1 .6-.2 .6-.3 .6-.4 .6-.1 .6-.1 .6 0 .6 0 .6-.2 .6 .2 .6 .1 .6 0 .6 .1 .6-.4 .6-.1 .6 .4 .6 0 .6 .6 .6 .1 .6-.1 .6-.1 .6-.3 .6 .1 .6 .1 .6-.4 .6-.1 .6-.4 .6-.4 .6 .1 .6 .1 .6 .3 .6 .4 .6 .4 .6 0 .6-.1 .6 0 .6-.4 .6 .1 .6-.3 .6 .1 .6 .1 .6-.1 .6 .1 .6-.3 .6 0 .6 .1 .6 .5"/>
<path d="M685.5 226.3l.6 .3 .6-.9 .6-.5 .6 .8 .6 1 .6-.6 .6 0 .6-.4 .6-.6 .6 .6 .6 1.1 .6 .2 .6 .7 .6-.7 .6-.1 .6-.2 .6 0 .6 .2 .6-.5 .6-.3 .6 1 .6-1.3 .6-.3 .6-2.1 .6-.5 .6 1.4 .6 1.2 .6 .6 .6-.6 .6-.2 .6 .9 .6-1.3 .6 1.1 .6-1.1 .6 1.7 .6-2 .6 .1 .6 .8 .6-.4 .6-.3 .6 1.1 .6-.9 .6-.2 .6 .1 .6 1 .6 .7 .6-.1 .6 0 .6 0 .6-.6 .6 .6 .6 .8 .6-.5 .6-.3 .6 .5 .6-.3 .6-1.1 .6 .5 .6-.1 .6-.5 .6 .5 .6 .5 .6 .4 .6-.7 .6-.1 .6 .4 .6 0 .6 .2 .6-.4 .6 .8 .6-.2 .6-1.6 .6 .9 .6-.3 .6-.1 .6-.4 .6-.1 .6 0 .6 1.2 .6-1.6 .6 1.3 .6-2.6 .6 .1 .6-.5 .6 1.7 .6 .4 .6 0 .6 .5 .6-.6 .6 .8 .6 .3 .6 .7 .6 .6 .6 .1 .6-.7 .6 0 .6-.2 .6 .5 .6 .1 .6-.5 .6 0 .6-.1 .6-.1 .6 1.1 .6 .3 .6-.2 .6 .3 .6-.2 .6-.7 .6 .1 .6-.2 .6-.5 .6 .7 .6-.4 .6 0 .6-.8 .6 .7 .6-.3 .6-1.3 .6 .1 .6 .9 .6-.4 .6 .3 .6 .8 .6-.1 .6-.3 .6 .6 .6-.2 .6-.2 .6 .1 .6 .5 .6 .5 .6-.6 .6 .2 .6-.2 .6-.2 .6 .4 .6-.4 .6 0 .6 .4 .6-.8 .6-.4 .6 0 .6-.7 .6 1.2 .6 .5 .6-.5 .6-.6 .6-.5 .6-.5 .6 .2 .6 1.2 .6 .2 .6 .8 .6 0 .6 .5 .6 .2 .6 .1 .6-.2 .6 0 .6 0 .6-.1 .6 .5 .6-.3 .6-.3 .6 0 .6-.2 .6 .1 .6 .3 .6 0 .6 .1 .6 0 .6-.2 .6-.1 .6-.1 .6 .3 .6 .1 .6-.1 .6-.1 .6-.4 .6-.3 .6 0 .6-.1 .6 .1 .6 .2 .6 0 .6-.1 .6-.1 .6-.4 .6 .1 .6 .2 .6-.5 .6 .6 .6-.2 .6-.1 .6 .5 .6-.3 .6-.1 .6-.4 .6-.3 .6 .5 .6-.8 .6 .9 .6 .4 .6-.1 .6-.2 .6 0 .6 .6 .6 .1 .6 .2 .6-.2 .6-.2 .6-.1 .6 .2 .6 .1 .6-.3 .6 .1 .6-.6 .6 .1 .6-.1 .6-.2 .6 .1 .6 .1 .6 .1 .6-.1 .6-1.1 .6 .7 .6-.9 .6 0 .6-.2 .6 1.2 .6 0 .6 .4 .6-.2 .6-1.1 .6-.6 .6 .4 .6 .5 .6 1.2 .6-.3 .6-.6 .6 .4 .6 .1 .6 .3 .6-.3 .6-.1 .6-.7 .6-.3 .6 .4 .6 .3 .6 .2 .6 1.2 .6 .2 .6 .3 .6 0 .6-.4 .6-.1 .6-.1 .6 .3 .6-.1 .6-.3 .6-.3 .6-.2 .6-.5 .6 .4 .6-.1 .6-.2 .6 .2 .6 .1 .6 0 .6 .5 .6 0 .6 .1 .6 0 .6 0 .6-.3 .6 .3 .6 .1 .6-.3 .6-.2 .6-.2 .6 0 .6 .3 .6 .6 .6 .2 .6 0 .6 0 .6-.3 .6 .3 .6-.1 .6-.3 .6-.1 .6-.2 .6-.2 .6 .2 .6 .1 .6-.1 .6 .2 .6 .5 .6-.3 .6 .2 .6-.1 .6-.2 .6 0 .6-.4 .6 .2 .6 .1 .6-.1 .6 .5 .6-.2 .6 0 .6-.1 .6-.8 .6 .1 .6-1.3 .6 .8 .6-1.4 .6 .8 .6 .1 .6 .4 .6 .4 .6-.3 .6-.1 .6 .3 .6-.7 .6-.6 .6 .3 .6-1.7 .6 .2 .6 2 .6-.5 .6 .4 .6 .3 .6 .2 .6 1.1 .6-1 .6 .3 .6-.1 .6-.6 .6 .8 .6 .1 .6-.4 .6 .4 .6-.4 .6 .5 .6 0 .6 .2 .6 .4 .6 .3 .6-.1 .6-.2 .6 .1 .6 .2 .6-.1 .6 .5 .6-.2 .6-.7 .6-.1 .6-.4 .6 .2 .6 .3 .6 .1 .6 .1 .6-.1 .6-.2 .6-.7 .6 .1 .6-.8 .6-.1 .6 .6 .6 .4 .6 .7 .6 0 .6-.4 .6 .3 .6 .5 .6 0 .6-.3 .6-.4 .6-.9 .6-.4 .6 .5 .6-.2 .6 .1 .6 .3 .6-.1 .6 .1 .6 0 .6 0 .6-.5 .6 .3 .6 .3 .6 .3 .6-.3 .6 .2 .6-.5 .6-.5 .6 .9 .6-.6 .6-.5 .6 .6 .6-1 .6 .7 .6-.2 .6 .5 .6-1.1 .6 1.5 .6-.7 .6 .8 .6 .2 .6-.2 .6-.2 .6 .1 .6-.1 .6 .1 .6-.2 .6-.1 .6 .3 .6 .1 .6 .1 .6-.2 .6 .2 .6-.2 .6 .3 .6 .5 .6-.4 .6 .2 .6-.5 .6-.1 .6-.2 .6 0 .6 .1 .6-.3 .6 .6 .6 0 .6-.7 .6 .2 .6 .3 .6 0 .6 .3 .6 .4 .6-.2 .6 0 .6-.3 .6 .2 .6-.1 .6-.1 .6 .2 .6-.1 .6-.3 .6 .4 .6 .1 .6 0 .6 .4 .6-.2 .6-.3 .6-.2 .6-.1 .6 .4 .6 .1 .6 .2 .6 0 .6-.8 .6 .1 .6-.3 .6 .1 .6 .4 .6-.2 .6 .4 .6 .1 .6-.1 .6-.2 .6 .3 .6-.1 .6 .1 .6 .2 .6-.7 .6-.1 .6 0 .6 0 .6 0 .6-.4 .6 .2 .6-.1 .6 .6 .6 .2 .6-.1 .6 .3 .6-.3 .6 .6 .6 .2 .6-.1 .6-.1 .6-.3 .6-.2 .6 0 .6 .4 .6-.1 .6-.1 .6-.3 .6-.2 .6 .1 .6 .5 .6-.4 .6-.2 .6-.2 .6 .1 .6-.6 .6-.4 .6 .6 .6 .3 .6-1.3 .6 .1 .6 .6 .6 .1 .6-.5 .6 .4 .6 .2 .6-.5 .6-.3 .6 .5 .6 .4 .6 .4 .6 .4 .6 .2 .6 .1 .6 .3 .6-.1 .6-.4 .6-.2 .6-.1 .6 0 .6 .2 .6-.1 .6 .1 .6 .2 .6 0 .6 .4 .6 .2 .6-.1 .6 .2 .6-.1 .6-.4 .6-.1 .6-.2 .6-.5 .6 .2 .6 .1 .6-.1 .6-.2 .6 0 .6-.1 .6-.2 .6 0 .6-.2 .6 .1 .6 .2 .6 .2 .6 .5 .6 .1 .6 .1 .6 .1 .6-.3 .6 .2 .6-.1 .6-.1 .6 .3 .6 0 .6-.3 .6 0 .6-.3 .6-.4 .6 .2 .6 .1 .6-.6 .6-.1 .6 1 .6-1 .6 .4 .6-1.1 .6-.2 .6 0 .6 .6 .6-.1 .6 .7 .6-.5 .6 .5 .6 .3 .6-.2 .6-.6 .6 .2 .6-.2 .6 .4 .6-.7 .6 1 .6-.1 .6 .3 .6-.1 .6 .6 .6 .2 .6 .4 .6 .2 .6-.3 .6-.3 .6-.1 .6 0 .6-.2 .6 .1 .6-.4 .6-.1 .6 .5 .6 .1 .6 .3 .6-.4 .6-.3 .6-.4 .6-.7 .6 .5 .6-.4 .6 0 .6 .7 .6-.1 .6 .7 .6 .2 .6-.5 .6 0 .6 .1 .6-.3 .6 .5 .6 0 .6-.2 .6-.1 .6 0 .6 .2 .6-.1 .6 .2 .6-.2 .6 .3 .6 .5 .6 .1 .6 0 .6-.3 .6-.1 .6-.1 .6 .2 .6-.9 .6-.2 .6-.7 .6-.2 .6 .4 .6 .6 .6 .5 .6 .4 .6 0 .6 0 .6-.2 .6-.4 .6-.2 .6-.2 .6-.2 .6-.3 .6-.5 .6 .1 .6 .6 .6-.2 .6 0 .6 0 .6-.6 .6-.2 .6 .1 .6 .6 .6-.1 .6 .5 .6-1.3 .6 .7 .6-.4 .6 0 .6 .1 .6 0 .6-.4 .6 1.1 .6-.5 .6 .8 .6-.4 .6-.7 .6 1 .6-1.6 .6 .1 .6 .8 .6-.7 .6-.5 .6 1.6 .6 .5 .6-.2 .6-.7 .6 .3 .6 .1 .6 .1 .6 .5 .6 0 .6-.3 .6-.1 .6 .3 .6-.4 .6 0 .6 .8 .6-.1 .6 .2 .6 .4 .6-.4 .6 .3 .6 0 .6-.2 .6 0 .6-.4 .6 .1 .6 .3 .6 .1 .6 0 .6-.2 .6-.4 .6 0 .6-.1 .6-.7 .6-.1 .6-1.2 .6-.5 .6 1 .6-.8 .6-1.7 .6 .6 .6 1.4 .6-1.9 .6 1.1 .6-.1 .6 1.9 .6-.2 .6 .1 .6 1.2 .6-.1 .6-.6 .6 .2 .6 .9 .6-.9 .6-.2 .6-.9 .6 .4 .6-1.3 .6 .6 .6 .9 .6-1.3 .6 1.5 .6-.8 .6 1.4 .6 .1 .6 .8 .6-.4 .6 .1 .6-.3 .6 .1 .6-.1 .6 .2 .6-.2 .6-.7 .6 .5 .6 0 .6 .6 .6 .5 .6 .3 .6-.3 .6 0 .6-.4 .6-.4 .6 .2 .6-.5 .6 0 .6 .2 .6 0 .6 .2 .6 0 .6 0 .6-.1 .6-.1 .6 .3 .6-.1 .6 0 .6 0 .6-.6 .6-.1 .6 .8 .6-.5 .6 .2 .6 .5 .6-.1 .6 .5 .6-.1 .6 0 .6 .4 .6-.2 .6 0 .6-.2 .6-.8 .6-.2 .6 .2 .6-.2 .6 .5 .6 .1 .6 0 .6 .3 .6 .2 .6 0 .6-.5 .6 .6 .6-.4 .6 .1 .6 .4 .6-.6 .6 .1 .6-.1 .6 .4 .6-.1 .6 .1 .6 .3 .6-.4 .6 .3 .6-.3 .6-.4 .6-.3 .6 0 .6 .3 .6-.4 .6-.1 .6-.7 .6-.3 .6 .5 .6-.8 .6-.2 .6 1 .6-.9 .6 .8 .6-.1 .6 0 .6-.1 .6-1.7 .6-.7 .6 .5 .6 0 .6 1.6 .6-.6 .6 1.1 .6 .1 .6-.1 .6-.2 .6-.4 .6 .5 .6 .9 .6-.4 .6-.1 .6-.4 .6 .1 .6 .6 .6 .4 .6-.6 .6 .8 .6-1 .6-.2 .6 .5 .6-.6 .6 .2 .6 .8 .6-.1 .6 .5 .6 0 .6-.2 .6-.1 .6 .2 .6-.1 .6 .1 .6 .4 .6-.2 .6-.1 .6-.5 .6 0 .6-.5 .6 .2 .6 .9 .6-.2 .6 .4 .6-.1 .6 .1 .6 .1 .6-.1 .6 .2 .6-.7 .6 .3 .6-.1 .6-.2 .6 0 .6-.2 .6 0 .6 0 .6 0 .6-.4 .6 .3 .6-.4 .6 .7 .6-.2 .6-.8 .6 0 .6-.9 .6 .5 .6-.7 .6 1 .6 .6 .6 .2 .6 .3 .6-.4 .6 .1 .6 .3 .6 .1 .6 .1 .6 0 .6-.1 .6 0 .6 .1 .6-.2 .6-.3 .6-.4 .6-.2 .6-.3 .6 1.1"/>
</g>
<g fill="#1b74c6" fill-opacity="0.13" stroke="#1b74c6" stroke-opacity="0.16" stroke-width="1.0" stroke-linejoin="round">
<path d="M691.0 228.3l.5-.4 .5 0 .5 0 .5 0 .5-.1 .5 0 .5-.1 .5 0 .5-.1 .5-.1 .5-.1 .5-.1 .5-.1 .5-.1 .5-.2 .5-.2 .5-.3 .5-.3 .5-.4 .5-.4 .5-.7 .5-.7 .5-1 .5-1.1 .5-1.2 .5-24.7 .3-43 .2-44.9 .3-65.5 .2 40.2 .4 70.2 .1 23.6 .2-7.2 .3-47.7 .2-38.8 .3 44.1 .3 42.4 .2 28.3 .5 24.8 .5 1.4 .5 1.1 .5 .4 .5-1.2 .5-6.2 .4-36 .1-14.2 .4-53.9 .1 10 .5 58.1 0 2.7 .5 38.3 .5 1.6 .5 1.1 .5 .9 .5 .7 .5 .5 .5 0 .5 .1 .5 0 .5 0 .5 .1 .5 0 .5 0 .5 .4"/>
<path d="M725.0 228.3l.5-.7 .5-.4 .5-.5 .5-.6 .5-.7 .5-.9 .5-1.3 .5-13.7 0-1 .5-25 0-1.6 .5 23.9 .1 3.7 .4 13.5 .5 1.3 .5 1 .5 .7 .5 .6 .5-.4 .5-.9 .5-1.1 .5-1.5 .5-2.4 .2-7.2 .3-10.9 .3-11.3 .2 10.1 .3 12.1 .2 6.3 .5 3.2 .5 1.5 .5 1.1 .5 .9 .5 .7 .5 .5 .5-.5 .5-.7 .5-1 .5-1.3 .4-7.2 .1-3.2 .4-13.9 .1 2.2 .5 14.9 0 .4 .5 7.2 .5 1.2 .5 .9 .5 .6 .5 .6 .5 .4 .5 .4"/>
<path d="M749.5 228.3l.5-.4 .5-.4 .5-.4 .5-.5 .5-.6 .5-.7 .5-.9 .5-1.4 .2-4 .3-6 .3-7.6 .2 5.4 .3 8.2 .2 3.3 .5 1.9 .5 1 .5 .7 .5 .6 .5 .5 .5 .4 .5 .4 .5 .3 .5-.1 .5-.4 .5-.5 .5-.6 .5-.7 .5-.8 .5-1 .5-1.5 .5-2.3 .1-1.8 .4-10.9 .1-3.7 .4 10.1 .2 4.5 .3 3.1 .5 1.8 .5 1.2 .5 .9 .5 .7 .5 .7 .5 .5 .5 .5 .5 .5"/>
<path d="M770.0 228.3l.5-.7 .5-.6 .5-.7 .5-.8 .5-1 .5-1.4 .5-2.1 .2-1.2 .3-6.1 .2-5.6 .3 6 .3 5.7 .2 1.3 .5 2.1 .5 1.3 .5 1 .5 .8 .5 .3 .5-.8 .5-.9 .5-1.3 .5-1.7 .4-2.5 .1-.4 .5-9.9 0 0 .5 9.9 0 .4 .5 2.5 .5 1.8 .5 1.2 .5 .9 .5 .8 .5 .6 .5 .6 .5 .5"/>
<path d="M788.5 228.3l.5-.6 .5-.3 .5-.4 .5-.5 .5-.6 .5-.8 .5-1.1 .5-3.5 0-.3 .5-10.4 .1-1.6 .4 9.6 .1 2.4 .4 3.5 .5 1.2 .5 .8 .5 .6 .5 .5 .5 .5 .5 .3 .5 .7"/>
<path d="M801.5 228.3l.5-.8 .5-.5 .5-.6 .5-.7 .5-.9 .5-1.1 .5-1.5 .5-2.3 .1-1 .4-4.5 .2-3.7 .3 5.7 .2 2.5 .3 1.6 .5 2.1 .5 1.3 .5 1.1 .5 .8 .5 .7 .5 .6 .5 .6 .5 .6"/>
<path d="M818.0 228.3l.5-.7 .5-.4 .5-.6 .5-.7 .5-1 .5-1.6 .1-.3 .4-4.5 .1-1.5 .4 4.8 .2 1.2 .3 1.3 .5 1.2 .5 .8 .5 .6 .5 .5 .5 .5 .5 .4"/>
<path d="M827.5 228.3l.5-.6 .5-.4 .5-.4 .5-.6 .5-.9 .2-.7 .3-2.3 .3-3 .2 2.1 .3 3.2 .2 .5 .5 .9 .5 .7 .5 .4 .5 .4 .5 .3 .5 0 .5-.3 .5-.4 .5-.5 .5-.7 .5-1 .2-.7 .3-1.3 .3-2.4 .2 1.9 .3 1.8 .2 .6 .5 1 .5 .7 .5 .5 .5 .4 .5 .4 .5-.2 .5-.3 .5-.6 .1-.2 .4-1.1 .2-.5 .3 1.1 .2 .5 .3 .4 .5 .5 .5 .3 .5 .5"/>
<path d="M847.0 228.3l.5-.5 .5-.3 .5-.4 .5-.5 .5-.8 .5-1.1 .1-.3 .4-2.6 .1-.8 .4 2.6 .2 .8 .3 .9 .5 .9 .5 .6 .5 .5 .5 0 .5-.5 .5-.6 .5-.9 .4-1 .1-.5 .4-2.4 .1 0 .5 2.9 0 .1 .5 1.2 .5 .8 .5 .6 .5 .4 .5 .4 .5 .5"/>
<path d="M867.5 228.3l.5-.4 .5-.3 .5-.3 .5-.4 .5-.6 .1-.2 .4-1.6 .2-1.1 .3 1.7 .2 1 .3 .4 .5 .5 .5 .4 .5 .3 .5 .2 .5-.3 .5-.3 .5-.4 .5-.6 .2-.3 .3-1.8 .2-1.6 .3 1.7 .3 1.7 .2 .3 .5 .6 .5 .4 .5 .3 .5-.3 .5-1 .5-.9 .5-.7 .5 1.4 .5-.9 .5-.6 .5 1.7 .5-1.8 .5 1.5 .5 .1 .5-.5 .5 1.6 .5 .7 .5 .4"/>
<path d="M900.0 228.3l.5-.9 .5-.1 .5-.1 .5-.5 .5-.6 .5-.2 .5-.2 .5-2.3 .5 1.8 .5 .9 .5-.9 .5-1.1 .5-1.3 .5 2.6 .5 .5 .5-1.9 .5 1.8 .5 .8 .5-.1 .5-.2 .5-.7 .5 1.9 .5 .2 .5 .1 .5 .5"/>
<path d="M929.0 228.3l.5-.5 .5 0 .5-.5 .5 .1 .5-.2 .5-1 .5 .5 .5-1.7 .5 0 .5-.4 .5 1.6 .5-.9 .5-1.2 .5 .9 .5 1.8 .5-.6 .5-1 .5 .6 .5 .2 .5-.2 .5-.3 .5 .9 .5-.2 .5 .8 .5 .1 .5 .5 .5 .1 .5 0 .5 .6"/>
<path d="M954.5 228.3l.5-.4 .5 .1 .5-.8 .5-.3 .5 .8 .5-.4 .5-.1 .5-.1 .5 .1 .5-.8 .5-1.1 .5 1.7 .5-.3 .5 0 .5-1 .5 .6 .5 .7 .5-.1 .5-1.6 .5 1.8 .5-.1 .5-.1 .5-.5 .5-.2 .5 1.1 .5 .1 .5 .2 .5-1.4 .5 1.4 .5-.2 .5 .1 .5 .3 .5 .5"/>
<path d="M981.0 228.3l.5-.4 .5 .1 .5-.5 .5 .2 .5-.3 .5 .1 .5-.1 .5 .2 .5-.1 .5 .1 .5-.4 .5 .3 .5 .1 .5-.3 .5 0 .5 .4 .5-.9 .5 .4 .5 .3 .5-.3 .5-.3 .5 0 .5 .3 .5 .4 .5 0 .5-.5 .5 .6 .5-.1 .5 0 .5 .2 .5 0 .5-.1 .5 0 .5 .6"/>
<path d="M691.0 228.3l.5-.4 .5 0 .5 0 .5-.1 .5 0 .5-.1 .5 0 .5-.1 .5-.1 .5 0 .5-.1 .5-.2 .5-.1 .5-.2 .5-.2 .5-.3 .5-.3 .5-.4 .5-.6 .5-.6 .5-.8 .5-1 .5-1.1 .5-1 .4-11.1 .1-6.2 .4-21.4 .1 4.5 .5 23.1 0 1.4 .5 10 .5 1.1 .5 1 .5 .5 .4-8.3 .1-4.5 .4-14.7 .1 3.5 .5 15.7 0 1.3 .5 7.5 .5 1.1 .5-.4 .5-1.6 .3-6.4 .2-5.9 .3-11.2 .2 5.1 .4 12 .1 2.7 .5 4.8 .5 1.2 .5 .8 .5 .7 .5 .6 .5 .3 .5 0 .5 .1 .5 0 .5 0 .5 .4"/>
<path d="M724.5 228.3l.5-.4 .5-.4 .5-.5 .5-.6 .5-.7 .5-.9 .5-1.1 .5-1.5 .5-6.9 0-.1 .5-17.2 .1-2.1 .4 16 .1 3.3 .4 6.6 .5 1.6 .5 1.2 .5 .9 .5 .7 .5 .2 .5-.8 .5-.9 .5-1.3 .5-2.8 0-.9 .5-10.3 0 0 .5 10.3 .1 .9 .4 2.8 .5 1.3 .5 .9 .5 .8 .5 .6 .5 .5 .5-.3 .5-.7 .5-.8 .5-1.1 .5-1.5 .4-2.1 .1-.7 .5-7.4 0 0 .5 8.1 0 0 .5 2.4 .5 1.4 .5 1 .5 .8 .5 .7 .5 .6 .5 .4"/>
<path d="M750.5 228.3l.5-.4 .5-.3 .5-.3 .5-.5 .5-.4 .5-.7 .5-.8 .5-1.2 .3-3.7 .2-4.5 .3-7.7 .2 4 .4 8.2 .1 2.2 .5 2.4 .5 .9 .5 .7 .5 .5 .5 .4 .5 .4 .5 .3 .5 0 .5-.4 .5-.4 .5-.5 .5-.7 .5-.7 .5-1.1 .5-1.5 .3-1.3 .2-1.6 .3-2.6 .2 .2 .4 4 .1 .6 .5 1.8 .5 1.1 .5 .9 .5 .7 .5 .5 .5 .5 .5 .4 .5 .6"/>
<path d="M770.0 228.3l.5-.6 .5-.5 .5-.6 .5-.8 .5-.9 .5-1.2 .5-1.8 .2-1.2 .3-2.5 .3-.8 .2 0 .3 3.3 .2 .9 .5 1.9 .5 1.3 .5 .9 .5 .8 .5-.5 .5-.9 .5-1.1 .5-1.6 .4-1.9 .1-1 .4-4 .1 0 .5 5 0 .1 .5 2.3 .5 1.5 .5 1 .5 .8 .5 .7 .5 .5 .5 .5 .5 .4"/>
<path d="M789.0 228.3l.5-.6 .5-.4 .5-.4 .5-.4 .5-.6 .5-.8 .5-1.1 .4-1.3 .1-.6 .4-5.6 .1 1 .5 5.2 0 .1 .5 1.6 .5 1 .5 .7 .5 .5 .5 .5 .5 .3 .5 .4 .5 .5"/>
<path d="M802.0 228.3l.5-.5 .5-.3 .5-.4 .5-.5 .5-.5 .5-.7 .5-1 .5-1.5 0-.2 .5-5.5 .1-1.4 .4 5.6 .1 1.3 .4 1.3 .5 1.1 .5 .7 .5 .6 .5 .5 .5 .4 .5 .4 .5 .6"/>
<path d="M818.0 228.3l.5-.5 .5-.5 .5-.6 .5-.7 .5-1 .5-1.3 .4-1.7 .1-.2 .4 0 .1 0 .5 .2 0 .1 .5 2 .5 1.2 .5 .9 .5 .7 .5 .6 .5 .4 .5 .4"/>
<path d="M828.0 228.3l.5-.7 .5-.3 .5-.5 .5-.6 .5-.9 .3-.8 .2-.9 .3-.6 .2 0 .4 1.5 .1 .3 .5 1.1 .5 .7 .5 .5 .5 .4 .5 .3 .5 .2 .5-.3 .5-.3 .5-.4 .5-.5 .5-.8 .2-.5 .3-1.2 .3 0 .2 0 .3 1.2 .2 .4 .5 .9 .5 .5 .5 .4 .5 .3 .5 .2 .5-.3 .5-.4 .5-.7 0 0 .5-.5 0 0 .5 .4 .1 .1 .4 .6 .5 .5 .5 .3 .5 .2 .5 .1 .5-.4 .5-.3 .5-.5 .5-.6 .5-.7 .5-1.2 .2-.7 .3 0 .3 0 .2 0 .3 0 .2 .6 .5 1.2 .5 .8 .5 .6 .5 .4 .5 .3 .5-.3 .5-.4 .5-.6 .5-.8 .4-1 .1-.4 .4-.2 .1 0 .5 .6 0 0 .5 1.2 .5 .7 .5 .5 .5 .5 .5 .3 .5 .5"/>
<path d="M867.5 228.3l.5-.5 .5-.2 .5-.4 .5-.4 .4-.6 .1-.1 .5-.7 0 0 .5 .8 0 0 .5 .7 .5 .4 .5 .3 .5 .2 .5 .2 .5-.2 .5-.3 .5-.4 .5-.5 .5-.7 .4-.9 .1-.5 .4-.4 .1 0 .5 .9 0 .2 .5 1 .5 .6 .5 .4 .5-.5 .5 .1 .5-.8 .5-3 .5 .6 .5 1.3 .5 1.2 .5-2.4 .5 1.5 .5 .3 .5 1 .5 .4 .5 1 .5 .4"/>
<path d="M900.0 228.3l.5-.5 .5-.4 .5-.5 .5-1.2 .5 1.3 .5-1.8 .5 .4 .5 1 .5-1.8 .5 1.5 .5-.3 .5-.4 .5 .9 .5-1.9 .5 1.9 .5 .2 .5-1.5 .5 .1 .5-.7 .5 .8 .5 1 .5 1.1 .5 0 .5 .2 .5 .6"/>
<path d="M929.5 228.3l.5-.8 .5-.1 .5-.1 .5-.4 .5 .2 .5-.5 .5 .4 .5-.3 .5-.2 .5 .1 .5-.5 .5 .6 .5-.3 .5-.2 .5-1.7 .5 .2 .5 1.5 .5 .5 .5 .2 .5-.5 .5 0 .5 0 .5 .7 .5-.1 .5 .3 .5 .1 .5 .5 .5 .4"/>
<path d="M955.0 228.3l.5-1 .5-.1 .5 .6 .5-.3 .5-.2 .5-1.2 .5 1.1 .5-1.1 .5 1.3 .5-.8 .5-.1 .5 .7 .5-2.4 .5 1.6 .5 .6 .5 .3 .5-.2 .5-.4 .5 .4 .5-1 .5 .8 .5-.5 .5 1 .5-.7 .5 .6 .5-.1 .5 .1 .5 0 .5 .5 .5 0 .5 .1 .5 .4"/>
<path d="M980.5 228.3l.5-.5 .5 .2 .5-.4 .5 .2 .5-.2 .5 0 .5-.2 .5 .1 .5 .3 .5-.3 .5-.4 .5-.3 .5 .5 .5 .4 .5-.5 .5 .1 .5-.9 .5 1.2 .5-.2 .5-.2 .5 .1 .5 0 .5 .2 .5 .2 .5-.1 .5-.3 .5 .1 .5 .3 .5-.2 .5 0 .5 .1 .5 .2 .5 .2 .5-.2 .5 .5"/>
<path d="M688.0 228.3l.5-.4 .5 0 .5 0 .5 0 .5-.1 .5 0 .5 0 .5-.1 .5 0 .5-.1 .5 0 .5-.1 .5-.1 .5-.1 .5-.1 .5-.1 .5-.2 .5-.1 .5-.2 .5-.3 .5-.3 .5-.4 .5-.4 .5-.6 .5-.7 .5-.9 .5-1.1 .5-1.3 .5-1.6 .5-1.7 .5-1.5 .2-7.4 .3-15.3 .2-13.9 .3 14.2 .3 15 .2 7.4 .5 1.5 .5 1.7 .4-45.9 .1-8.6 .5-72.4 0 2.4 .5 73.9 0 4.7 .5 50.4 .5 1.1 .5 .3 .5-3.1 .2-5 .3-8.9 .2-7.9 .3 8.3 .3 8.5 .2 5.3 .5 2.9 .5 .9 .5 .7 .5 .6 .5 .1 .5 .1 .5 .1 .5 .1 .5 0 .5 .1 .5 0 .5 .1 .5 0 .5 0 .5 .1 .5 0 .5 0 .5 0 .5 .4"/>
<path d="M724.0 228.3l.5-.4 .5-.4 .5-.3 .5-.5 .5-.5 .5-.7 .5-.9 .5-4.6 .3-10.1 .2-11.5 .3-15.5 .2 10.4 .4 16.6 .1 6.2 .5 8.3 .5 .9 .5 .7 .5 .6 .5 .5 .5 0 .5-.6 .5-.7 .5-.9 .5-1.3 .5-3.9 .1-2.9 .4-11.6 .2-5.4 .3 10.8 .2 6.2 .3 5.7 .5 1.6 .5 1.1 .5 .8 .5 .7 .5 .6 .5-.6 .5-.7 .5-.9 .5-1.4 .5-2 0-.3 .5-7.4 0 0 .5 7.3 .1 .4 .4 1.9 .5 1.4 .5 1 .5 .7 .5 .6 .5 .5 .5 .5"/>
<path d="M750.0 228.3l.5-.4 .5-.4 .5-.4 .5-.5 .5-.6 .5-.8 .5-.9 .5-1.4 .4-1.9 .1-.5 .5-4.7 0 0 .5 5 0 .2 .5 2 .5 1.4 .5 .9 .5 .7 .5 .6 .5 .5 .5 .5 .5 .4 .5-.3 .5-.5 .5-.6 .5-.7 .5-.9 .5-1 .5-1.4 .5-1.9 .4-2.3 .1-1.3 .4-6.8 .1 0 .5 8.1 0 .3 .5 2.8 .5 1.7 .5 1.2 .5 .9 .5 .8 .5 .7 .5 .6 .5 .5 .5 .3 .5 0 .5-.3 .5-.6 .5-.7 .5-.7 .5-1 .5-1.2 .5-1.6 .5-2.7 0-.3 .5-.1 .1 0 .4 0 .1 .1 .4 2.3 .5 1.9 .5 1.3 .5 1 .5 .1 .5-.9 .5-1.3 .3-1.5 .2-1 .4-2.1 .1 0 .4 3.1 .1 .3 .5 1.8 .5 1.1 .5 .8 .5 .7 .5 .5 .5 .4 .5 .7"/>
<path d="M788.5 228.3l.5-.7 .5-.4 .5-.5 .5-.5 .5-.7 .5-.9 .5-1.2 .5-1.9 0-.2 .5-3.2 0 0 .5 3 .1 .4 .4 1.8 .5 1.2 .5 .9 .5 .7 .5 .6 .5 .5 .5 .4 .5 .7"/>
<path d="M802.0 228.3l.5-.6 .5-.4 .5-.5 .5-.6 .5-.6 .5-.9 .5-1.2 .5-1.8 .1-.6 .4-3.2 .2 0 .3 1.8 .2 1.4 .3 1.4 .5 1.5 .5 1.1 .5 .7 .5 .7 .5 .5 .5 .5 .5 .3 .5 .5"/>
<path d="M818.0 228.3l.5-.6 .5-.4 .5-.4 .5-.6 .5-.9 .4-1.2 .1-.7 .5-5.4 0 0 .5 5.8 0 .3 .5 1.3 .5 .8 .5 .6 .5 .5 .5 .3 .5 .6"/>
<path d="M827.5 228.3l.5-.4 .5-.3 .5-.3 .5-.5 .5-.6 .5-.9 .2-.7 .3-1.2 .3-2 .2 1.6 .3 1.6 .2 .5 .5 1 .5 .6 .5 .5 .5 .4 .5 .3 .5 0 .5-.4 .5-.4 .5-.5 .5-.7 .5-1.1 .3-.8 .2-1.3 .3-.5 .2 0 .4 1.8 .1 .5 .5 1.2 .5 .7 .5 .6 .5 .4 .5 .4 .5-.2 .5-.5 .3-.4 .2-.4 .4-.3 .1 0 .4 .7 .1 .1 .5 .6 .5 .3 .5 .6"/>
<path d="M847.5 228.3l.5-.7 .5-.3 .5-.5 .5-.7 .5-.9 .4-1.1 .1-.1 .4 0 .1 0 .5 .1 0 .1 .5 1.3 .5 .8 .5 .6 .5 .5 .5-.4 .5-.5 .5-.8 .2-.5 .3-1 .3-.2 .2 0 .3 1.2 .2 .4 .5 .8 .5 .6 .5 .4 .5 .3 .5 .6"/>
<path d="M868.0 228.3l.5-.5 .5-.3 .5-.3 .5-.4 .1-.2 .4-1 .2-.1 .3 .6 .2 .5 .3 .3 .5 .4 .5 .3 .5 .2 .5-.1 .5-.3 .5-.3 .5-.6 .5-.8 0 0 .5-.2 0 0 .5 .1 .1 .1 .4 .8 .5 .5 .5 .4 .5 .3 .5-.7 .5-.4 .5-1.1 .5-1.2 .5-1.2 .5 2.5 .5 .3 .5-2 .5 2 .5-.6 .5 .3 .5 1.5 .5 .4 .5 .3 .5 .5"/>
<path d="M900.0 228.3l.5-.5 .5-.5 .5-.8 .5 0 .5-1.6 .5 .6 .5 0 .5 1.1 .5-1.3 .5 .4 .5-2.8 .5 3.6 .5-1.6 .5-1.1 .5 .9 .5 1.4 .5-1 .5 1.2 .5 .2 .5 .7 .5-1 .5 1.2 .5 .1 .5 .3 .5 .5"/>
<path d="M929.0 228.3l.5-.4 .5-.2 .5-.5 .5-.2 .5 .4 .5-1.6 .5 .8 .5-.4 .5 .4 .5-1.2 .5 .2 .5 .2 .5 .1 .5 0 .5 .6 .5-1.1 .5 .5 .5-.4 .5 .5 .5-1.4 .5-.1 .5 1.7 .5-.4 .5 1.3 .5 .1 .5 .3 .5 .3 .5 0 .5 .5"/>
<path d="M954.5 228.3l.5-.6 .5-.2 .5 .2 .5-.4 .5-.6 .5 .5 .5-.1 .5 .1 .5 .2 .5 .1 .5-.4 .5-.1 .5-1.6 .5 1.5 .5-.2 .5 .3 .5-.6 .5 .3 .5-1.8 .5 2 .5-.1 .5-.3 .5 .9 .5-.7 .5 .3 .5-1 .5 .6 .5 .8 .5 0 .5 .2 .5 .1 .5 .1 .5 .2 .5-.1 .5 .4"/>
<path d="M981.0 228.3l.5-.9 .5 .3 .5 .1 .5-.2 .5-.4 .5 .3 .5-.5 .5 .5 .5-1 .5 1 .5-.5 .5 .1 .5 .2 .5 .3 .5-.1 .5-.9 .5 .5 .5-.1 .5 .6 .5-.8 .5 .9 .5-.1 .5-.2 .5 .2 .5-.9 .5 .7 .5 .2 .5-.3 .5 .6 .5-.2 .5 .2 .5 .1 .5-.4 .5 .3 .5 .4"/>
<path d="M690.0 228.3l.5-.4 .5 0 .5 0 .5 0 .5-.1 .5 0 .5-.1 .5 0 .5-.1 .5-.1 .5-.1 .5-.1 .5-.1 .5-.1 .5-.2 .5-.2 .5-.3 .5-.3 .5-.4 .5-.5 .5-.7 .5-.7 .5-1 .5-1.1 .5-1.2 .5-2.3 .2-7.8 .3-13.9 .2-12.2 .3 12.8 .3 13.3 .2 8.2 .5 1.9 .5 1.2 .5-5.5 .1-4.6 .4-16.4 .2-8.1 .3 15.3 .2 9.2 .3 9.4 .5 1.9 .5 1.3 .5 1 .5-.7 .5-7.1 0-.6 .5-14.4 .1-2.4 .4 13.5 .1 3.3 .4 7.3 .5 1.4 .5 .9 .5 .6 .5 .3 .5 .3 .5 .1 .5 .1 .5 .1 .5 0 .5 0 .5 0 .5 .4"/>
<path d="M724.5 228.3l.5-.4 .5-.4 .5-.5 .5-.6 .5-.7 .5-.9 .5-1.1 .5-1.5 .5-7.3 0-.7 .5-17.8 .1-2.8 .4 16.5 .1 4.1 .4 7.5 .5 1.7 .5 1.1 .5 1 .5 .7 .5 .2 .5-.8 .5-1 .5-1.4 .5-1.8 .4-2.4 .1-1 .4-8 .1 0 .5 9 0 0 .5 2.9 .5 1.7 .5 1.2 .5 1 .5 .8 .5 .7 .5-.6 .5-.9 .5-1.1 .5-1.5 .5-2.2 .2-1.6 .3-2.9 .3-2.7 .2 1.4 .3 4.2 .2 1.2 .5 2.4 .5 1.5 .5 1.1 .5 1 .5 .7 .5 .6 .5 .4"/>
<path d="M750.5 228.3l.5-.8 .5-.5 .5-.6 .5-.7 .5-.9 .5-1.1 .5-1.5 .5-2.5 0-.1 .5-3.6 .1 0 .4 2.5 .1 1.1 .4 2 .5 1.7 .5 1.2 .5 .9 .5 .8 .5 .6 .5 .5 .5 .5 .5 .3 .5-.5 .5-.6 .5-.6 .5-.7 .5-.9 .5-1.1 .5-1.5 .5-2.2 .2-1.3 .3-3.5 .2-4.1 .3 4.2 .3 3.4 .2 1.3 .5 2.3 .5 1.4 .5 1.1 .5 .9 .5 .7 .5 .6 .5 .6 .5 .7"/>
<path d="M770.5 228.3l.5-.4 .5-.5 .5-.5 .5-.5 .5-.8 .5-.9 .5-1.4 .3-1.5 .2-1 .4-1.8 .1 0 .4 2.8 .1 .3 .5 1.9 .5 1.1 .5 .9 .5-.7 .5-1.1 .5-1.5 .4-2 .1-.6 .5-2.1 0 0 .5 2.7 0 0 .5 2.3 .5 1.5 .5 1 .5 .8 .5 .6 .5 .5 .5 .5 .5 .4"/>
<path d="M789.0 228.3l.5-.6 .5-.4 .5-.4 .5-.5 .5-.6 .5-.8 .5-1 .5-1.7 0-.2 .5-2.1 0 0 .5 2 .1 .3 .4 1.6 .5 1.1 .5 .8 .5 .6 .5 .5 .5 .4 .5 .4 .5 .6"/>
<path d="M802.0 228.3l.5-.8 .5-.5 .5-.7 .5-.7 .5-.9 .5-1.2 .5-1.5 .5-2.4 .1-.8 .4-.8 .2 0 .3 0 .2 .8 .3 1.7 .5 2.1 .5 1.4 .5 1 .5 .8 .5 .7 .5 .7 .5 .5 .5 .6"/>
<path d="M818.0 228.3l.5-.8 .5-.5 .5-.6 .5-.8 .5-1.2 .5-1.8 0-.2 .5-.4 .1 0 .4 0 .1 .4 .4 1.6 .5 1.2 .5 .9 .5 .7 .5 .6 .5 .4 .5 .5"/>
<path d="M827.5 228.3l.5-.4 .5-.3 .5-.3 .5-.4 .5-.6 .5-1 .1-.1 .4-2.2 .1 0 .4 1.6 .2 .6 .3 .7 .5 .7 .5 .5 .5 .4 .5 .3 .5 .2 .5 .1 .5-.2 .5-.3 .5-.3 .5-.5 .5-.6 .4-.8 .1-.3 .4-1.3 .1 0 .5 1.6 0 .1 .5 .9 .5 .5 .5 .4 .5 .4 .5 .2 .5-.2 .5-.4 .3-.3 .2-.3 .4-.7 .1 0 .4 1 .1 .1 .5 .4 .5 .3 .5 .5"/>
<path d="M847.5 228.3l.5-.6 .5-.3 .5-.4 .5-.5 .5-.8 .3-.7 .2-.8 .3-.4 .2 0 .4 1.2 .1 .4 .5 .9 .5 .6 .5 .4 .5 .2 .5-.4 .5-.5 .5-.7 .5-1.1 .1-.2 .4-.6 .1 0 .4 0 .2 .6 .3 .8 .5 .9 .5 .6 .5 .4 .5 .4 .5 .6"/>
<path d="M867.5 228.3l.5-.5 .5-.3 .5-.4 .5-.4 .5-.8 .1-.1 .4-.5 .1 0 .4 0 .2 .5 .3 .6 .5 .5 .5 .4 .5 .3 .5 0 .5-.3 .5-.4 .5-.6 .5-.9 .2-.5 .3-.7 .2 0 .3 0 .3 .7 .2 .6 .5 .9 .5 .5 .5 .5 .5-.2 .5-1 .5 .8 .5-.8 .5-.6 .5-2.6 .5-.5 .5-.3 .5 2.4 .5 .5 .5-.7 .5 1 .5 1.7 .5 1.2"/>
<path d="M900.0 228.3l.5-.6 .5-.4 .5-.1 .5-.1 .5-1 .5 .4 .5-1.1 .5 .6 .5-.2 .5-2 .5 2.3 .5-2.1 .5 2.4 .5-1.7 .5 .9 .5-.5 .5 .2 .5 .2 .5 1.3 .5 .3 .5-.5 .5 .3 .5 .6 .5-.2 .5 1"/>
<path d="M929.0 228.3l.5-.5 .5-.4 .5 .1 .5-.5 .5-.3 .5-1 .5 .9 .5 0 .5-.9 .5-2.2 .5 1.4 .5 .4 .5 1 .5 0 .5-2.4 .5 1.9 .5 1 .5-1.7 .5 1.5 .5 .3 .5-.1 .5 .4 .5-.1 .5 0 .5 0 .5-.3 .5 1 .5 .5"/>
<path d="M955.5 228.3l.5-.5 .5-.3 .5-.5 .5-.2 .5 .5 .5-.1 .5 .2 .5-.1 .5-.6 .5 .6 .5-.9 .5-.1 .5-.1 .5 .5 .5-1.5 .5 1.2 .5-.6 .5-1.3 .5 2.9 .5-.8 .5 .2 .5 .4 .5 0 .5 .2 .5-.2 .5-.5 .5 .8 .5 .1 .5 .1 .5-.1 .5 .7"/>
<path d="M980.0 228.3l.5-.4 .5 .2 .5-.2 .5-.2 .5 0 .5 .2 .5-.2 .5-.4 .5 .6 .5-.1 .5-.5 .5-.3 .5 .3 .5 .2 .5-.3 .5 .4 .5-.2 .5-1 .5 .7 .5 .2 .5 .4 .5-.3 .5-.2 .5 .2 .5 .2 .5-.1 .5-.3 .5-.4 .5 .4 .5 .6 .5 .1 .5-.3 .5 .2 .5-.1 .5 .1 .5 .1 .5 0 .5 .4"/>
<path d="M692.0 228.3l.5-.4 .5 0 .5 0 .5-.1 .5 0 .5-.1 .5 0 .5-.1 .5-.1 .5-.1 .5-.1 .5-.2 .5-.2 .5-.2 .5-.3 .5-.3 .5-.5 .5-.5 .5-.7 .5-.8 .5-.9 .5-.9 .4-10.6 .1-2.3 .5-22.9 0 .3 .5 23 0 1.9 .5 10.6 .5 .9 .5 .9 .5-25.3 0-1.9 .5-39.8 .1-7 .4 36.9 .1 9.9 .4 24.7 .5 3.6 .5 .1 .5-1.4 .4-6.6 .1-2.9 .4-13.9 .1 1.9 .5 14.9 0 .2 .5 6.8 .5 1.3 .5 .9 .5 .8 .5 .6 .5 .4 .5 .1 .5 0 .5 0 .5 .4"/>
<path d="M725.0 228.3l.5-.4 .5-.4 .5-.4 .5-.5 .5-.5 .5-.7 .5-1 .5-1.9 .2-5.7 .3-8 .3-8.8 .2 7.4 .3 9.4 .2 4.6 .5 2.9 .5 1 .5 .7 .5 .6 .5 .5 .5-.6 .5-.7 .5-.9 .5-1.2 .5-2.7 0-.1 .5-9.7 .1-1.2 .4 9 .1 1.9 .4 2.5 .5 1.3 .5 .9 .5 .8 .5 .6 .5 .5 .5 0 .5-.5 .5-.6 .5-.7 .5-1.1 .3-2.6 .2-2.7 .4-6.5 .1 2.3 .4 6.9 .1 1.1 .5 2.1 .5 .9 .5 .6 .5 .6 .5 .4 .5 .6"/>
<path d="M750.5 228.3l.5-.5 .5-.4 .5-.5 .5-.5 .5-.6 .5-.8 .5-1.1 .5-1.6 .2-.9 .3-3 .2-3.3 .3 4.2 .3 2.1 .2 1.1 .5 1.6 .5 1 .5 .8 .5 .6 .5 .5 .5 .4 .5 .4 .5 0 .5-.4 .5-.5 .5-.5 .5-.6 .5-.8 .5-1.1 .5-1.6 .2-1 .3-2.4 .3-1.9 .2 1.6 .3 2.7 .2 .9 .5 1.6 .5 1.1 .5 .8 .5 .7 .5 .5 .5 .5 .5 .4 .5 .5"/>
<path d="M770.0 228.3l.5-.5 .5-.4 .5-.5 .5-.6 .5-.7 .5-1 .5-1.4 .2-1.1 .3-1.8 .3-1.6 .2 .5 .3 2.9 .2 .7 .5 1.6 .5 1 .5 .3 .5-1 .5-1.2 .5-1.9 .4-2.3 .1-.3 .5 0 0 0 .5 .2 0 .1 .5 2.7 .5 1.7 .5 1.2 .5 1 .5 .7 .5 .7 .5 .5 .5 .5"/>
<path d="M788.5 228.3l.5-.6 .5-.3 .5-.4 .5-.5 .5-.6 .5-.8 .5-1 .5-1.6 0-.3 .5-2.2 0 0 .5 2.2 .1 .3 .4 1.6 .5 1 .5 .8 .5 .6 .5 .5 .5 .4 .5 .3 .5 .6"/>
<path d="M802.0 228.3l.5-.5 .5-.4 .5-.5 .5-.5 .5-.6 .5-.8 .5-1 .5-1.7 .2-.8 .3-2.8 .2-.7 .3 1.3 .3 2.2 .2 1 .5 1.6 .5 1 .5 .8 .5 .6 .5 .5 .5 .4 .5 .4 .5 .5"/>
<path d="M818.5 228.3l.5-.6 .5-.5 .5-.5 .5-.7 .5-1 .5-1.4 .1-.7 .4-1 .2 0 .3 0 .2 1 .3 1 .5 1.4 .5 .8 .5 .7 .5 .5 .5 .5 .5 .3 .5 .1 .5-.3 .5-.3 .5-.3 .5-.5 .5-.6 .5-.9 .2-.5 .3-1.5 .2-.3 .3 .4 .3 1.4 .2 .6 .5 .9 .5 .5 .5 .5 .5 .3 .5 .3 .5 .3 .5-.2 .5-.2 .5-.3 .5-.3 .5-.5 .5-.7 .3-.7 .2-.6 .4-.7 .1 0 .4 1.3 .1 .2 .5 .9 .5 .5 .5 .4 .5 .4 .5 .2 .5-.1 .5-.3 .5-.5 .1-.2 .4-1 .2-.6 .3 1 .2 .6 .3 .3 .5 .4 .5 .3 .5 .5"/>
<path d="M846.5 228.3l.5-.5 .5-.4 .5-.4 .5-.6 .5-.8 .5-1.1 .1-.5 .4 0 .2 0 .3 0 .2 0 .3 .8 .5 1.1 .5 .7 .5 .5 .5 .4 .5-.1 .5-.5 .5-.5 .5-.8 .5-1.4 0 0 .5-.6 .1 0 .4 .2 .1 .4 .4 1.1 .5 .9 .5 .6 .5 .5 .5 .4 .5 .6"/>
<path d="M867.0 228.3l.5-.5 .5-.3 .5-.4 .5-.4 .5-.7 .4-.5 .1 0 .4 0 .1 0 .5 0 0 0 .5 .7 .5 .6 .5 .5 .5 .3 .5 .1 .5-.3 .5-.5 .5-.5 .5-.9 .1 0 .4 0 .1 0 .4 0 .2 0 .3 .4 .5 .8 .5 .4 .5 .4 .5-.2 .5-1.1 .5-1.2 .5 .9 .5-1.2 .5 .6 .5 .5 .5-.6 .5 1.2 .5-1 .5-.1 .5 1.3 .5 .9 .5 0 .5 .8"/>
<path d="M900.0 228.3l.5-.7 .5 .1 .5-.4 .5-1.9 .5 .7 .5 .7 .5-1.4 .5 0 .5-1.9 .5 2.1 .5-.8 .5-1.3 .5 2.2 .5-1.2 .5 1 .5 .7 .5-.7 .5 .5 .5 1.1 .5-.5 .5 .4 .5-.1 .5 .3 .5 .8 .5-.2 .5 .5"/>
<path d="M929.0 228.3l.5-.9 .5 .1 .5 0 .5-.3 .5 .3 .5-1.9 .5 .6 .5-.4 .5-.1 .5 0 .5 1.2 .5-1.6 .5 1.4 .5-3.4 .5 2.3 .5-1.1 .5 2.3 .5-.7 .5 .2 .5 .4 .5 .3 .5-1.5 .5 1.8 .5-.5 .5 .3 .5 .4 .5 0 .5 .4 .5 .4"/>
<path d="M954.5 228.3l.5-.7 .5 .3 .5-.3 .5-.2 .5 .3 .5-.5 .5 .4 .5-.6 .5 .4 .5-.8 .5-.3 .5 .8 .5-2.3 .5 1.7 .5-1.4 .5-.5 .5 1.7 .5 .3 .5-.2 .5 .2 .5-1.2 .5 1.7 .5-.5 .5 .4 .5 .2 .5-.1 .5 .6 .5-.4 .5-.2 .5 .8 .5-.2 .5 .2 .5 .4"/>
<path d="M981.5 228.3l.5-.5 .5 .2 .5-.4 .5 0 .5-.1 .5 0 .5 0 .5-.2 .5 .4 .5 0 .5-.2 .5-.5 .5-.2 .5 .4 .5 .3 .5-1.1 .5-.1 .5 1 .5 .4 .5-.9 .5 .7 .5-.1 .5 .4 .5-.4 .5 .4 .5-.1 .5-.1 .5 0 .5 .3 .5 .1 .5-.5 .5 .3 .5 0 .5 .5"/>
<path d="M690.5 228.3l.5-.4 .5 0 .5 0 .5-.1 .5 0 .5-.1 .5 0 .5-.1 .5 0 .5-.1 .5-.1 .5-.1 .5-.2 .5-.1 .5-.2 .5-.3 .5-.3 .5-.4 .5-.4 .5-.6 .5-.8 .5-.9 .5-1 .5-1.2 .5-1.1 .2-8.6 .3-11.7 .3-13.5 .2 10.7 .3 14.5 .2 6.5 .5 3.1 .5 1.1 .5 1.1 .5 .9 .5-7.7 0-1 .5-16.1 .1-3.1 .4 15 .1 4.2 .4 8.2 .5 1 .5-1.6 .5-8.1 .1-6.2 .4-18.4 .2-10.5 .3 17.2 .2 11.7 .3 11.3 .5 3.5 .5 1.4 .5 1.1 .5 .9 .5 .7 .5 .4 .5 0 .5 .1 .5 0 .5 0 .5 .4"/>
<path d="M724.0 228.3l.5-.4 .5-.1 .5-.5 .5-.6 .5-.7 .5-.8 .5-.9 .5-1.3 .5-1.8 .4-9 .1-3.2 .5-20.5 0 1.4 .5 21.5 0 .8 .5 9.3 .5 1.7 .5 1.2 .5 1 .5 .7 .5 .7 .5-.5 .5-.7 .5-1 .5-1.4 .4-2.6 .1-2.1 .4-9.1 .1 1.5 .5 9.7 0 .3 .5 2.7 .5 1.3 .5 .9 .5 .7 .5 .6 .5 .1 .5-.6 .5-.8 .5-1 .5-1.6 .2-.8 .3-4.6 .2-3.8 .3 4.4 .3 4 .2 1 .5 1.5 .5 1 .5 .7 .5 .6 .5 .5 .5 .6"/>
<path d="M750.5 228.3l.5-.6 .5-.4 .5-.4 .5-.5 .5-.6 .5-.8 .5-1.1 .4-1.3 .1-1.1 .4-5.6 .1 1.3 .5 5.4 0 .2 .5 1.6 .5 .9 .5 .7 .5 .6 .5 .5 .5 .3 .5 .4 .5 .2 .5-.3 .5-.4 .5-.4 .5-.4 .5-.6 .5-.8 .5-1.1 .4-1.2 .1-.7 .4-5.3 .1 1.2 .5 4.8 0 .1 .5 1.6 .5 .9 .5 .7 .5 .6 .5 .4 .5 .4 .5 .3 .5 .5"/>
<path d="M770.5 228.3l.5-.6 .5-.4 .5-.6 .5-.6 .5-.7 .5-1.1 .5-1.7 .1-.5 .4-3.5 .2-1.6 .3 3.5 .2 1.6 .3 1.2 .5 1.4 .5 .9 .5 .3 .5-.9 .5-1.2 .5-1.6 .5-2.5 0-.3 .5-9.1 0 0 .5 8.8 .1 .6 .4 2.4 .5 1.6 .5 1.2 .5 1 .5 .7 .5 .6 .5 .6 .5 .5"/>
<path d="M788.0 228.3l.5-.8 .5-.5 .5-.6 .5-.7 .5-.9 .5-1 .5-1.5 .5-2.5 0-.2 .5-.6 .1 0 .4 0 .1 .6 .4 2 .5 1.7 .5 1.2 .5 .9 .5 .8 .5 .6 .5 .5 .5 .5 .5 .5"/>
<path d="M802.0 228.3l.5-.6 .5-.4 .5-.4 .5-.5 .5-.7 .5-.8 .5-1.1 .5-1.8 .1-.3 .4-3.8 .1 0 .4 2.8 .2 1 .3 1.4 .5 1.4 .5 .9 .5 .7 .5 .6 .5 .4 .5 .4 .5 .4 .5 .4"/>
<path d="M818.0 228.3l.5-.7 .5-.6 .5-.7 .5-.8 .5-1.2 .5-1.7 .2-.6 .3 0 .3 0 .2 0 .3 0 .2 .5 .5 1.8 .5 1.1 .5 .9 .5 .7 .5 .6 .5 .7"/>
<path d="M827.0 228.3l.5-.5 .5-.4 .5-.5 .5-.6 .5-.8 .5-1.3 .1-.5 .4-.9 .2 0 .3 0 .2 .9 .3 1 .5 1.1 .5 .7 .5 .6 .5 .4 .5 .4 .5 .2 .5-.3 .5-.4 .5-.5 .5-.6 .5-.9 .5-1.2 .2-.2 .3 0 .2 0 .3 0 .3 0 .2 .4 .5 1.2 .5 .8 .5 .6 .5 .4 .5 .4 .5-.1 .5-.3 .4-.4 .1-.2 .4-.8 .1 0 .5 1 0 0 .5 .5 .5 .3 .5 .5"/>
<path d="M847.5 228.3l.5-.5 .5-.3 .5-.5 .5-.5 .5-.7 .5-1.2 0-.1 .5-.5 .1 0 .4 .1 .1 .4 .4 1 .5 .9 .5 .5 .5 .5 .5-.1 .5-.4 .5-.6 .2-.4 .3-1 .2-.9 .3 1 .3 .9 .2 .4 .5 .6 .5 .4 .5 .3 .5 .2 .5 .5"/>
<path d="M867.5 228.3l.5-.4 .5-.2 .5-.2 .5-.3 .5-.5 .1-.2 .4-1.1 .2 0 .3 .7 .2 .4 .3 .4 .5 .4 .5 .3 .5 .2 .5 .1 .5-.2 .5-.2 .5-.3 .5-.5 .2-.4 .3-1 .3-1.3 .2 1.1 .3 1.2 .2 .3 .5 .5 .5 .4 .5 .2 .5-.5 .5-.5 .5-.4 .5-.7 .5-.2 .5-1.7 .5 .6 .5-.2 .5 1.5 .5-.1 .5 1.1 .5-.1 .5 .3 .5 1.1 .5 .4"/>
<path d="M900.0 228.3l.5-1 .5-.6 .5 .6 .5-.9 .5 .4 .5-1.1 .5 .9 .5-1.2 .5-1 .5 .7 .5 .2 .5-.5 .5 1.7 .5-.7 .5-1.1 .5 1 .5 .3 .5 .6 .5-1.7 .5 2.3 .5-1.8 .5 2.2 .5-.3 .5 .2 .5 .8"/>
<path d="M929.0 228.3l.5-.4 .5-.1 .5-.8 .5 .3 .5 0 .5-1.4 .5-.3 .5-.3 .5-1.5 .5 2.1 .5 .6 .5-1.1 .5 .7 .5 .6 .5-.7 .5-.4 .5-.5 .5 .5 .5-.1 .5 1 .5 .1 .5-.5 .5 .9 .5-.2 .5 .4 .5 .4 .5-.3 .5 .4 .5 .6"/>
<path d="M955.0 228.3l.5-.5 .5-.3 .5-.2 .5 0 .5 .2 .5-1.1 .5 1 .5-.4 .5-.9 .5-.2 .5 .9 .5 .5 .5-.1 .5-1.8 .5 .1 .5 .9 .5-.9 .5 1.1 .5-.5 .5-.1 .5 .9 .5 .5 .5-.4 .5 .2 .5 0 .5 .3 .5-.1 .5 0 .5 .4 .5-.2 .5 .2 .5 .5"/>
<path d="M981.5 228.3l.5-.4 .5 0 .5-.4 .5-.1 .5-.1 .5 0 .5 .1 .5-.4 .5 .4 .5 .1 .5 .1 .5-.2 .5 .2 .5-.2 .5-.3 .5 .5 .5-.2 .5-.3 .5-.7 .5 .9 .5 .4 .5 0 .5 .1 .5-.3 .5 .2 .5 .1 .5 0 .5-.4 .5 .2 .5 .1 .5 0 .5 .6"/>
<path d="M692.5 228.3l.5-.4 .5 0 .5 0 .5-.1 .5 0 .5-.1 .5-.1 .5-.1 .5-.1 .5-.1 .5-.1 .5-.2 .5-.2 .5-.3 .5-.3 .5-.4 .5-.6 .5-.6 .5-.8 .5-1 .5-1.9 .4-24.4 .1-8.5 .4-38 .1 5.5 .5 41 0 .8 .5 24.1 .5 1.7 .5-5.6 .1-5.5 .4-14.7 .2-9.2 .3 13.7 .2 10.2 .3 8.9 .5 3.3 .5 1 .5 0 .5-1.3 .5-1.9 .4-5.2 .1-2.8 .4-14 .1 1.7 .5 15.1 0 0 .5 5.7 .5 1.7 .5 1.2 .5 .9 .5 .8 .5 .7 .5 .1 .5 .4"/>
<path d="M725.0 228.3l.5-.5 .5-.4 .5-.5 .5-.5 .5-.7 .5-.8 .5-1 .5-1.6 .3-6.3 .2-6.9 .3-11.1 .2 6.2 .4 11.8 .1 3.6 .5 3.9 .5 1.2 .5 .8 .5 .7 .5 .6 .5 0 .5-.6 .5-.8 .5-1 .5-1.5 .2-3.1 .3-5.4 .3-7.2 .2 4.9 .3 7.7 .2 2.7 .5 1.7 .5 1.1 .5 .8 .5 .6 .5 .5 .5-.5 .5-.7 .5-.9 .5-1.4 .3-1.4 .2-2.3 .4-6 .1 2.1 .4 6.2 .1 .4 .5 1.8 .5 1.1 .5 .8 .5 .6 .5 .6 .5 .3 .5 .4"/>
<path d="M749.5 228.3l.5-.4 .5-.4 .5-.5 .5-.5 .5-.6 .5-.8 .5-1 .5-1.4 .4-2 .1-.5 .5-4.7 0 0 .5 5.1 0 .1 .5 2.2 .5 1.3 .5 1 .5 .8 .5 .6 .5 .5 .5 .5 .5 .4 .5 .1 .5-.3 .5-.5 .5-.5 .5-.5 .5-.7 .5-.9 .5-1.1 .5-1.7 .3-1.5 .2-1.8 .3-1.6 .2 0 .4 3.4 .1 .8 .5 1.9 .5 1.3 .5 .9 .5 .8 .5 .6 .5 .5 .5 .5 .5 .6"/>
<path d="M770.5 228.3l.5-.7 .5-.5 .5-.6 .5-.6 .5-.9 .5-1.2 .5-2 .1-.3 .4-4.9 .1 0 .4 3.9 .2 1 .3 1.6 .5 1.4 .5 1 .5 .8 .5-.4 .5-.9 .5-1.2 .5-1.8 .1-.8 .4-2.2 .2 0 .3 .2 .2 2 .3 1.3 .5 1.6 .5 1.1 .5 .8 .5 .7 .5 .6 .5 .4 .5 .6"/>
<path d="M788.5 228.3l.5-.6 .5-.5 .5-.7 .5-.7 .5-.8 .5-1.1 .5-1.4 .5-2 .3-2 .2-1.8 .4-1.7 .1 0 .4 3.5 .1 .6 .5 2.6 .5 1.6 .5 1.2 .5 1 .5 .7 .5 .7 .5 .6 .5 .8"/>
<path d="M801.5 228.3l.5-.7 .5-.4 .5-.5 .5-.6 .5-.7 .5-.9 .5-1.3 .5-2 .1-.4 .4-4.1 .1 0 .4 2.9 .2 1.2 .3 1.6 .5 1.6 .5 1 .5 .8 .5 .6 .5 .6 .5 .4 .5 .5 .5 .4"/>
<path d="M818.0 228.3l.5-.5 .5-.6 .5-.7 .5-.8 .5-1 .5-1.5 .4-1.2 .1 0 .4 0 .1 0 .5 0 0 0 .5 1.6 .5 1.4 .5 1 .5 .7 .5 .7 .5 .5 .5 .4"/>
<path d="M827.0 228.3l.5-.6 .5-.4 .5-.6 .5-.7 .5-.9 .5-1.4 .1-.6 .4-.1 .2 0 .3 0 .2 .1 .3 1 .5 1.2 .5 .9 .5 .6 .5 .6 .5 .4 .5 .3 .5-.4 .5-.4 .5-.5 .5-.6 .5-.9 .5-1.4 .1 0 .4 0 .1 0 .4 0 .2 0 .3 .7 .5 1.1 .5 .8 .5 .5 .5 .5 .5 .4 .5-.2 .5-.3 .5-.5 0-.1 .5-.8 0 0 .5 .8 .1 .1 .4 .5 .5 .3 .5 .6"/>
<path d="M847.0 228.3l.5-.7 .5-.4 .5-.6 .5-.6 .5-1 .4-1.3 .1-.4 .5-1 0 0 .5 1.3 0 .1 .5 1.5 .5 .9 .5 .6 .5 .5 .5 .3 .5-.3 .5-.5 .5-.6 .5-1.1 0 0 .5-2.3 .1 0 .4 1.9 .1 .4 .4 .9 .5 .7 .5 .5 .5 .4 .5 .3 .5 .5"/>
<path d="M866.5 228.3l.5-.4 .5-.3 .5-.4 .5-.4 .5-.6 .4-.7 .1 0 .5 0 0 0 .5 0 0 0 .5 .7 .5 .6 .5 .5 .5 .3 .5 .3 .5-.2 .5-.2 .5-.4 .5-.5 .5-.7 0-.1 .5-2.2 .1 0 .4 1.8 .1 .4 .4 .6 .5 .6 .5 .3 .5 .3 .5-.1 .5-1.5 .5-1 .5 .1 .5-.1 .5 1.4 .5-.2 .5-1.6 .5 .2 .5 0 .5 1.7 .5 .2 .5 .8 .5 .3 .5 .5"/>
<path d="M900.0 228.3l.5-.6 .5-.7 .5 .4 .5-.5 .5 0 .5-.1 .5-1.3 .5 .4 .5-2.3 .5 2.2 .5-.6 .5-.1 .5-3.4 .5 4.3 .5-2.9 .5 1.3 .5 1.6 .5-.7 .5 1.3 .5-.5 .5 .7 .5-.4 .5 1.1 .5 0 .5 .8"/>
<path d="M929.0 228.3l.5-.4 .5-.2 .5-.4 .5-.4 .5-.2 .5-.3 .5-.2 .5 .7 .5-1 .5 .1 .5-.6 .5-.2 .5-.4 .5 2 .5-1.4 .5-.1 .5 .7 .5-.3 .5 .9 .5 .3 .5 .1 .5-.3 .5 0 .5 .3 .5 .1 .5 .6 .5 .2 .5-.1 .5 .5"/>
<path d="M955.5 228.3l.5-.9 .5-.2 .5 .2 .5 .1 .5 0 .5-.3 .5-.1 .5-.1 .5-.3 .5-1 .5 .7 .5-.4 .5 1.1 .5-.2 .5-.4 .5-.1 .5 .8 .5-.8 .5-1.2 .5 .4 .5 1.8 .5-.2 .5-.2 .5 .4 .5-1.4 .5 1.5 .5 0 .5-.2 .5 .4 .5 .6"/>
<path d="M981.5 228.3l.5-.6 .5 .1 .5 .1 .5-.1 .5-.1 .5-.5 .5 .1 .5 .1 .5 0 .5 0 .5 0 .5 0 .5 .2 .5-.2 .5-.4 .5 .6 .5 .1 .5-.3 .5-.2 .5 0 .5 0 .5 .1 .5-.9 .5 1.2 .5 .2 .5-.4 .5 0 .5 .4 .5-.3 .5 .4 .5-.1 .5 0 .5 .5"/>
<path d="M688.5 228.3l.5-.4 .5 0 .5 0 .5 0 .5-.1 .5 0 .5 0 .5-.1 .5 0 .5-.1 .5-.1 .5 0 .5-.1 .5-.1 .5-.1 .5-.2 .5-.1 .5-.2 .5-.3 .5-.3 .5-.3 .5-.4 .5-.6 .5-.7 .5-.8 .5-1.1 .5-1.2 .5-1.5 .5-1.5 .5-6.3 .1-5.1 .4-22.4 .2-9.4 .3 20.9 .2 10.9 .3 10.5 .5 1.5 .4-10.9 .1-2.9 .5-27.4 0 .5 .5 27.7 0 2.1 .5 14.2 .5 1.6 .5 1.2 .5 .6 .5-1.2 .5-1.7 .4-5.6 .1-2.8 .4-14 .1 1.8 .5 15 0 .1 .5 5.9 .5 1.6 .5 1.2 .5 .8 .5 .8 .5 .4 .5 0 .5 .1 .5 0 .5 .1 .5 0 .5 0 .5 .1 .5 0 .5 0 .5 .4"/>
<path d="M725.0 228.3l.5-.6 .5-.4 .5-.5 .5-.6 .5-.7 .5-.9 .5-1.2 .5-2.8 .2-7.9 .3-10.6 .3-12.2 .2 9.7 .3 13.1 .2 6 .5 4.5 .5 1.3 .5 .9 .5 .7 .5 .6 .5-.6 .5-.8 .5-1.1 .5-1.6 .2-4.6 .3-7.2 .3-7.8 .2 6.6 .3 8.4 .2 4.1 .5 2 .5 1.1 .5 .8 .5 .7 .5 .5 .5 .5 .5-.2 .5-.5 .5-.6 .5-.8 .5-1.1 .3-2.2 .2-2.6 .4-6.2 .1 2.2 .4 6.6 .1 1.1 .5 1.8 .5 .9 .5 .6 .5 .6 .5 .4 .5 .6"/>
<path d="M749.5 228.3l.5-.4 .5-.4 .5-.5 .5-.5 .5-.6 .5-.7 .5-1 .5-1.4 .3-2 .2-3.8 .3-7.2 .2 3.3 .4 7.7 .1 1.2 .5 1.7 .5 1.2 .5 .8 .5 .6 .5 .6 .5 .4 .5 .4 .5 .4 .5 0 .5-.3 .5-.3 .5-.5 .5-.5 .5-.6 .5-.8 .5-1 .5-1.4 .3-1.3 .2-1.6 .3-2.8 .2 .7 .4 3.7 .1 .6 .5 1.7 .5 1.2 .5 .8 .5 .6 .5 .6 .5 .4 .5 .4 .5 .4 .5 0 .5-.2 .5-.6 .5-.6 .5-.7 .5-.9 .5-1.1 .5-1.6 .5-2.6 0-.2 .5-.6 .1 0 .4 0 .1 .6 .4 2.2 .5 1.8 .5 1.2 .5 1 .5-.6 .5-1.2 .5-1.5 .5-2.4 .1-.7 .4-3.2 .1 0 .4 1.4 .2 1.8 .3 1.9 .5 1.9 .5 1.4 .5 1 .5 .8 .5 .7 .5 .5 .5 .7"/>
<path d="M788.0 228.3l.5-.5 .5-.4 .5-.6 .5-.6 .5-.7 .5-1 .5-1.1 .5-1.7 .4-1.7 .1 0 .4 0 .1 0 .5 0 0 0 .5 2.2 .5 1.5 .5 1.1 .5 .9 .5 .7 .5 .6 .5 .5 .5 .4 .5 .4"/>
<path d="M802.0 228.3l.5-.5 .5-.4 .5-.4 .5-.5 .5-.6 .5-.7 .5-1 .5-1.6 .2-.7 .3-2.8 .2-1.1 .3 2 .3 1.9 .2 1 .5 1.5 .5 .9 .5 .7 .5 .6 .5 .5 .5 .4 .5 .4 .5 .4"/>
<path d="M817.5 228.3l.5-.6 .5-.5 .5-.7 .5-.7 .5-1.1 .5-1.5 .3-1.3 .2-1.7 .3-1.1 .2 0 .4 2.8 .1 .6 .5 1.8 .5 1.2 .5 .8 .5 .7 .5 .5 .5 .8"/>
<path d="M827.0 228.3l.5-.6 .5-.4 .5-.5 .5-.7 .5-.9 .5-1.4 .1-.6 .4-.2 .2 0 .3 0 .2 .2 .3 1 .5 1.2 .5 .9 .5 .6 .5 .5 .5 .4 .5 0 .5-.3 .5-.5 .5-.5 .5-.7 .5-1.2 .2-.6 .3-1.3 .2 0 .3 0 .3 1.3 .2 .8 .5 1.1 .5 .7 .5 .5 .5 .4 .5 .4 .5 .2 .5-.2 .5-.3 .5-.4 .4-.6 .1-.2 .4-.4 .1 0 .5 .6 0 .1 .5 .6 .5 .4 .5 .2 .5 .3 .5-.1 .5-.2 .5-.3 .5-.4 .5-.4 .5-.7 .5-.9 .1-.4 .4-.8 .2 0 .3 0 .2 .8 .3 .8 .5 .8 .5 .5 .5 .5 .5 0 .5-.4 .5-.6 .5-.7 .5-1.2 .1-.3 .4-.4 .1 0 .4 0 .2 .4 .3 1 .5 .9 .5 .6 .5 .5 .5 .4 .5 .7"/>
<path d="M867.5 228.3l.5-.4 .5-.2 .5-.3 .5-.4 .5-.6 .5-.9 0 0 .5-.2 0 0 .5 0 .1 .2 .4 .8 .5 .6 .5 .4 .5 .3 .5 .1 .5-.2 .5-.4 .5-.5 .3-.5 .2-.4 .4-.2 .1 0 .4 .6 .1 .2 .5 .6 .5 .4 .5 .3 .5-.8 .5 .1 .5 0 .5-1 .5-.2 .5-1.6 .5 1.2 .5-1.4 .5 .1 .5 1.4 .5 .9 .5-.1 .5 .9 .5 .5 .5 .7"/>
<path d="M900.0 228.3l.5-.7 .5-.2 .5-.4 .5 .3 .5-.2 .5-1.3 .5 .4 .5 .1 .5-2.3 .5-1.1 .5 3.4 .5-1.4 .5-.4 .5 1.7 .5-1.3 .5 0 .5 1.8 .5-.5 .5-.4 .5 1 .5-.3 .5 .8 .5 .1 .5-.3 .5 1.2"/>
<path d="M929.0 228.3l.5-.7 .5 0 .5-.3 .5-.5 .5 0 .5-1.1 .5 .4 .5 .3 .5-.8 .5 .5 .5-.4 .5-1 .5-1.1 .5 1.7 .5 .9 .5-1.1 .5 .5 .5 .1 .5-.3 .5 .4 .5 1.3 .5-.8 .5-.7 .5 .9 .5 1 .5-.2 .5 .3 .5 .3 .5 .4"/>
<path d="M954.0 228.3l.5-.4 .5-.1 .5 .2 .5-.8 .5-.4 .5 .5 .5 0 .5 .3 .5-.3 .5-.9 .5 0 .5 .3 .5 0 .5 .3 .5 .1 .5-.8 .5 .8 .5-.4 .5 .2 .5-.9 .5 1.3 .5-.7 .5 .6 .5-.5 .5 0 .5 .1 .5 .7 .5 .2 .5-.5 .5 0 .5 .5 .5-.3 .5 .3 .5 .2 .5 .4"/>
<path d="M979.5 228.3l.5-.4 .5 .1 .5-.1 .5 .1 .5-.2 .5-.1 .5 .2 .5 0 .5-.4 .5 0 .5 .1 .5-1 .5 .6 .5 .3 .5 .2 .5-.1 .5-.7 .5-.3 .5 1 .5-.4 .5 .2 .5-.2 .5-.2 .5 .3 .5-.2 .5 .2 .5 .2 .5-.1 .5 .2 .5 .1 .5-.1 .5 0 .5 .3 .5 .1 .5 0 .5-.1 .5 0 .5 .4"/>
<path d="M689.5 228.3l.5-.4 .5 0 .5 0 .5-.1 .5 0 .5 0 .5-.1 .5 0 .5-.1 .5-.1 .5-.1 .5 0 .5-.2 .5-.1 .5-.1 .5-.2 .5-.2 .5-.3 .5-.4 .5-.4 .5-.5 .5-.6 .5-.8 .5-1 .5-1.2 .5-1.4 .5-1.3 .5-10.4 0-.8 .5-26.6 0-2 .5 25.3 .1 4.1 .4 10.2 .5 1.3 .5 1.4 .5-2.9 .1-3.4 .4-13.6 .2-6.1 .3 12.6 .2 7.1 .3 7 .5 1.7 .5 1.1 .5 .5 .5-1.2 .5-1.9 .3-8.4 .2-7.6 .3-13.9 .2 6.5 .4 15 .1 3.5 .5 6.2 .5 1.4 .5 1 .5 .9 .5 .7 .5 .3 .5 .1 .5 0 .5 0 .5 .1 .5 0 .5 0 .5 .4"/>
<path d="M724.5 228.3l.5-.4 .5 0 .5-.4 .5-.4 .5-.5 .5-.5 .5-.7 .5-1 .5-1.4 .2-6.2 .3-7.3 .3-9.5 .2 6.5 .3 10.3 .2 4 .5 3.4 .5 1 .5 .8 .5 .5 .5 0 .5-.8 .5-1 .5-1.3 .5-1.8 .3-6.5 .2-5.9 .4-13.5 .1 4.9 .4 14.5 .1 2.4 .5 5.2 .5 1.5 .5 1 .5 .9 .5 .7 .5 .5 .5-.6 .5-.8 .5-1 .5-1.4 .4-3.1 .1-1.9 .5-9.7 0 1.1 .5 10.5 0 0 .5 3.5 .5 1.3 .5 .9 .5 .7 .5 .6 .5 .5 .5 .4"/>
<path d="M750.0 228.3l.5-.4 .5-.3 .5-.4 .5-.4 .5-.5 .5-.6 .5-.8 .5-1.3 .2-.8 .3-3.3 .3-3.7 .2 3.4 .3 3.6 .2 .8 .5 1.3 .5 .8 .5 .6 .5 .5 .5 .4 .5 .4 .5 .3 .5 .2 .5-.5 .5-.6 .5-.6 .5-.7 .5-.9 .5-1.1 .5-1.5 .5-2.2 .2-1.4 .3-2.4 .3 0 .2 0 .3 2.4 .2 1.2 .5 2.3 .5 1.5 .5 1.1 .5 .9 .5 .8 .5 .6 .5 .6 .5 .7"/>
<path d="M770.5 228.3l.5-.4 .5-.4 .5-.5 .5-.5 .5-.7 .5-.9 .5-1.3 .4-1.7 .1-.6 .4-3.8 .1 0 .5 4.4 0 0 .5 2 .5 1.2 .5 .8 .5 .5 .5-.6 .5-.9 .5-1.5 .1-.4 .4-5.3 .2-2.4 .3 5 .2 2.7 .3 1 .5 1.2 .5 .8 .5 .6 .5 .5 .5 .4 .5 .4 .5 .4"/>
<path d="M788.5 228.3l.5-.6 .5-.3 .5-.4 .5-.5 .5-.6 .5-.8 .5-1 .5-1.7 0-.2 .5-4.8 0 0 .5 4.7 .1 .3 .4 1.6 .5 1.1 .5 .7 .5 .6 .5 .5 .5 .4 .5 .4 .5 .6"/>
<path d="M801.5 228.3l.5-.6 .5-.4 .5-.5 .5-.5 .5-.7 .5-.8 .5-1.2 .5-1.9 0-.2 .5-3.8 .1 0 .4 3 .1 .8 .4 1.6 .5 1.3 .5 1 .5 .7 .5 .6 .5 .4 .5 .5 .5 .3 .5 .4"/>
<path d="M817.5 228.3l.5-.5 .5-.5 .5-.6 .5-.7 .5-1 .5-1.4 .3-1.4 .2-.2 .4 0 .1 0 .4 .2 .1 .4 .5 1.8 .5 1.1 .5 .9 .5 .6 .5 .5 .5 .8"/>
<path d="M828.0 228.3l.5-.5 .5-.4 .5-.5 .5-.7 .5-.8 .5-1.3 .2-.8 .3-2 .3-.6 .2 .6 .3 2 .2 .8 .5 1.3 .5 .8 .5 .7 .5 .5 .5 .2 .5-.5 .5-.6 .5-.7 .5-1 .4-.8 .1 0 .5 0 0 0 .5 0 0 0 .5 .9 .5 1 .5 .7 .5 .5 .5 .5 .5 .2 .5-.3 .5-.5 .3-.5 .2-.5 .4-.7 .1 0 .4 1.2 .1 .2 .5 .6 .5 .4 .5 .2 .5 .4"/>
<path d="M847.0 228.3l.5-.5 .5-.3 .5-.4 .5-.5 .5-.7 .3-.7 .2-.6 .4-.7 .1 0 .4 1.3 .1 .2 .5 .9 .5 .6 .5 .4 .5 .3 .5 .1 .5-.3 .5-.4 .5-.5 .5-.8 0-.1 .5-1.6 .1 0 .4 1.3 .1 .3 .4 .7 .5 .6 .5 .4 .5 .3 .5 .3 .5 .4"/>
<path d="M867.0 228.3l.5-.5 .5-.3 .5-.4 .5-.5 .5-.8 .2-.5 .3-.6 .3 0 .2 0 .3 .6 .2 .4 .5 .8 .5 .5 .5 .4 .5 .3 .5 .1 .5-.3 .5-.4 .5-.5 .5-.7 .3-.6 .2-.7 .4-1.9 .1 .6 .4 2 .1 .2 .5 .9 .5 .6 .5 .4 .5-.3 .5-.9 .5 .2 .5 0 .5-1.2 .5-1.4 .5 .9 .5-.8 .5 1.2 .5-.9 .5 1.5 .5 .7 .5 1.2 .5 .3 .5 .4"/>
<path d="M900.0 228.3l.5-.6 .5-.7 .5 0 .5 0 .5-1.2 .5 .2 .5-.8 .5 .7 .5 .7 .5-.4 .5 .2 .5-3.9 .5 3.9 .5-.9 .5-.9 .5 .6 .5 .7 .5-.6 .5 1.3 .5-.3 .5 .8 .5 .4 .5 .1 .5 .2 .5 .5"/>
<path d="M929.0 228.3l.5-.5 .5-.2 .5-.5 .5 .1 .5-.5 .5-.2 .5 .2 .5-.8 .5-2.4 .5 2.8 .5-1.1 .5 .8 .5-2.4 .5 1.6 .5-1.5 .5 2.9 .5-.1 .5-1 .5 .2 .5 .8 .5-.7 .5 .6 .5 .1 .5 .8 .5 .2 .5 .2 .5-.4 .5 .6 .5 .4"/>
<path d="M955.0 228.3l.5-.5 .5 0 .5-.4 .5-.1 .5-.4 .5 .3 .5 .1 .5-.1 .5-.3 .5-1.5 .5 1.2 .5-.9 .5 1.3 .5 .1 .5-.6 .5 .3 .5-.8 .5 1.1 .5-.9 .5 .1 .5 .3 .5 .7 .5-1.5 .5 1.3 .5 .4 .5-.5 .5 .3 .5 .2 .5 .2 .5-.7 .5 .8 .5 .5"/>
<path d="M979.5 228.3l.5-.4 .5 .1 .5-.1 .5-.2 .5 .1 .5-.1 .5 .2 .5-.1 .5-.2 .5-.2 .5 .2 .5-.3 .5 0 .5-.2 .5-.6 .5 1.1 .5 .1 .5-.9 .5 .3 .5 .2 .5 .4 .5-.2 .5-.4 .5 .6 .5 0 .5-.2 .5 0 .5-.3 .5 .3 .5-.5 .5 .7 .5 0 .5-.2 .5 .3 .5 0 .5 0 .5 .3 .5-.2 .5 .4"/>
<path d="M688.0 228.3l.5-.4 .5 0 .5 0 .5 0 .5-.1 .5 0 .5 0 .5-.1 .5 0 .5-.1 .5-.1 .5 0 .5-.1 .5-.1 .5-.1 .5-.1 .5-.2 .5-.2 .5-.2 .5-.3 .5-.3 .5-.4 .5-.5 .5-.6 .5-.8 .5-.9 .5-1.2 .5-1.4 .5-1.6 .5-1.6 .4-27.6 .1-6.7 .5-50.6 0 2.3 .5 52.2 0 2.8 .5 27.7 .5 1.6 .3-3.4 .2-5.5 .4-13.7 .1 4.5 .4 14.7 .1 2.1 .5 4.4 .5 1.6 .5 1.2 .5 .8 .5-1.2 .5-1.8 .3-6.5 .2-5.3 .4-13.2 .1 4.3 .4 14.2 .1 1.9 .5 5.5 .5 1.5 .5 1.1 .5 .8 .5 .7 .5 .3 .5 0 .5 .1 .5 0 .5 .1 .5 0 .5 0 .5 .1 .5 0 .5 0 .5 0 .5 .4"/>
<path d="M725.0 228.3l.5-.5 .5-.4 .5-.4 .5-.5 .5-.7 .5-.7 .5-1.1 .5-1.5 .3-5.7 .2-6 .3-10.8 .2 5.3 .4 11.5 .1 3 .5 3.8 .5 1.1 .5 .9 .5 .7 .5 .5 .5-.3 .5-.8 .5-.9 .5-1.2 .5-2 .1-.9 .4-7.5 .2-3.5 .3 7 .2 4 .3 1.7 .5 1.7 .5 1.1 .5 .8 .5 .7 .5 .5 .5-.6 .5-.7 .5-1 .5-1.5 .2-.9 .3-4.4 .3-4.1 .2 4.1 .3 4.4 .2 .9 .5 1.5 .5 1 .5 .7 .5 .6 .5 .5 .5 .6"/>
<path d="M750.0 228.3l.5-.6 .5-.5 .5-.5 .5-.6 .5-.7 .5-.9 .5-1.2 .5-1.9 .2-.9 .3-3.4 .2-1.1 .3 2.3 .3 2.2 .2 1.3 .5 1.7 .5 1.2 .5 .9 .5 .7 .5 .5 .5 .5 .5 .5 .5-.1 .5-.4 .5-.5 .5-.6 .5-.7 .5-.8 .5-1.2 .5-1.8 .1-.8 .4-3.5 .2-.4 .3 1.9 .2 2 .3 1.3 .5 1.6 .5 1.1 .5 .8 .5 .7 .5 .5 .5 .5 .5 .4 .5 .5"/>
<path d="M770.0 228.3l.5-.6 .5-.3 .5-.5 .5-.5 .5-.7 .5-.9 .5-1.6 0-.1 .5-5.5 .1-.8 .4 5.6 .1 .7 .4 1.3 .5 1.1 .5 .7 .5 .6 .5-.4 .5-.8 .5-.9 .5-1.3 .5-2 .2-1.3 .3-3.4 .3-5 .2 4.5 .3 3.9 .2 1.1 .5 2.1 .5 1.3 .5 1 .5 .8 .5 .6 .5 .6 .5 .7"/>
<path d="M789.0 228.3l.5-.4 .5-.3 .5-.4 .5-.5 .5-.5 .5-.7 .5-.9 .5-1.3 .3-1.3 .2-1.3 .3-1.6 .2 0 .4 2.9 .1 .5 .5 1.6 .5 1.1 .5 .7 .5 .6 .5 .5 .5 .4 .5 .4 .5 .5"/>
<path d="M801.0 228.3l.5-.4 .5-.5 .5-.6 .5-.6 .5-.8 .5-.9 .5-1.2 .5-1.7 .4-2.4 .1-.5 .5-.7 0 0 .5 1 0 .2 .5 2.6 .5 1.6 .5 1.2 .5 .9 .5 .7 .5 .7 .5 .5 .5 .5 .5 .4"/>
<path d="M818.0 228.3l.5-.6 .5-.4 .5-.5 .5-.6 .5-.9 .5-1.4 0-.2 .5-3 .1 0 .4 2.4 .1 .6 .4 1.2 .5 1 .5 .7 .5 .5 .5 .5 .5 .3 .5 .4"/>
<path d="M828.0 228.3l.5-.6 .5-.3 .5-.4 .5-.6 .5-.8 .2-.5 .3-1.2 .3-1.7 .2 1.4 .3 1.5 .2 .4 .5 .9 .5 .5 .5 .4 .5 .4 .5 .2 .5-.1 .5-.3 .5-.3 .5-.5 .5-.6 .3-.7 .2-.5 .4-.9 .1 0 .4 1.4 .1 .1 .5 .9 .5 .6 .5 .4 .5 .3 .5 .2 .5 0 .5-.3 .5-.4 .4-.6 .1-.2 .5-.4 0 0 .5 .5 0 .1 .5 .6 .5 .4 .5 .3 .5 .4"/>
<path d="M847.0 228.3l.5-.5 .5-.3 .5-.3 .5-.5 .5-.7 .4-.7 .1-.5 .4-.9 .1 0 .5 1.4 0 .1 .5 .9 .5 .6 .5 .4 .5 .3 .5 .1 .5-.3 .5-.4 .5-.5 .4-.6 .1-.4 .4-1.7 .1 0 .5 2.1 0 .1 .5 .7 .5 .5 .5 .3 .5 .3 .5 .5"/>
<path d="M867.5 228.3l.5-.6 .5-.3 .5-.3 .5-.5 .5-.8 .1-.3 .4-1.6 .2-.4 .3 1.3 .2 .7 .3 .6 .5 .7 .5 .4 .5 .3 .5 .2 .5-.4 .5-.4 .5-.6 .5-.9 .2-.2 .3 0 .2 0 .3 0 .3 0 .2 .4 .5 .8 .5 .5 .5 .5 .5-.7 .5-.5 .5-.2 .5-2.4 .5 .9 .5 .3 .5-.3 .5-.9 .5 .8 .5 .8 .5 .4 .5 1.5 .5-.1 .5 .5 .5 .8"/>
<path d="M900.0 228.3l.5-.8 .5-.2 .5-.6 .5 0 .5-.1 .5-1.6 .5 1.3 .5-.9 .5-1 .5 .1 .5-2.3 .5 .6 .5 .9 .5 .4 .5-.7 .5 1 .5-.2 .5 2.2 .5 .4 .5-.7 .5 1.1 .5 .1 .5 .4 .5 .6"/>
<path d="M929.5 228.3l.5-.9 .5 0 .5-.3 .5 .2 .5-1.2 .5 .7 .5-.5 .5 .1 .5-.7 .5 .6 .5-.9 .5 1.1 .5-2.1 .5 .5 .5 1.2 .5-1.1 .5-.2 .5 2.1 .5-.3 .5-.3 .5-.1 .5 .4 .5-.4 .5 .8 .5 .2 .5 .6 .5-.1 .5 .6"/>
<path d="M955.0 228.3l.5-.4 .5 0 .5-1.1 .5 .8 .5-.5 .5-.1 .5 0 .5-.2 .5 .7 .5-.5 .5-.8 .5 1 .5-.9 .5 1 .5-.6 .5-.3 .5-.2 .5 .9 .5-1.6 .5 1.2 .5 .2 .5 0 .5-.2 .5 0 .5 .5 .5-.2 .5 .4 .5 .1 .5-.5 .5 .7 .5 .1 .5 .5"/>
<path d="M980.5 228.3l.5-.4 .5 0 .5-.3 .5 .3 .5-.2 .5 0 .5 0 .5 .1 .5-.6 .5 0 .5 .1 .5 .4 .5-.5 .5 .2 .5 .3 .5-.3 .5 .1 .5-.6 .5-.1 .5 .9 .5-.3 .5-.6 .5 .5 .5-.2 .5 .6 .5-.3 .5-.5 .5 .6 .5 .3 .5-.4 .5 .1 .5 .5 .5-.2 .5 .2 .5-.3 .5 .2 .5 .4"/>
<path d="M688.0 228.3l.5-.4 .5 0 .5 0 .5 0 .5-.1 .5 0 .5 0 .5-.1 .5 0 .5-.1 .5 0 .5-.1 .5-.1 .5-.1 .5-.1 .5-.1 .5-.2 .5-.1 .5-.2 .5-.3 .5-.3 .5-.4 .5-.4 .5-.6 .5-.7 .5-.9 .5-1.1 .5-1.4 .5-1.5 .5-1.6 .5-3.4 .1-5 .4-19.4 .2-8.9 .3 18.1 .2 10.2 .3 7.4 .5 1.5 .5 1.6 .5-18.5 0-.2 .5-36.1 .1-4.1 .4 33.4 .1 6.8 .4 22.4 .5 1.6 .5 .6 .5-.5 .5-4.1 .3-9.4 .2-10.4 .3-14.4 .2 9.3 .4 15.5 .1 5.5 .5 7.7 .5 1.2 .5 .7 .5 .6 .5 .3 .5 .1 .5 .1 .5 0 .5 .1 .5 0 .5 .1 .5 0 .5 .1 .5 0 .5 0 .5 0 .5 .4"/>
<path d="M725.0 228.3l.5-.4 .5-.4 .5-.5 .5-.6 .5-.7 .5-.8 .5-1.1 .5-1.5 .5-5.5 0-.6 .5-15.3 0-.9 .5 14.7 .1 2.1 .4 5.3 .5 1.5 .5 1.2 .5 .8 .5 .7 .5-.5 .5-1 .5-1.2 .5-1.8 .4-5.9 .1-3.7 .4-14.5 .1 2.6 .5 15.6 0 .6 .5 5.9 .5 1.6 .5 1.1 .5 .9 .5 .7 .5 .7 .5-.5 .5-.6 .5-.8 .5-1.2 .4-1.8 .1-.7 .5-7.8 0 0 .5 7.8 0 .7 .5 1.8 .5 1.2 .5 .8 .5 .6 .5 .6 .5 .3 .5 .1 .5 .4"/>
<path d="M750.5 228.3l.5-.7 .5-.5 .5-.6 .5-.7 .5-.8 .5-1 .5-1.4 .5-2.1 .2-1.2 .3-3.3 .2 0 .3 .3 .3 3 .2 1.3 .5 2.1 .5 1.3 .5 1.1 .5 .8 .5 .7 .5 .5 .5 .6 .5 .1 .5-.6 .5-.6 .5-.7 .5-.9 .5-1 .5-1.4 .5-1.9 .4-2.4 .1-1.1 .4-.2 .1 0 .5 1.3 0 .2 .5 2.8 .5 1.8 .5 1.2 .5 1 .5 .8 .5 .7 .5 .6 .5 .5 .5 .4"/>
<path d="M770.5 228.3l.5-.4 .5-.4 .5-.4 .5-.5 .5-.6 .5-.8 .5-1.2 .3-1.2 .2-1.1 .4-2.7 .1 .3 .4 3.5 .1 .4 .5 1.5 .5 1 .5 .7 .5-.4 .5-.8 .5-1.2 .3-1 .2-1.5 .3-2.5 .2 1.5 .4 2.5 .1 .6 .5 1.4 .5 .9 .5 .6 .5 .5 .5 .4 .5 .4 .5 .5"/>
<path d="M788.5 228.3l.5-.5 .5-.6 .5-.5 .5-.7 .5-.8 .5-1 .5-1.3 .5-1.9 .4-2.2 .1-1.2 .4-2.5 .1 0 .5 3.7 0 .3 .5 2.7 .5 1.6 .5 1.2 .5 .9 .5 .7 .5 .7 .5 .5 .5 .5 .5 .4"/>
<path d="M801.5 228.3l.5-.6 .5-.4 .5-.6 .5-.6 .5-.8 .5-.9 .5-1.2 .5-1.9 .3-1.5 .2-1.9 .3 0 .2 0 .4 1.9 .1 .8 .5 2.1 .5 1.4 .5 1 .5 .8 .5 .6 .5 .6 .5 .5 .5 .7"/>
<path d="M818.0 228.3l.5-.7 .5-.4 .5-.4 .5-.7 .5-.9 .4-1 .1-.6 .4-1.8 .1 0 .5 2.4 0 .1 .5 1.3 .5 .8 .5 .5 .5 .5 .5 .4 .5 .5"/>
<path d="M827.5 228.3l.5-.6 .5-.3 .5-.4 .5-.6 .5-.8 .4-1 .1-.3 .5-1.3 0 0 .5 1.5 0 .1 .5 1.1 .5 .8 .5 .5 .5 .4 .5 .4 .5 .1 .5-.4 .5-.4 .5-.5 .5-.7 .5-1 .2-.7 .3-.7 .3 0 .2 0 .3 .7 .2 .6 .5 1.1 .5 .7 .5 .5 .5 .4 .5 .4 .5-.2 .5-.3 .5-.5 0-.1 .5-1.1 0 0 .5 1 .1 .2 .4 .4 .5 .4 .5 .2 .5 .4"/>
<path d="M847.0 228.3l.5-.5 .5-.3 .5-.3 .5-.5 .5-.7 .3-.8 .2-.4 .4-2.7 .1 .5 .4 2.6 .1 .2 .5 .9 .5 .6 .5 .4 .5 .3 .5-.1 .5-.4 .5-.6 .5-.7 .5-1.1 .2-.8 .3-.1 .3 0 .2 0 .3 .1 .2 .5 .5 1.2 .5 .8 .5 .6 .5 .4 .5 .4 .5 .5"/>
<path d="M867.0 228.3l.5-.5 .5-.3 .5-.3 .5-.5 .5-.8 0 0 .5-2 0 0 .5 1.9 .1 .1 .4 .7 .5 .5 .5 .4 .5 .2 .5 .2 .5 0 .5-.3 .5-.3 .5-.4 .5-.6 .4-.6 .1-.2 .4 0 .1 0 .5 .2 0 .1 .5 .8 .5 .5 .5 .3 .5-.3 .5-.4 .5-.8 .5-.6 .5 .7 .5-.3 .5-.8 .5 .1 .5-1.1 .5 2.3 .5 .1 .5 .8 .5-.9 .5 1.4 .5 .7"/>
<path d="M900.5 228.3l.5-.9 .5-.5 .5-1.8 .5 1.3 .5 .1 .5-1.7 .5 .8 .5-.2 .5 1 .5-.1 .5-1.7 .5 1 .5-2.9 .5 2.3 .5-1.8 .5 3.1 .5-.7 .5 1.2 .5-.4 .5 .4 .5 .4 .5-.1 .5 .8 .5 .4"/>
<path d="M929.0 228.3l.5-.4 .5-.2 .5-.1 .5-1.1 .5 .9 .5-.9 .5 .4 .5-.3 .5-.3 .5-.3 .5-.1 .5 .7 .5-1.6 .5 .6 .5-.3 .5-.8 .5 .8 .5 .1 .5 .7 .5 .2 .5-.7 .5 1.1 .5 .4 .5-.1 .5-.1 .5 .5 .5 .2 .5 .7"/>
<path d="M954.5 228.3l.5-.6 .5 .2 .5 0 .5-.2 .5-.2 .5 .2 .5-.5 .5-.3 .5-.3 .5 .2 .5-.3 .5 0 .5-1 .5 1.4 .5-.2 .5 0 .5-.3 .5-.1 .5-1.4 .5 2.1 .5 0 .5 .1 .5-.2 .5-.1 .5-.9 .5 .1 .5 1.4 .5-.8 .5 .9 .5 0 .5 .2 .5-.1 .5 .7"/>
<path d="M980.5 228.3l.5-.7 .5 .2 .5-.2 .5 .2 .5 .1 .5-.5 .5-.1 .5 .2 .5-.2 .5 0 .5-.5 .5 .7 .5-.2 .5 .1 .5-.1 .5-.2 .5 .4 .5-.6 .5 .1 .5 .6 .5-.3 .5-.6 .5 .5 .5 .1 .5-.1 .5 .2 .5 .4 .5-.3 .5 0 .5 .4 .5-.1 .5-.4 .5 0 .5 .5 .5 0 .5 .4"/>
<path d="M691.0 228.3l.5-.4 .5 0 .5 0 .5-.1 .5 0 .5-.1 .5 0 .5-.1 .5-.1 .5 0 .5-.1 .5-.2 .5-.1 .5-.2 .5-.2 .5-.2 .5-.3 .5-.4 .5-.5 .5-.6 .5-.7 .5-.9 .5-1.1 .5-1.2 .5-1.1 .3-8.6 .2-6.5 .4-18.7 .1 5.2 .4 20 .1 2.2 .5 6.8 .5-8.1 .1-5.3 .4-22 .2-9.7 .3 20.5 .2 11.2 .3 13.6 .5 2.3 .5 1.4 .5 .7 .5-1.4 .5-16.8 0-.1 .5-28.8 .1-3.4 .4 26.6 .1 5.6 .4 16.5 .5 1.6 .5 1.1 .5 .8 .5 .7 .5 .4 .5 .1 .5 .2 .5 0 .5 0 .5 .1 .5 0 .5 0 .5 .4"/>
<path d="M725.0 228.3l.5-.6 .5-.5 .5-.5 .5-.7 .5-.8 .5-1 .5-1.3 .5-1.9 .3-5.7 .2-5.7 .4-13.4 .1 4.7 .4 14.4 .1 2.3 .5 4.5 .5 1.5 .5 1.1 .5 .9 .5 .7 .5 .2 .5-.7 .5-.9 .5-1.3 .5-2.4 0-.3 .5-9.5 .1-1.4 .4 8.8 .1 2.1 .4 2.3 .5 1.4 .5 .9 .5 .8 .5 .6 .5 .5 .5-.5 .5-.7 .5-.9 .5-1.3 .5-1.9 .1-1 .4-7.2 .2-3.3 .3 6.7 .2 3.8 .3 1.8 .5 1.6 .5 1.1 .5 .8 .5 .7 .5 .6 .5 .2 .5 .4"/>
<path d="M750.0 228.3l.5-.5 .5-.4 .5-.5 .5-.6 .5-.7 .5-.8 .5-1.1 .5-1.7 .3-1.4 .2-1.9 .3-2.8 .2 1 .4 3.7 .1 .8 .5 1.9 .5 1.2 .5 .9 .5 .7 .5 .6 .5 .5 .5 .5 .5 .1 .5-.6 .5-.6 .5-.7 .5-.8 .5-1.1 .5-1.3 .5-2 .4-2.3 .1-1.1 .4-6 .1 0 .5 7.1 0 .2 .5 2.8 .5 1.7 .5 1.3 .5 .9 .5 .8 .5 .7 .5 .6 .5 .5 .5 .4"/>
<path d="M770.5 228.3l.5-.8 .5-.5 .5-.7 .5-.7 .5-1 .5-1.4 .5-2.1 .1-.5 .4-6.5 .1-2.6 .4 7 .2 2.1 .3 1.7 .5 1.6 .5 1.2 .5 .7 .5-1 .5-1.2 .5-1.8 .4-2.5 .1-.4 .5 0 0 0 .5 .1 0 .3 .5 2.6 .5 1.7 .5 1.3 .5 .9 .5 .8 .5 .6 .5 .6 .5 .5"/>
<path d="M788.5 228.3l.5-.4 .5-.5 .5-.5 .5-.5 .5-.7 .5-.9 .5-1 .5-1.6 .4-1.8 .1-1 .4-4 .1 0 .5 5 0 .2 .5 2.2 .5 1.4 .5 .9 .5 .8 .5 .7 .5 .5 .5 .5 .5 .7"/>
<path d="M801.0 228.3l.5-.4 .5-.5 .5-.5 .5-.7 .5-.7 .5-1 .5-1.1 .5-1.7 .5-2.6 0-.3 .5-.8 .1 0 .4 0 .1 .8 .4 2.2 .5 1.9 .5 1.3 .5 1 .5 .8 .5 .7 .5 .5 .5 .6 .5 .5"/>
<path d="M818.0 228.3l.5-.4 .5-.4 .5-.5 .5-.6 .5-.8 .5-1.2 .4-1.4 .1-.6 .4-.4 .1 0 .5 1 0 0 .5 1.7 .5 1 .5 .8 .5 .6 .5 .5 .5 .7"/>
<path d="M828.0 228.3l.5-.6 .5-.4 .5-.5 .5-.6 .5-.9 .4-1 .1-.6 .4-.7 .1 0 .5 1.3 0 .2 .5 1.2 .5 .8 .5 .5 .5 .4 .5 .4 .5 .3 .5-.2 .5-.4 .5-.4 .5-.5 .5-.7 .5-1 .1-.5 .4-.8 .2 0 .3 0 .2 .8 .3 .8 .5 .9 .5 .7 .5 .4 .5 .4 .5 .2 .5-.3 .5-.4 .3-.5 .2-.4 .4-.2 .1 0 .4 .6 .1 .1 .5 .6 .5 .4 .5 .3 .5 .1 .5-.2 .5-.4 .5-.4 .5-.5 .5-.7 .5-1.1 .1-.4 .4-.4 .2 0 .3 0 .2 .4 .3 .8 .5 .9 .5 .6 .5 .5 .5 .4 .5-.1 .5-.4 .5-.4 .5-.8 .1-.2 .4-1.7 .1 0 .4 1.1 .2 .6 .3 .6 .5 .6 .5 .4 .5 .3 .5 .3 .5 .4"/>
<path d="M867.0 228.3l.5-.4 .5-.3 .5-.3 .5-.5 .5-.6 .4-.7 .1 0 .4 0 .1 0 .5 0 0 0 .5 .9 .5 .6 .5 .4 .5 .3 .5-.2 .5-.4 .5-.5 .5-.7 .5-.5 0 0 .5 0 0 0 .5 0 .1 0 .4 .3 .5 .8 .5 .5 .5 .4 .5 .1 .5-.9 .5-.1 .5-.8 .5-.1 .5-.2 .5-.8 .5 .7 .5 1 .5-.3 .5 .6 .5 .7 .5 .3 .5 .2 .5 .5"/>
<path d="M899.5 228.3l.5-.5 .5-.1 .5-.4 .5 0 .5 .1 .5-.6 .5-.1 .5 .1 .5-1.5 .5 .7 .5 .2 .5-.5 .5 .7 .5-.1 .5-1 .5-1.9 .5 1.3 .5 1.9 .5-.8 .5 .6 .5 .4 .5 .6 .5-.4 .5 .1 .5 .8 .5 .4"/>
<path d="M929.0 228.3l.5-.7 .5 0 .5-.4 .5 .1 .5-.4 .5-1.7 .5 2 .5-1 .5-.8 .5 1.1 .5-1.8 .5 1.2 .5 .8 .5-3.4 .5 3.4 .5-3.2 .5 1.2 .5 1.2 .5-2.1 .5 3 .5-.5 .5 .5 .5-.3 .5-.8 .5 1.2 .5 .4 .5 .6 .5 .4"/>
<path d="M954.5 228.3l.5-.5 .5 0 .5 0 .5-.5 .5 0 .5 .4 .5-.4 .5 .3 .5-.5 .5-1.1 .5 .9 .5-.4 .5 .8 .5-.4 .5-.6 .5 1 .5-.3 .5-.1 .5-.5 .5-1 .5 .9 .5-1.7 .5 2.2 .5 .5 .5-.8 .5 .8 .5-.2 .5 0 .5-.1 .5 .6 .5-.1 .5 .4 .5-.1 .5 .5"/>
<path d="M981.0 228.3l.5-.7 .5 .3 .5-.4 .5 .3 .5 0 .5-.3 .5-.1 .5 .3 .5-.6 .5 .4 .5-.2 .5 .3 .5 0 .5 0 .5 .1 .5-.2 .5 0 .5 0 .5 0 .5-.9 .5 .6 .5 .4 .5 .1 .5-.4 .5 .4 .5-.4 .5 .1 .5 .3 .5 0 .5 .1 .5-.1 .5 .6"/>
</g>
<g fill="none" stroke="#1b74c6" stroke-opacity="0.4" stroke-width="1.5" stroke-linejoin="round">
<path d="M686.3 526.3l.6 .2 .6 .1 .6-.6 .6-.2 .6 .1 .6 .2 .6 .6 .6-.1 .6 .1 .6-.7 .6 0 .6 .3 .6-.4 .6 .2 .6-.1 .6 .2 .6-.2 .6 0 .6 .1 .6-.2 .6 0 .6 .2 .6 .1 .6-.1 .6-.2 .6 .2 .6-.1 .6 .1 .6-.1 .6-.2 .6 .1 .6 .1 .6 .4 .6 .2 .6 .1 .6 0 .6 .3 .6 0 .6-.2 .6-.1 .6-.8 .6 0 .6 0 .6-.1 .6 .5 .6 0 .6-.2 .6-.1 .6-.2 .6 0 .6 .3 .6-.1 .6 .3 .6 .3 .6-.1 .6 .3 .6-.5 .6-.3 .6 .2 .6-.5 .6 .2 .6 0 .6 0 .6 .6 .6 0 .6 .2 .6-.8 .6-.1 .6 .2 .6 .3 .6 0 .6-.1 .6-.1 .6-.8 .6 .3 .6-.1 .6 .3 .6 .5 .6 .1 .6 .1 .6-.2 .6-.2 .6-.1 .6 0 .6 0 .6 .5 .6 .1 .6 .3 .6 .1 .6-.2 .6-.1 .6-.5 .6-.1 .6 0 .6 .2 .6 .3 .6 .1 .6 .1 .6 0 .6-.3 .6 0 .6-.1 .6 .3 .6 0 .6 0 .6-.1 .6-.1 .6 .2 .6 .1 .6-.2 .6-.5 .6-.2 .6 0 .6 .6 .6-.1 .6-.1 .6-.4 .6-.5 .6 .3 .6 .2 .6 .3 .6 0 .6 0 .6 0 .6 .6 .6-.1 .6 0 .6-.4 .6-.2 .6 .4 .6 .3 .6-.1 .6-.2 .6-.2 .6-.5 .6 .2 .6-.3 .6 .5 .6 .3 .6-.1 .6 .1 .6-.1 .6-.2 .6 .4 .6 .2 .6-.1 .6 .2 .6-.2 .6-.2 .6-.6 .6-.1 .6 0 .6 .1 .6 .3 .6-.2 .6 .4 .6 0 .6-.2 .6 .1 .6-.5 .6 .3 .6-.3 .6 .2 .6-.1 .6-.1 .6 .6 .6 .1 .6 0 .6 0 .6 .2 .6 .1 .6 .3 .6 0 .6-.2 .6-.2 .6-.2 .6-.2 .6-.1 .6 0 .6 .3 .6 .1 .6 .2 .6-.1 .6 0 .6 .2 .6-.4 .6-.1 .6-.3 .6-.2 .6 .3 .6 .1 .6-.3 .6 .1 .6 .1 .6 .5 .6 .2 .6-.1 .6-.3 .6-.4 .6 0 .6 0 .6-.2 .6 0 .6-.1 .6 .1 .6 0 .6 .1 .6-.1 .6-.2 .6 0 .6 .8 .6 .5 .6 .4 .6 .4 .6-.9 .6-.2 .6-.2 .6-.1 .6 .2 .6 .3 .6-.7 .6-.2 .6 0 .6-.3 .6 .5 .6 .4 .6-.1 .6 .5 .6 0 .6-.3 .6-.2 .6-.8 .6 0 .6-.1 .6 .2 .6 .1 .6 .2 .6 0 .6 .1 .6 .1 .6 .2 .6 .3 .6 0 .6 .2 .6-.3 .6 0 .6 .5 .6 .1 .6-.2 .6-.7 .6 0 .6-.2 .6 .3 .6 .4 .6-.3 .6 .1 .6-.5 .6-.1 .6-.2 .6 .4 .6 0 .6-.1 .6-.1 .6-.6 .6 .4 .6 .2 .6 .1 .6-.1 .6 .1 .6 0 .6 .2 .6 .4 .6-.4 .6-.1 .6 0 .6-.2 .6 .3 .6-.2 .6 .1 .6 0 .6-.2 .6 .2 .6-.2 .6 .2 .6 0 .6-.1 .6 0 .6 .3 .6 .3 .6-.2 .6 0 .6-.6 .6-.5 .6 .2 .6-.2 .6 .3 .6 .6 .6 .4 .6 .2 .6-.1 .6-.3 .6-.2 .6 .1 .6 0 .6-.2 .6 .3 .6-.1 .6 0 .6 .2 .6-.3 .6-.1 .6 .3 .6 0 .6-.1 .6-.1 .6-.5 .6-.2 .6 .3 .6 .1 .6 .3 .6 0 .6-.4 .6 0 .6 .5 .6 .5 .6 .4 .6 .1 .6-.5 .6-.6 .6-.2 .6-.3 .6 .2 .6 .3 .6-.1 .6 .2 .6 .4 .6-.2 .6 .3 .6 .1 .6-.6 .6 0 .6-.2 .6-.1 .6 .2 .6 .3 .6 0 .6-.2 .6-.1 .6-.2 .6-.3 .6 .3 .6-.1 .6-.2 .6 .2 .6-.5 .6 .1 .6 .3 .6-.1 .6 .4 .6 .5 .6 .2 .6 .3 .6 0 .6-.5 .6-.3 .6-.3 .6-.1 .6 .1 .6-.1 .6 .4 .6-.2 .6 0 .6 .4 .6-.3 .6 0 .6 0 .6 .2 .6 .1 .6 .1 .6 .1 .6-.5 .6-.5 .6 .2 .6 0 .6 .3 .6 .4 .6-.4 .6 .1 .6-.3 .6 .2 .6 .5 .6-.2 .6 0 .6-.2 .6-.4 .6 0 .6-.1 .6 .2 .6-.3 .6-.2 .6 .1 .6-.2 .6 .2 .6 0 .6 .2 .6 .4 .6-.1 .6 .5 .6-.4 .6-.3 .6-.2 .6-.2 .6 .3 .6 0 .6 .7 .6 0 .6 0 .6-.2 .6-.3 .6-.2 .6-.1 .6 .5 .6 .1 .6 .2 .6 .2 .6-.6 .6-.1 .6-.4 .6-.3 .6 .4 .6 .1 .6 .4 .6 .2 .6-.1 .6-.1 .6 .2 .6 .2 .6-.3 .6 0 .6 0 .6-.3 .6 .3 .6-.1 .6-.5 .6 .1 .6-.2 .6 .1 .6 0 .6-.3 .6 .1 .6-.1 .6 .4 .6 0 .6 .2 .6 .2 .6-.1 .6 .3 .6-.2 .6-.1 .6 0 .6-.4 .6 0 .6 .2 .6-.3 .6 .3 .6-.1 .6-.2 .6 .3 .6-.1 .6 .4 .6 .1 .6 .3 .6 0 .6-.2 .6 .2 .6-.5 .6-.3 .6 0 .6 0 .6 .3 .6 .1 .6 .4 .6-.2 .6-.3 .6 .3 .6-.1 .6-.1 .6 .3 .6-.5 .6-.2 .6 .6 .6 .1 .6 .4 .6 .2 .6-.7 .6-.1 .6-.1 .6-.3 .6 .2 .6 0 .6 0 .6 .3 .6-.1 .6-.3 .6-.1 .6-.4 .6-.1 .6 .4 .6 .4 .6 .4 .6-.3 .6 .1 .6-.3 .6-.1 .6 .6 .6-.1 .6-.4 .6-.2 .6 .1 .6-.6 .6 .4 .6 .3 .6 0 .6 .8 .6 .1 .6 .3 .6-.1 .6-.2 .6-.1 .6-.3 .6-.3 .6-.1 .6-.6 .6-.1 .6 .6 .6 .1 .6 .3 .6 0 .6-.7 .6-.3 .6-.1 .6 .1 .6 .4 .6 .1 .6-.2 .6 .3 .6 0 .6 0 .6 .4 .6-.2 .6 .1 .6 .1 .6-.1 .6-.4 .6-.7 .6-.1 .6 .4 .6 .5 .6 .5 .6 .1 .6-.3 .6-.2 .6 0 .6-.3 .6-.2 .6 .1 .6-.4 .6 .3 .6 .1 .6-.1 .6 .4 .6 0 .6 .1 .6-.3 .6 0 .6-.5 .6 .1 .6 .4 .6 .2 .6 .4 .6 .2 .6-.5 .6 .1 .6-.1 .6-.3 .6 .3 .6-.3 .6 0 .6 .1 .6-.3 .6 .2 .6 .1 .6 .1 .6 .1 .6 .2 .6-.2 .6-.2 .6 .1 .6 0 .6-.1 .6 .1 .6 .1 .6 0 .6 0 .6 .1 .6-.1 .6 .1 .6 .2 .6-.3 .6 0 .6-.4 .6 .1 .6-.2 .6-.4 .6-.2 .6-.1 .6 .4 .6 .3 .6 .1 .6 .1 .6-.1 .6 .6 .6 .5 .6 .1 .6-.4 .6-.5 .6-.4 .6 .1 .6 .7 .6 .1 .6-.4 .6-.1 .6-.8 .6 .2 .6 .6 .6 .1 .6 .1 .6-.2 .6 0 .6-.3 .6 .2 .6 .1 .6-.2 .6 .2 .6 .2 .6 0 .6-.2 .6 0 .6 0 .6-.3 .6 .2 .6 0 .6 0 .6 .3 .6-.2 .6-.3 .6 0 .6-.1 .6 .2 .6 .1 .6-.3 .6 .1 .6 0 .6 .2 .6 .5 .6 .1 .6 .3 .6-.4 .6-.6 .6-.3 .6-.5 .6-.1 .6 .6 .6-.2 .6 .4 .6 .5 .6 .4 .6 .5 .6 .3 .6-.4 .6-.6 .6-.1 .6-.6 .6 .3 .6 .1 .6-.6 .6 .6 .6-.4 .6 .5 .6 .1 .6-.5 .6 .3 .6-.5 .6 0 .6 .1 .6 0 .6 .1 .6 0 .6-.1 .6-.1 .6 .1 .6 .3 .6 .1 .6-.1 .6 .2 .6-.2 .6 .1 .6-.4 .6 .1 .6 .3 .6-.5 .6 .6 .6-.1 .6 .1 .6 .4 .6 0 .6-.4 .6-.2 .6-.1 .6-.2 .6 0 .6 .3 .6 .1 .6-.3 .6 .2 .6-.2 .6 0 .6 .5 .6-.1 .6-.2 .6 .1 .6 0 .6-.1 .6-.2 .6-.2 .6-.3 .6 0 .6 .4 .6-.1 .6 .2 .6 0 .6-.2 .6 .2 .6-.1 .6 .4 .6 .1 .6 0 .6-.1 .6 .1 .6 0 .6-.2 .6-.1 .6-.3 .6 .5 .6 .2 .6 0 .6-.1 .6-.2 .6 .2 .6-.1 .6-.1 .6 .1 .6-.3 .6 .1 .6 .1 .6 0 .6-.1 .6-.1 .6 .1 .6-.2 .6-.3 .6 .2 .6-.2 .6 0 .6 .4 .6-.1 .6 .1 .6-.3 .6 .1 .6 .1 .6 .3 .6 .4 .6-.2 .6 .2 .6 .2 .6 .1 .6 .1 .6-.5 .6-.4 .6-.4 .6 .2 .6 .1 .6-.1 .6 .3 .6-.4 .6-.3 .6 0 .6 .2 .6 .1 .6 .5 .6-.2 .6-.3 .6 .3 .6 .2 .6 0 .6 0 .6-.3 .6-.3 .6 .2 .6 .1 .6 0 .6-.2 .6 .2 .6 .3 .6 .2 .6 .1 .6-.2 .6 .1 .6-.5 .6-.4 .6-.1 .6-.2 .6 .6 .6 .5 .6 .3 .6 0 .6-.3 .6-.3 .6-.1 .6-.2 .6 .1 .6 .4 .6-.2 .6 .1 .6-.2 .6 0 .6 .1 .6 0 .6 .2 .6 .1 .6 .1 .6 .1 .6-.1 .6-.5 .6-.1 .6 0 .6 0 .6 .5 .6-.1 .6 0 .6 .1 .6-.2 .6-.3 .6 .1 .6 .2 .6-.3 .6 .4 .6-.1 .6-.5 .6 .3 .6-.1 .6-.3 .6 .1 .6 .1 .6-.1 .6 .3 .6 0 .6-.2 .6 .2 .6 0 .6-.2 .6 .2 .6 .1 .6 .3 .6 .4 .6-.2 .6-.5 .6-.3 .6-.2 .6-.2 .6 .2 .6 .3 .6-.1 .6 .7 .6 .2 .6-.4 .6 0 .6-.6 .6 0 .6 .4 .6 .1 .6 .1 .6 .1 .6 0 .6-.2 .6-.3 .6-.3 .6-.5 .6 .5 .6 .1 .6 .1 .6 .1 .6-.1 .6 .3 .6 .2 .6 .4 .6-.2 .6 .2 .6 .4 .6-.4 .6 .1 .6-.2 .6-.2 .6 0 .6-.1 .6 .3 .6-.3 .6-.5 .6 .3 .6-.2 .6 .4 .6 .9 .6 .5 .6-.3 .6-.5 .6-.7 .6-.3 .6 .1 .6-.2 .6-.1 .6 .5"/>
<path d="M686.3 525.8l.6-.4 .6 .2 .6-.3 .6 .4 .6 .1 .6 .3 .6 .2 .6-.1 .6 .2 .6-.2 .6 .1 .6 .1 .6-.2 .6 .1 .6-.1 .6-.1 .6-.1 .6-.3 .6 0 .6-.6 .6 0 .6 .2 .6-.2 .6 .3 .6-.3 .6 .1 .6 .6 .6 .2 .6-.1 .6-.1 .6-.4 .6-.5 .6 .2 .6 0 .6-1 .6-.7 .6 0 .6 1.1 .6 0 .6-.4 .6 .5 .6-.4 .6-.1 .6-.2 .6 .8 .6 0 .6-.9 .6 .4 .6 1 .6-.6 .6-.1 .6-.3 .6-.5 .6 .2 .6 1 .6 .8 .6-.2 .6 .4 .6 .1 .6-.4 .6 .3 .6 .1 .6-.1 .6 .4 .6 0 .6-.3 .6 0 .6-.5 .6 0 .6-.1 .6 .1 .6 .2 .6 .4 .6-.5 .6 0 .6 .1 .6-.7 .6-.2 .6 0 .6 .6 .6-.3 .6-.2 .6 .7 .6-.6 .6-.2 .6 .3 .6 .6 .6 .4 .6 .2 .6 .4 .6 0 .6-.2 .6 .1 .6 .1 .6-.2 .6 .3 .6 .6 .6-.1 .6 0 .6-.4 .6-.8 .6-.3 .6 0 .6-.7 .6-.8 .6 .1 .6-.6 .6 1.4 .6-.4 .6 .5 .6 .5 .6-.4 .6-.2 .6 .3 .6 .2 .6 .4 .6-.3 .6 .2 .6-.1 .6-.2 .6 .2 .6 .4 .6-.2 .6-.1 .6-.1 .6 0 .6-.1 .6 .6 .6-.2 .6-.3 .6-.2 .6-.4 .6 .5 .6 .2 .6 .2 .6 0 .6-.2 .6-.4 .6-.4 .6 .9 .6-.9 .6 0 .6-.3 .6 .5 .6 .2 .6-.4 .6-.2 .6 .2 .6 .4 .6-1.1 .6 .5 .6-.9 .6-.1 .6 .8 .6 .4 .6-.1 .6 .6 .6 .1 .6 .4 .6 .1 .6 .2 .6-.1 .6-.2 .6 .2 .6 0 .6 .6 .6 .5 .6-.1 .6-.3 .6-.5 .6-.3 .6-.2 .6 .2 .6 0 .6 .3 .6 0 .6-.2 .6 0 .6-.4 .6 .2 .6 .4 .6 0 .6-.1 .6 0 .6 0 .6 0 .6 0 .6 0 .6 .1 .6-.2 .6 .2 .6-.5 .6-.2 .6 .2 .6 .1 .6 .4 .6 .2 .6-.2 .6-.2 .6 .1 .6-.2 .6-.3 .6-.1 .6-.8 .6 .2 .6-.2 .6 0 .6 .1 .6 .3 .6 0 .6 0 .6 .1 .6-.3 .6 .4 .6-.4 .6 .5 .6 .1 .6-.4 .6 .5 .6-.5 .6-.2 .6 .2 .6-.4 .6 .1 .6-.4 .6-.3 .6-.8 .6 1.3 .6-.6 .6 .7 .6 .4 .6-.1 .6 .1 .6 .1 .6 .2 .6 0 .6-1.2 .6-.4 .6-.1 .6 1 .6-.7 .6-.8 .6 1.1 .6-.6 .6-1.5 .6 .9 .6-.2 .6 .1 .6 1 .6 .2 .6-.4 .6 .8 .6 .2 .6 .5 .6 .3 .6 .1 .6 .5 .6 0 .6-.1 .6 .2 .6-.2 .6 .1 .6-.6 .6-.3 .6 .1 .6-.2 .6 .4 .6-.1 .6-.3 .6 .5 .6 .1 .6 .1 .6 0 .6-.7 .6 .1 .6 .1 .6 .3 .6 .5 .6-.2 .6-.2 .6-.4 .6-.2 .6 0 .6 .3 .6 0 .6 .1 .6-.5 .6-.7 .6 .1 .6-.3 .6-.3 .6 .4 .6-.8 .6-.1 .6 .6 .6-2.1 .6 1.5 .6 1.1 .6-.2 .6 .7 .6 .2 .6-.3 .6 0 .6 .5 .6-.8 .6 1.2 .6 .1 .6 .2 .6 .2 .6 .1 .6-.4 .6-.2 .6 .1 .6-.1 .6 .4 .6-.3 .6-.3 .6-.4 .6-.2 .6 .1 .6 .1 .6 .4 .6-.3 .6 0 .6 .2 .6-.5 .6-.4 .6-1.2 .6 .7 .6 .4 .6-1.2 .6 1.3 .6-1.1 .6 1.2 .6-.9 .6 .4 .6 .6 .6-.1 .6 .6 .6-.3 .6 0 .6 .4 .6 .8 .6-.1 .6 .3 .6 0 .6-.4 .6 .4 .6-.1 .6 0 .6 .2 .6-.6 .6 .2 .6-.2 .6-.2 .6-.3 .6-1 .6-.4 .6 .7 .6-.2 .6 .1 .6 .2 .6 .5 .6-.5 .6 .7 .6-.9 .6-.4 .6 .3 .6-.5 .6 .8 .6-.7 .6 1 .6-.4 .6-.3 .6-.2 .6 .5 .6-.6 .6 .2 .6 .5 .6-.4 .6 .7 .6-.1 .6-1.1 .6 .8 .6-.6 .6 1.2 .6 0 .6 .3 .6-1.2 .6-.5 .6-.2 .6 .4 .6 .2 .6-.5 .6-1.6 .6 1.8 .6 .1 .6 .7 .6 .7 .6 .4 .6-.3 .6 0 .6-.3 .6 .2 .6 .1 .6-.3 .6-.4 .6-.1 .6-.1 .6 0 .6 .6 .6 .3 .6 .8 .6-.4 .6 .3 .6-.2 .6 .1 .6 0 .6-.4 .6-.3 .6-.7 .6 .3 .6 0 .6 .3 .6 .3 .6 0 .6-.3 .6 .1 .6-.5 .6-.6 .6-.1 .6 0 .6 .2 .6 .5 .6-.2 .6 .4 .6-.2 .6-.2 .6 .4 .6 .5 .6-.1 .6 .2 .6 .1 .6-.1 .6 0 .6-.6 .6-.2 .6 0 .6-.1 .6 0 .6 .1 .6-.3 .6 .1 .6 .5 .6 .1 .6 0 .6 .4 .6 .4 .6-.2 .6-.2 .6-.8 .6-.1 .6 .4 .6 .1 .6 .2 .6 .2 .6-.3 .6-.2 .6-.1 .6 0 .6 .2 .6 .3 .6 .4 .6-.1 .6 .3 .6-.1 .6 0 .6-.3 .6 .2 .6-1 .6-.4 .6-.2 .6-.2 .6 .7 .6 .3 .6-.5 .6 .3 .6-.3 .6 .3 .6 .2 .6-.3 .6-.4 .6-.1 .6-.6 .6 .2 .6 .7 .6-.1 .6 .7 .6 .9 .6 .2 .6 .7 .6-.5 .6-.9 .6-.2 .6-1.1 .6 .3 .6 .1 .6 .4 .6-.1 .6-.5 .6-.1 .6-.5 .6 0 .6-.3 .6-.8 .6 1.1 .6-.4 .6 .1 .6 .3 .6 .4 .6 0 .6-.8 .6 .8 .6 0 .6 .3 .6 .1 .6 .4 .6 .3 .6 .1 .6 .1 .6-.5 .6-.2 .6-.5 .6-.1 .6-.2 .6 .4 .6 .3 .6-.3 .6 .6 .6-.5 .6 .5 .6-.1 .6-.1 .6-.2 .6 .3 .6 .5 .6-.3 .6-.6 .6-.3 .6 .2 .6 .3 .6 .3 .6 .1 .6 0 .6-1.2 .6 .2 .6-.5 .6-1.8 .6 1.1 .6 .9 .6 0 .6 .4 .6-1.5 .6 .1 .6-.7 .6 .7 .6 .8 .6-.5 .6 1.6 .6-.2 .6-.8 .6-.3 .6 1.5 .6-1.7 .6 .5 .6 .2 .6 .4 .6 .3 .6 .6 .6 .4 .6-.2 .6 0 .6-.1 .6 0 .6 .1 .6 .2 .6 .1 .6-.2 .6 .1 .6 0 .6 .6 .6 .2 .6-.4 .6 .2 .6-.8 .6 .3 .6 .3 .6-.3 .6-.2 .6-.7 .6 .1 .6 .1 .6-.5 .6 .4 .6-.5 .6 .7 .6-.9 .6 .3 .6 .8 .6 .4 .6 0 .6 .3 .6-.3 .6-.3 .6-.3 .6-.2 .6 0 .6 .3 .6 .5 .6-.1 .6 .5 .6 .2 .6-.5 .6 .3 .6-.1 .6 0 .6 .2 .6-.1 .6-.3 .6-.4 .6-.1 .6 0 .6-.3 .6 .5 .6-.7 .6-.5 .6 .2 .6-.8 .6-.2 .6 .9 .6 .4 .6 .2 .6-.1 .6-.5 .6 .6 .6-.3 .6-.2 .6-.1 .6-.1 .6 .5 .6-.1 .6-.4 .6-.6 .6 .1 .6 .5 .6 .5 .6 0 .6 0 .6-1.4 .6 .5 .6 .2 .6-.3 .6-.1 .6 .8 .6 0 .6 0 .6 .6 .6 .1 .6 0 .6 .3 .6-.8 .6-.2 .6-.2 .6-.4 .6-.8 .6 .4 .6-.8 .6 .6 .6-.4 .6-.1 .6-.7 .6 1 .6-.9 .6-.6 .6 1.3 .6-.3 .6-.5 .6 1.2 .6 0 .6 .2 .6 .4 .6 .7 .6 .1 .6 .4 .6-.2 .6 0 .6-.3 .6 .6 .6 .1 .6 .2 .6 .3 .6-.1 .6-1 .6-1.2 .6 1.3 .6 0 .6 0 .6 .5 .6-1.3 .6 .2 .6-.1 .6-.6 .6 1.2 .6-1.2 .6-.4 .6 .3 .6 1.4 .6-1.5 .6 1.3 .6-.8 .6-.4 .6-.2 .6 .2 .6 .7 .6 .4 .6-.4 .6 .7 .6-.2 .6 .1 .6 .7 .6-.1 .6 0 .6 .2 .6-.4 .6-.3 .6 .6 .6 .2 .6 .4 .6 .3 .6-.1 .6 0 .6 .1 .6-.3 .6-.4 .6-1.2 .6-.8 .6-.1 .6 .7 .6-.1 .6 .6 .6-.7 .6 .1 .6 .3 .6-.7 .6 .2 .6 .9 .6-1.2 .6 .5 .6 .6 .6-.3 .6 .4 .6 .6 .6 0 .6 .1 .6 .2 .6-.2 .6-.1 .6-.6 .6 0 .6-.1 .6 0 .6 .1 .6-.2 .6 .5 .6 0 .6-.6 .6 .1 .6 0 .6 .4 .6 .6 .6 .3 .6-.2 .6 .1 .6-.1 .6 0 .6 0 .6-.2 .6 .1 .6-.1 .6-.2 .6 .1 .6-.1 .6 .1 .6 0 .6-.4 .6 0 .6-.4 .6-.2 .6-.4 .6-.7 .6 .7 .6-.5 .6-.3 .6-.3 .6-.1 .6 .5 .6-.2 .6 1.3 .6-.7 .6-.2 .6 0 .6 .7 .6-.3 .6 .4 .6-.4 .6 .8 .6 .1 .6 .5 .6 .2 .6 .4 .6 .1 .6 .3 .6-.2 .6 .1 .6-.2 .6-.6 .6 0 .6 0 .6-.3 .6-.4 .6-.1 .6 .1 .6-.2 .6 .7 .6 .3 .6 .3 .6-.5 .6 .1 .6 .4 .6 .1 .6 .4 .6-.1 .6-.6 .6-.4 .6-.9 .6 .2 .6-.1 .6-.3 .6-.1 .6 .4 .6 .5 .6 .4 .6 .3 .6 .1 .6 .2 .6-.5 .6-.2 .6-.6 .6-.1 .6-.2 .6 .6 .6-.1 .6-.1 .6-.2 .6 .5 .6-1.2 .6 .3 .6 0 .6 .3 .6-.1 .6 .5 .6 .1 .6-.6 .6-.1 .6-.2 .6 1.1 .6-.8 .6-.5 .6 0 .6-1 .6 .4 .6-2.1 .6 1.5 .6 .7 .6-.9 .6-.1 .6 .4 .6 .6 .6 .5 .6 .1 .6 .7 .6-.1 .6 .3 .6-.2 .6 .1 .6 .4 .6-.6 .6 .9 .6 .3 .6 0 .6 0 .6-.3 .6-.2 .6 .3 .6 .1 .6-.3 .6 .2 .6-.2 .6 .1 .6 0 .6 0 .6 0 .6 .1 .6-.3 .6-.6 .6 .2 .6-.3 .6-.1 .6 0 .6 .5 .6 .1 .6 .2 .6-.2 .6-.5 .6 0 .6-.5 .6 .5 .6 .1 .6-.1 .6 .5 .6-.7"/>
<path d="M686.3 526.3l.6 0 .6 .1 .6 0 .6 .1 .6 .2 .6-.1 .6-.1 .6-.6 .6 0 .6-.4 .6 .3 .6 .9 .6-.2 .6 .1 .6 .2 .6-.7 .6 0 .6-.1 .6-.3 .6 .4 .6 0 .6 .2 .6 .1 .6-.3 .6 .3 .6 .2 .6 .2 .6-.3 .6-.2 .6-.5 .6 .1 .6 .1 .6 0 .6 .7 .6-.1 .6 .1 .6 0 .6-.4 .6 0 .6 .6 .6-.2 .6 .4 .6 0 .6-.6 .6 .3 .6-.2 .6-.4 .6-.1 .6 .3 .6 0 .6 .1 .6-.1 .6-.3 .6 0 .6 .2 .6 .5 .6 0 .6-.2 .6-.1 .6-.2 .6-.2 .6 .4 .6-.1 .6 0 .6 .1 .6 0 .6 .1 .6-.3 .6 .2 .6-.1 .6-.4 .6 .1 .6 .1 .6 .3 .6 .2 .6 .1 .6-.5 .6-.2 .6-.3 .6-.4 .6 .3 .6 0 .6 .4 .6 .4 .6 .2 .6-.1 .6 .2 .6-.2 .6-.6 .6 .4 .6-.1 .6 0 .6 0 .6-.3 .6 .2 .6 .4 .6 .3 .6 0 .6-.1 .6-.5 .6 0 .6-.3 .6-.1 .6 0 .6 .2 .6 .1 .6 0 .6 .1 .6-.2 .6 0 .6 .2 .6-.1 .6 .3 .6-.2 .6-.2 .6-.1 .6-.4 .6 .2 .6 .1 .6 0 .6 .1 .6-.2 .6 .2 .6 .2 .6 .2 .6 .6 .6-.4 .6 .5 .6-.3 .6-.7 .6 .3 .6-.4 .6 .3 .6 .1 .6-.7 .6 0 .6-.5 .6 .2 .6 .6 .6 .4 .6 .1 .6 .3 .6-.1 .6-.6 .6-.1 .6 .2 .6 .4 .6 .4 .6 .1 .6-.3 .6-.2 .6-.5 .6 0 .6 .4 .6-.4 .6 .3 .6 0 .6-.5 .6 .5 .6-.2 .6 .2 .6 .1 .6 0 .6 0 .6 .1 .6 0 .6-.3 .6 0 .6-.7 .6 .2 .6 0 .6 .4 .6 .9 .6-.6 .6 .2 .6-.3 .6-.5 .6 .4 .6-.3 .6 .4 .6-.1 .6 .2 .6 .3 .6-.2 .6 .1 .6 .2 .6-.1 .6-.5 .6 .2 .6-.6 .6 .3 .6 .7 .6 .1 .6 .1 .6-.1 .6 0 .6 0 .6-.4 .6 .3 .6-.4 .6-.3 .6 .5 .6-.4 .6 .1 .6 .2 .6 .1 .6-.2 .6 .1 .6-.2 .6 0 .6 .4 .6 .2 .6 0 .6-.2 .6 .5 .6-.1 .6 .1 .6-.5 .6-.8 .6-.4 .6-.1 .6 .3 .6 0 .6 .4 .6-.3 .6 .1 .6 .1 .6-.3 .6 .2 .6-.2 .6 .2 .6 .4 .6-.2 .6 .2 .6-.3 .6 0 .6 .5 .6 .2 .6 .2 .6 0 .6-.6 .6-.1 .6-.1 .6-.1 .6 .2 .6-.4 .6-.2 .6-.1 .6-.4 .6 .3 .6 .2 .6 .4 .6 .9 .6 .1 .6 0 .6-.3 .6-.2 .6 .1 .6-.3 .6 .2 .6-.3 .6-.2 .6 .2 .6-.1 .6-.1 .6 0 .6-.2 .6 .1 .6 .4 .6-.1 .6 .3 .6-.3 .6-.1 .6 .2 .6 0 .6 .1 .6-.1 .6-.3 .6 .2 .6 .1 .6 .4 .6 .3 .6-.2 .6 .1 .6-.4 .6-.1 .6 .3 .6-.4 .6 .2 .6 .3 .6-.3 .6 .1 .6 .2 .6-.2 .6-.1 .6 .2 .6-.4 .6 0 .6 .3 .6-.6 .6 0 .6 .3 .6 .1 .6 .3 .6 0 .6-.1 .6-.4 .6 .3 .6 .1 .6-.5 .6 .2 .6-.1 .6-.2 .6 .3 .6-.6 .6 0 .6 .2 .6 .4 .6 .4 .6 0 .6-.3 .6 0 .6 .4 .6 .1 .6-.5 .6-.2 .6-.1 .6-.3 .6 .4 .6-.4 .6-.2 .6 .7 .6 .4 .6-.1 .6-.3 .6-.3 .6-.3 .6 0 .6 .3 .6-.3 .6 .2 .6 .4 .6 0 .6 0 .6-.3 .6-.1 .6-.2 .6 .4 .6 .4 .6 .1 .6 .3 .6 .1 .6-.5 .6-.1 .6 .2 .6-.3 .6 .1 .6 .1 .6-.3 .6-.3 .6 .1 .6 .2 .6-.2 .6 .2 .6 .2 .6-.3 .6-.2 .6 0 .6 0 .6 .1 .6-.3 .6-.1 .6-.1 .6 .4 .6 .5 .6 .7 .6-.3 .6-.5 .6 .1 .6-.4 .6 .2 .6 .2 .6 0 .6-.1 .6 .2 .6-.1 .6 .1 .6-.2 .6-.2 .6 .5 .6-.2 .6 .4 .6 .3 .6-.6 .6 .2 .6-.4 .6-.2 .6-.2 .6 0 .6 .6 .6 .2 .6-.1 .6 0 .6-.4 .6-.6 .6 .5 .6-.3 .6 .1 .6 .7 .6 .1 .6 .1 .6-.1 .6-.5 .6-.3 .6 .4 .6 .2 .6 .4 .6-.1 .6-.1 .6 .2 .6-.3 .6-.2 .6-.1 .6-.2 .6-.1 .6 .2 .6 .1 .6 0 .6-.2 .6 .3 .6-.2 .6-.1 .6 0 .6-.3 .6 0 .6 0 .6 .4 .6 .1 .6 .2 .6-.1 .6-.3 .6 0 .6 0 .6 .4 .6 .1 .6 0 .6 0 .6 0 .6 .2 .6-.4 .6 0 .6-.1 .6-.2 .6 .2 .6-.1 .6 .3 .6 .2 .6 0 .6-.4 .6 0 .6-.3 .6-.2 .6 .5 .6-.7 .6 .3 .6 .2 .6 .2 .6 .4 .6-.3 .6 .1 .6-.5 .6-.2 .6 .2 .6 0 .6 0 .6 0 .6 .3 .6-.3 .6 .3 .6 .6 .6-.5 .6 .4 .6-.1 .6-.7 .6 .4 .6-.1 .6 0 .6 .1 .6 0 .6 0 .6-.1 .6 0 .6-.3 .6-.2 .6 0 .6 .4 .6 0 .6 .4 .6 .4 .6-.1 .6 .1 .6-.3 .6-.2 .6 .2 .6 .1 .6 0 .6 .1 .6-.5 .6-.2 .6-.1 .6-.4 .6-.1 .6 .1 .6 .4 .6 .2 .6 .3 .6-.1 .6-.4 .6 .1 .6-.3 .6 .2 .6 .3 .6 0 .6 .3 .6-.4 .6 .2 .6-.1 .6-.1 .6-.1 .6-.5 .6 0 .6 .1 .6 .3 .6 0 .6-.1 .6 .2 .6-.3 .6 .5 .6-.1 .6-.2 .6 0 .6-.3 .6 .6 .6-.1 .6-.2 .6 0 .6-.2 .6 .2 .6 .2 .6-.2 .6-.2 .6-.2 .6 .1 .6 .4 .6 .2 .6 .1 .6-.3 .6 0 .6 .1 .6 .3 .6-.2 .6 .1 .6-.3 .6-.5 .6 .4 .6-.6 .6 .5 .6-.2 .6 .2 .6 .4 .6 0 .6 .6 .6 0 .6-.3 .6-.4 .6-.2 .6-.6 .6 .3 .6 .1 .6 .2 .6 .7 .6 0 .6 .2 .6-.3 .6-.6 .6-.1 .6-.5 .6 .1 .6 .4 .6-.4 .6 .4 .6 .2 .6 .3 .6 .1 .6-.3 .6-.2 .6-.5 .6-.1 .6 .3 .6 .2 .6 .3 .6 .2 .6 .2 .6-.1 .6-.2 .6-.2 .6-.3 .6 .1 .6 0 .6 .1 .6-.5 .6-.4 .6 .1 .6-.2 .6 .7 .6-.1 .6 .5 .6 .2 .6-.2 .6 0 .6 .1 .6 0 .6 .4 .6 .7 .6-.3 .6 .1 .6-.1 .6-.5 .6-.3 .6 .1 .6-.4 .6-.3 .6 .2 .6 .1 .6-.1 .6 .2 .6-.1 .6-.1 .6 .4 .6 .4 .6 .4 .6-.1 .6 .2 .6-.1 .6-.2 .6 .1 .6 .1 .6-.1 .6-.4 .6-.6 .6-.6 .6 .1 .6 .5 .6 .5 .6 .2 .6-.2 .6-.2 .6-.2 .6-.1 .6 0 .6-.1 .6-.3 .6 .3 .6 .1 .6 .3 .6 .1 .6-.2 .6 0 .6-.1 .6-.1 .6 .1 .6 0 .6-.2 .6 0 .6 .1 .6-.3 .6 .1 .6 0 .6-.2 .6 .1 .6 .4 .6-.1 .6-.1 .6 0 .6-.2 .6 0 .6 .1 .6-.2 .6 0 .6 0 .6 .3 .6 .1 .6-.1 .6-.3 .6-.3 .6 .1 .6 .3 .6 .3 .6 .5 .6 .4 .6-.4 .6 .5 .6-.5 .6-.4 .6 .2 .6 0 .6 .3 .6-.2 .6 0 .6-.1 .6-.1 .6 .2 .6-.2 .6 0 .6 .2 .6-.2 .6 .2 .6-.6 .6-.3 .6 .6 .6-.3 .6 .3 .6 .3 .6-.5 .6 0 .6 .1 .6 0 .6 0 .6-.2 .6 .4 .6 0 .6 .2 .6 .4 .6-.5 .6 .1 .6-.6 .6 .3 .6 .5 .6-.3 .6 .6 .6-.1 .6-.2 .6 .1 .6 0 .6-.1 .6 0 .6-.2 .6 .2 .6-.3 .6 0 .6 .2 .6-.4 .6 .2 .6 .1 .6-.6 .6 .2 .6 .1 .6 0 .6 .5 .6 0 .6-.1 .6-.3 .6 0 .6-.1 .6 .1 .6 .5 .6-.3 .6-.2 .6-.4 .6-.1 .6 0 .6 .4 .6 .4 .6-.2 .6 .2 .6-.4 .6-.6 .6 .4 .6-.4 .6 0 .6 .6 .6 0 .6 .8 .6 .2 .6-.2 .6-.3 .6-.9 .6-.3 .6 0 .6 .6 .6 .3 .6-.2 .6 .1 .6-.4 .6 .2 .6 .4 .6-.2 .6-.4 .6-.2 .6-.1 .6 .2 .6 .6 .6 0 .6-.1 .6-.5 .6-.2 .6-.2 .6 .1 .6 .3 .6-.1 .6 .2 .6 0 .6 0 .6 .2 .6-.2 .6-.1 .6 .5 .6-.4 .6 .7 .6 0 .6 0 .6 .6 .6-.4 .6 .2 .6 0 .6-.3 .6 .6 .6 .1 .6-.3 .6 .1 .6-.5 .6 .2 .6-.2 .6 .1 .6 .4 .6-.1 .6 .3 .6-.7 .6-.6 .6-.4 .6 .3 .6 .5 .6 0 .6 .1 .6 0 .6-.1 .6 .1 .6 0 .6-.2 .6 .3 .6 .2 .6-.4 .6 0 .6-.2 .6-.4 .6 .4 .6-.1 .6-.1 .6 .3 .6-.1 .6 .1 .6 0 .6-.1 .6 .1 .6-.1 .6 .2 .6 .1 .6 .1 .6 .2 .6-.4 .6 .2 .6-.4 .6-.2 .6-.3 .6-.4 .6 .4 .6 .1 .6 .8 .6 .1 .6 0 .6 0 .6-.6 .6 .1 .6 .2 .6-.2 .6-.2 .6-.5 .6-.4 .6 .3 .6 .5 .6-.1 .6-.2 .6 0 .6-.1 .6 .4 .6 .2 .6 .1 .6-.3 .6-.2 .6 .4 .6 .1 .6 0 .6 .3 .6-.4 .6 .1 .6 .2 .6 .2 .6 .2 .6-.6 .6 .4 .6-.1 .6 .2 .6 .5 .6 0 .6 0 .6-.5 .6-.2 .6-.5 .6-.1 .6 .5 .6-.1 .6 .1 .6 0 .6-.1 .6 .2 .6 .3 .6-.2 .6 0 .6-.2 .6-.1 .6-.1"/>
<path d="M686.3 525.6l.6 .3 .6 .3 .6 .2 .6 .4 .6-.3 .6-.1 .6-.2 .6-.3 .6 .1 .6 0 .6 0 .6 .1 .6 .3 .6-.1 .6 .1 .6-.6 .6-.7 .6-.1 .6-.1 .6 .2 .6-.5 .6 .3 .6 .2 .6 .3 .6 .1 .6 0 .6 .2 .6-.2 .6 .2 .6 .4 .6 .3 .6-.3 .6-.4 .6 .2 .6 .2 .6-.1 .6-1.3 .6-.4 .6-1.6 .6 1.5 .6-.9 .6-.8 .6 .2 .6 .7 .6-.9 .6 .5 .6 1.7 .6-.8 .6 .9 .6-.5 .6 .5 .6-.7 .6 .6 .6 .3 .6-.9 .6 .9 .6-.3 .6 .4 .6 .4 .6-.1 .6 .6 .6 .3 .6 0 .6 .4 .6-.1 .6-.2 .6-.5 .6-.4 .6-.3 .6-.2 .6 .3 .6 .4 .6 0 .6 .5 .6 .1 .6-.4 .6 .1 .6-.9 .6 .1 .6-.1 .6 .3 .6-.4 .6 .2 .6-.1 .6 .2 .6 .4 .6 .5 .6 .3 .6 .3 .6-.2 .6-.2 .6 .2 .6 .1 .6 0 .6 .1 .6-.1 .6 .1 .6-.1 .6-.2 .6-.4 .6-.7 .6-.5 .6-.5 .6 .1 .6 .3 .6 .4 .6 0 .6-.6 .6 0 .6 0 .6 1.1 .6 .1 .6-.2 .6 .3 .6-.3 .6-.2 .6 0 .6 0 .6 .3 .6 .1 .6 .5 .6-.1 .6-.2 .6 .2 .6 0 .6 0 .6 .2 .6-.2 .6-.1 .6 .6 .6-.4 .6 .1 .6-.4 .6-.5 .6-.2 .6-.1 .6-.1 .6-.1 .6 .1 .6 .2 .6-.1 .6-.1 .6-.1 .6-.4 .6 .7 .6-.9 .6-.3 .6 .4 .6 .5 .6-.6 .6 .3 .6 0 .6 .9 .6-.1 .6 .2 .6 .1 .6 .6 .6-.2 .6 .4 .6 0 .6 .3 .6 0 .6-.2 .6 .2 .6-.4 .6-.1 .6 .3 .6-.2 .6-.3 .6 0 .6 0 .6-.2 .6 0 .6 0 .6-.3 .6 .3 .6 0 .6 0 .6-.4 .6 .2 .6 .2 .6 .3 .6 .6 .6-.6 .6 .1 .6 .1 .6-.4 .6 .6 .6-.3 .6-.5 .6 .1 .6-.4 .6 .1 .6 .2 .6 .4 .6 .3 .6-.1 .6-.1 .6 0 .6-.1 .6 .2 .6 0 .6 0 .6-.7 .6-.5 .6 0 .6 .2 .6 .4 .6-.1 .6-.5 .6 .3 .6-.2 .6 .2 .6 .2 .6 .3 .6 .3 .6-.2 .6-.4 .6-.8 .6 .6 .6-.9 .6 .9 .6-.9 .6-.5 .6 .4 .6 .4 .6-.5 .6 .3 .6 .8 .6 0 .6-.5 .6 0 .6 .5 .6 .1 .6 .2 .6-1.1 .6 .1 .6-.9 .6 .7 .6 .1 .6-1.1 .6-.1 .6 1.2 .6-.6 .6 .6 .6 0 .6-1.6 .6 .4 .6-.5 .6 1 .6 .2 .6 .8 .6 .9 .6-.1 .6 .2 .6-.2 .6 .1 .6 .4 .6-.1 .6 .1 .6-.1 .6 0 .6 0 .6 .1 .6 .2 .6-.7 .6-.1 .6 0 .6-.1 .6 .5 .6 0 .6-.2 .6 .1 .6 .2 .6 0 .6 .2 .6-.3 .6-.6 .6 .1 .6 0 .6-.3 .6 .1 .6-.2 .6-.3 .6 .3 .6 .3 .6-.6 .6 .1 .6-.2 .6-1.1 .6 .5 .6-.6 .6 .7 .6-.4 .6 .2 .6-1.1 .6 .7 .6-.9 .6-.2 .6 .7 .6-.1 .6 1 .6 1 .6 .3 .6 0 .6 .1 .6 .2 .6-.6 .6 .7 .6 .3 .6 0 .6 .2 .6-.3 .6 .3 .6-.1 .6 0 .6-.1 .6-.6 .6 .4 .6-.2 .6-.1 .6 0 .6-.4 .6-.3 .6 0 .6-.4 .6-.3 .6-.4 .6 .2 .6-.1 .6-.2 .6 .7 .6-.2 .6 .4 .6-.1 .6-.4 .6 .9 .6 .2 .6 .3 .6 .2 .6 .3 .6 .1 .6-.1 .6 .4 .6-.5 .6-.3 .6 .2 .6-.5 .6 .2 .6 .1 .6-.2 .6 .1 .6 0 .6 .5 .6-.3 .6 .1 .6 .1 .6-.7 .6-.1 .6-.5 .6 0 .6-.4 .6-.2 .6 .9 .6-.4 .6 .9 .6 .8 .6-.1 .6-.5 .6-.4 .6-.8 .6 .8 .6-.4 .6 .5 .6-.4 .6 .1 .6-.7 .6 .6 .6 .2 .6-.1 .6-.6 .6 1 .6-.2 .6 .2 .6-.2 .6-.5 .6 .4 .6-.5 .6-.3 .6 .1 .6-.4 .6-.2 .6-.7 .6 .1 .6 1.4 .6 0 .6 .1 .6 .4 .6 .7 .6-.1 .6-.1 .6 .5 .6-.6 .6 .5 .6-.1 .6 0 .6 .4 .6-.3 .6 0 .6-.2 .6-.2 .6 .4 .6 .1 .6 0 .6-.1 .6-.1 .6-.2 .6-.1 .6-.1 .6-.4 .6 .3 .6-.1 .6 .3 .6 .3 .6-.1 .6-.2 .6-.2 .6-.1 .6-.7 .6-.2 .6-.3 .6 .2 .6 .1 .6 0 .6 .8 .6-1.1 .6 .8 .6-.4 .6 .7 .6-.1 .6 .3 .6 .1 .6 .4 .6 0 .6 .2 .6 .1 .6 .1 .6-.2 .6-.2 .6 0 .6 .1 .6 .3 .6 0 .6-.2 .6-.5 .6 .2 .6-.3 .6-.2 .6 .7 .6-.1 .6 .6 .6 .1 .6-.6 .6-.1 .6-.7 .6-.2 .6 .5 .6 0 .6 .6 .6 .5 .6-.7 .6 .2 .6-.3 .6-.2 .6-.2 .6 .2 .6 0 .6 .2 .6-.2 .6 0 .6-.4 .6 .1 .6-.3 .6 .5 .6-.1 .6-.1 .6 .1 .6 .3 .6-.1 .6 0 .6-.2 .6 .4 .6-.6 .6-.4 .6 .6 .6-.6 .6 1 .6 .2 .6 .2 .6 0 .6-.3 .6 .2 .6-.3 .6-.3 .6 .2 .6-.2 .6 .5 .6-.1 .6 .1 .6-1.2 .6-.6 .6-.8 .6 .8 .6-1.1 .6 .3 .6-.7 .6 .5 .6 .3 .6 1 .6 0 .6 0 .6 .2 .6 .2 .6 .2 .6 .7 .6 0 .6 .1 .6 .3 .6-.3 .6 0 .6 .3 .6-.3 .6-.2 .6-.1 .6-.4 .6 .2 .6-.1 .6 .5 .6 .5 .6-.3 .6-.2 .6-.6 .6-.3 .6-.1 .6 .3 .6 .7 .6-.1 .6-.2 .6 0 .6 0 .6 .2 .6 0 .6-.5 .6-.1 .6-.2 .6-1.1 .6-.3 .6 .3 .6-1.5 .6 .1 .6 1.3 .6 .8 .6 .1 .6-.2 .6 .6 .6-1.4 .6 1.1 .6-1.9 .6 .6 .6-.5 .6 0 .6 .4 .6 0 .6 1.1 .6-.5 .6 .2 .6 .4 .6 .6 .6 .4 .6-.1 .6 .3 .6 .5 .6 .1 .6 .3 .6-.4 .6-.2 .6-.2 .6-.4 .6 .2 .6 .6 .6-.4 .6 .5 .6 0 .6-.3 .6 .2 .6-.1 .6-.2 .6 .2 .6-.1 .6-.2 .6-.3 .6-.2 .6 0 .6-.1 .6 .1 .6 .7 .6-.4 .6-.5 .6 .1 .6 .5 .6 .8 .6-.1 .6 .2 .6-.1 .6-.1 .6 .2 .6-.5 .6 .1 .6 .3 .6-.2 .6 .1 .6-.4 .6-.3 .6 .7 .6-.5 .6 .5 .6-.1 .6-.7 .6 0 .6-.5 .6 .1 .6 .1 .6 .5 .6 .3 .6 .1 .6-.7 .6-1 .6-.4 .6-.6 .6 1.4 .6 .6 .6-.4 .6 .9 .6-.3 .6-.2 .6-.1 .6 .1 .6 .4 .6-.7 .6 .4 .6 .1 .6-.1 .6 .8 .6-.9 .6 .1 .6-.9 .6-1 .6 .7 .6 .2 .6-1.6 .6 .7 .6-.2 .6-.1 .6 .6 .6 1 .6-.1 .6-.3 .6 .6 .6 0 .6-.2 .6 .2 .6-.7 .6-.3 .6 .5 .6-.9 .6-.3 .6 .8 .6-.8 .6 .6 .6-.4 .6-1.5 .6 1.9 .6-.1 .6-.6 .6 .2 .6-1.2 .6 .5 .6-.7 .6 1 .6 1.2 .6-.3 .6 .4 .6 .2 .6 .7 .6 .6 .6 .4 .6-.2 .6 .2 .6 .2 .6-.7 .6-.5 .6 .2 .6-.1 .6-.6 .6 .7 .6-.2 .6 .3 .6-.4 .6-.5 .6 0 .6-.4 .6-.2 .6-.1 .6-.3 .6 .4 .6 0 .6 .1 .6 .9 .6 .1 .6-.5 .6 0 .6 0 .6-.3 .6 1.1 .6-.6 .6 .5 .6 0 .6 .4 .6-.1 .6 .4 .6-.3 .6-.2 .6 .4 .6 0 .6 .3 .6 0 .6 0 .6-.3 .6 .2 .6 .2 .6-.2 .6 .1 .6-.4 .6-1 .6 0 .6-.3 .6 .4 .6-.7 .6 .9 .6 0 .6 .3 .6 .1 .6 .2 .6-.9 .6 .3 .6 0 .6-1 .6-.1 .6 .5 .6-.3 .6 .3 .6 .3 .6-.3 .6 .5 .6-.1 .6-.1 .6 .4 .6 .3 .6 .4 .6 .4 .6-.1 .6 .4 .6-.7 .6 .2 .6-.3 .6-.2 .6 .1 .6 .1 .6 .1 .6-.2 .6-.1 .6 .2 .6 .2 .6 .3 .6 .1 .6-.5 .6-.2 .6 0 .6-.3 .6 .5 .6 0 .6-.3 .6 .2 .6-.2 .6-.9 .6-.2 .6 .3 .6-.1 .6-.1 .6 0 .6-.4 .6-.2 .6-.6 .6-.1 .6 1 .6-.4 .6 1.3 .6-.7 .6-.6 .6 .4 .6 .8 .6 .4 .6-1 .6 .1 .6-.7 .6-.3 .6-.1 .6 .6 .6 .8 .6 .6 .6 .1 .6-.2 .6 .2 .6-.3 .6 .2 .6 .2 .6-.6 .6-.3 .6 .1 .6 .2 .6 .7 .6 .4 .6-.7 .6-.1 .6-.3 .6 .2 .6 .5 .6 1 .6 .5 .6 0 .6-.3 .6-.8 .6-1 .6-1 .6 .1 .6 .1 .6-.8 .6 .3 .6 .1 .6-.1 .6 .5 .6 .3 .6 .5 .6 .5 .6 .2 .6-.4 .6-.1 .6-.3 .6 0 .6-.4 .6 .3 .6 0 .6 0 .6-.1 .6-.3 .6 .3 .6-.5 .6 0 .6 .5 .6-.2 .6 .6 .6 .2 .6-1.3 .6 0 .6 .7 .6-1.1 .6 1.5 .6-1.4 .6 .7 .6-1 .6-.2 .6 .2 .6-1.2 .6 1.6 .6-.1 .6-.6 .6 1.3 .6-.1 .6-.3 .6 .8 .6 .1 .6-.6 .6 1 .6 0 .6 .3 .6-.2 .6-.2 .6 .1 .6 0 .6 0 .6-.1 .6 .2 .6 .1 .6-.1 .6-.2 .6-.2 .6 0 .6 0 .6-.3 .6 .1 .6-.1 .6 .4 .6 .4 .6 .1 .6 .1 .6-.6 .6-.1 .6 .2 .6-.4 .6-1 .6 .3 .6 .1 .6 0 .6 .4 .6 .1 .6 .1 .6-.2 .6-.6 .6 1 .6-.7 .6 0"/>
</g>
<g fill="#1b74c6" fill-opacity="0.13" stroke="#1b74c6" stroke-opacity="0.16" stroke-width="1.0" stroke-linejoin="round">
<path d="M692.5 526.3l.5-.4 .5 0 .5 0 .5-.1 .5-.1 .5 0 .5-.1 .5-.1 .5-.2 .5-.1 .5-.3 .5-.6 .5-1.1 .5-1.4 .5-1.6 .5-1.9 .5-2.5 .5-38.7 .1-11.8 .4-36.7 .5-52.7 0 2.4 .5 54.6 .3 32.4 .2 15.4 .5 35.3 .5-31.1 .3-35.2 .2-21.8 .5-66.2 .2-24.3 .3 46.2 .5 63.7 0 2.4 .5 50.6 .5 18.1 .5 1.9 .5-8.1 .5-36.7 .1-4.2 .4-40.6 .4-40 .1 10.2 .5 48.4 .3 22 .2 20 .5 28 .5 1.9 .5 1.4 .5 1.2 .5 1 .5 .7 .5 .1 .5 .1 .5 .1 .5 .1 .5 0 .5 0 .5 0 .5-.1 .5 0 .5-.1 .5-.1 .5-.1 .5-.1 .5-.2 .5-.2 .5-.2 .5-.3 .5-.6 .5-1.3 .5-1.6 .5-2 .5-3.7 .5-25.3 0-1 .5-29.6 .4-25 .1 9.1 .5 32.6 .2 12.9 .3 15.2 .5 13.7 .5 2.2 .5 1.8 .5 1.4 .5 .5 .5-.8 .5-1.4 .5-1.8 .5-2.3 .5-22 .1-5.7 .4-23.6 .5-29.9 0 3.1 .5 32.5 .3 17.9 .2 10.5 .5 17.6 .5 2.2 .5 1.7 .5 1.4 .5 .7 .5-.5 .5-1.3 .5-1.8 .5-16.4 .1-3.7 .4-17.3 .4-21 .1 2.8 .5 23.2 .3 12.3 .2 7.9 .5 12.6 .5 1.7 .5 1.3 .5 .6 .5 .4 .5 .3 .5 .1 .5-.2 .5-.3 .5-.4 .5-.7 .5-1.5 .5-1.8 .5-5.3 .3-10.1 .2-5.8 .5-18.5 .2-7.2 .3 12.7 .5 17.9 0 .9 0 .2 .5-13.2 .4-13.8 .1 4.2 .5 17.2 .2 7.3 .3 7.5 .5 7.2 .5 1 .5 .8 .5 .6 .5 .5 .5 .3 .5 .3 .5-.2 .5-.3 .5-1 .5-1.4 .5-1.7 .5-2.2 .5-6.1 .3-14.1 .2-6.7 .5-24.4 .2-10.6 .3 15.7 .5 23.8 0 2.2 .5 17.8 .5 2.9 .5 2 .5 1.7 .5 1.4 .5 .8 .5 .3 .5 .2 .5-.2 .5-.2 .5-.3 .5-.4 .5-.6 .5-.7 .5-.9 .5-1.1 .5-1.4 .5-12.3 .2-8.3 .3-13.1 .5-24.6 .1-2.7 .4 22.2 .4 18.2 .1 4 .5 16.2 .5 1.5 .5-11.9 .2-5.5 .3-12.9 .5-21 0-.4 .5 20.7 .4 13.6 .1 4.9 .5 12.7 .5 1.6 .5 .8 .5 .7 .5 .5 .5 .4 .5-.1 .5-.2 .5-.4 .5-.3 .5-.5 .5-.6 .5-.8 .5-1 .5-1.2 .5-1.7 .5-2.2 .5-2.7 .5-9.5 .5-39.8 0-4.2 .5-52.4 .3-35.3 .2 22.5 .5 54 .2 15.4 .3 30.8 .5 17.8 .5 2.8 .5 2.3 .5 1.8 .5 1.4 .5 1 .5 .8 .5 .7 .5 .1 .5-.8 .5-1.4 .5-1.8 .5-4.6 .5-32.9 .1-5 .4-35.3 .4-37.6 .1 7.8 .5 43.9 .3 21.2 .2 17 .5 24.1 .5-1.3 .5-2.1 .5-2.6 .5-3 .5-16 .4-41.4 .1-12.8 .5-63.8 .2-33.3 .3 36 .5 63.4 .1 10.5 .4 43.3 .5 14.2 .5 3 .5 2.5 .5 2.1 .5 1.7 .5 1.3 .5 1.1 .5 .9 .5 .7 .5 .5 .5 .5 .5 .2 .5-.6 .5-.6 .5-.9 .5-1.1 .5-1.4 .5-1.7 .5-2.2 .5-2.5 .5-23.9 .1-9.3 .4-28.3 .5-41 0 1.7 .5 42.3 .3 25.3 .2 11.8 .5 21.6 .5 2.5 .5 2.1 .5 1.8 .5 1.2 .5-10.2 .2-5 .3-11.9 .5-19.3 0-.3 .5 19.1 .4 12.4 .1 4.6 .5 10.5 .5 .6 .5-2.5 .5-3.4 .2-2 .3-5.8 .5-13.5 .1 0 .4 10.5 .4 8.8 .1 .8 .5 3.8 .5 2.7 .5 2 .5 1.7 .5 .7 .5 .2 .5-1.4 .5-1.6 .5-2.1 .5-2.8 .4-5.6 .1-2.7 .5-13.1 .2-6.6 .3 7.5 .5 12.9 .1 2 .4 5.8 .5 2.7 .5 2.1 .5 1.6 .5 1.4 .5 .8 .5 .1 .5 .1 .5-.1 .5-.1 .5-.2 .5-1.2 .5-1.5 .5-1.9 .5-2.3 .5-3.3 .2-1.8 .3-5.7 .5-12.5 0 0 .5 10.4 .4 7.8 .1-.2 .2-3.9 .3-9.7 .5-15.6 0 0 .5 15.4 .4 9.9 .1 3.7 .5 6.7 .5 2 .5 1.5 .5-1 .5-1.8 .3-1.2 .2-2.1 .5-7.4 .1 0 .4 4.8 .5 4.7 0 .2 .5 2.1 .5 1.4 .5 1.1 .5 1 .5 .7 .5 .3 .5 .1 .5 0 .5 .1 .5 0 .5-.1 .5 0 .5-.1 .5 0 .5-.1 .5-.1 .5-.2 .5-.1 .5-.3 .5-.8 .5-1.4 .5-1.7 .5-2.1 .5-3 .2-1.4 .3-3.7 .5-8 0 0 .5 7.4 .4 4.3 .1 1.1 .5 3.1 .5 2.2 .5 1.7 .5 .6 .5-1.4 .5-1.9 .5-3.5 .1-2.3 .4-7.3 .5-10.4 0 0 .5 11.4 .3 6.3 .2 3.2 .5 2.9 .5 1.7 .5-1.8 .5-2.5 .4-2.9 .1-.8 .5-7.9 .3-.6 .2 0 .5 8.2 .1 1.1 .4 2.8 .5 2.5 .5 1.9 .5 1.5 .5 1.2 .5 1 .5 .1 .5 .1 .5 .1 .5 0 .5-1.2 .5-.1 .5-.2 .5-1.2 .5 .1 .5-.3 .5 0 .5 1.1 .5-4.5 .5 4.5 .5-.5 .5 .8 .5 .4 .5-.5 .5-1.2 .5 1.6 .5 1 .5 0 .5 .5"/>
<path d="M886.5 526.3l.5-1.7 .5-2.3 .5-.8 .5-10.6 .5 6.2 .5-3.6 .5 2.4 .5-2.8 .5-6.9 .5-12.4 .5 3.4 .5-4.1 .5 10.2 .5-8 .5 4.8 .5-13.4 .5 19.8 .5-9.4 .5 10.7 .5-.2 .5 0 .5 5.4 .5 .7 .5 2.4 .5 6.2 .5 0 .5 2.8 .5 1.2"/>
<path d="M902.0 526.3l.5-.4 .5-.4 .5-.5 .5-.5 .5-.2 .5-.6 .5 .6 .5-.7 .5-.1 .5 .9 .5-1.3 .5 2.2 .5 .5 .5 .5"/>
<path d="M910.5 526.3l.5-8.9 .5-6 .5-9.8 .5 5.1 .5 .8 .5 1.3 .5 8.4 .5 1.3 .5 1 .5-1.6 .5-9 .5-2.6 .5-6.1 .5 2.5 .5-4.7 .5 6.6 .5-6.9 .5-8.6 .5 15.8 .5-14.9 .5 8.9 .5 8.1 .5-.5 .5-4 .5 .3 .5 5.5 .5 9.2 .5 3.6 .5 1.7 .5 1.7 .5 1.7 .5-.3 .5-.8 .5-.7 .5 .6 .5-.1 .5-1.7 .5-1.3 .5-1.6 .5 3.8 .5 .7 .5-.2 .5 0 .5 .1 .5 .7 .5-.3 .5-1.4 .1-.5 .4-1.9 .5-2.6 0 .1 .5 2.9 .3 1.5 .2 .9 .5 1.1 .5 .3 .5 .1 .5 .2 .5-.1 .5-.4 .5-.3 .5 .3 .5-.4 .5 .5 .5 0 .5-1.4 .5 .6 .5 .4 .5-1.2 .5 1.1 .5-2.3 .5 1.2 .5 .7 .5-.2 .5 .5 .5-1.4 .5 .5 .5 2.4"/>
<path d="M1102.5 526.3l.5-.4 .5 .1 .5-.4 .5 .1 .5-.1 .5-.7 .5-.1 .5 .4 .5-.2 .5 .3 .5-.2 .5 .1 .5-2.1 .5 1.2 .5-1 .5 .7 .5-.2 .5 .6 .5-.4 .5 .3 .5-.4 .5 1.2 .5-.7 .5 1.1 .5-.1 .5 .2 .5 0 .5 .3 .5 .4"/>
<path d="M1128.5 526.3l.5-.4 .5 0 .5-.1 .5-.1 .5-.2 .5-.2 .5-.3 .5-.4 .5-.7 .3-1.6 .2-1.3 .5-3.5 .1-1 .4 2.7 .5 3.1 0 .1 .5 2 .5 .1 .5 .6 .5 0 .5-1.4 .5 1.3 .5-1.1 .5-1.9 .5 1.8 .5 .6 .5-.7 .5 .5 .5-.4 .5 .8 .5-.4 .5-.6 .5-1.7 .5 .9 .5 .7 .5 0 .5-.6 .5-.3 .5 1.9 .5-.3 .5-.6 .5 .6 .5-.2 .5-1 .5-1.4 .5 2.3 .5-.6 .5 .2 .5-1 .5 1.2 .5-.7 .5 0 .5 .5 .5 .1 .5 .2 .5 .8 .5-.9 .5-.6 .5 .5 .5 .6 .5 .1 .5-1 .5 .7 .5 .1 .5-.2 .5 .5 .5-.2 .5-.3 .5 1.3 .5-1 .5 .4 .5 .9 .5-1.7 .5 1.1 .5 .7 .5 .2 .5-.6 .5-.5 .5 .9 .5 .3 .5-.1 .5 .5"/>
<path d="M696.5 526.3l.5-.4 .5 0 .5-.1 .5-.1 .5-.4 .5-.9 .5-.9 .5-1.1 .5-1.4 .5-1.6 .5-2.2 .5-3 0-.3 .5-7.1 .3-5.8 .2 3.1 .5 8.7 .2 1.4 .3 2.3 .5 2.2 .3-3.4 .2-4.2 .5-9.6 .1-2.2 .4 7.8 .5 8.2 0 .8 .5 3.7 .5 .2 .5-2.2 .5-3.1 .3-2.8 .2-1.9 .5-5 .2 0 .3 0 .5 6.5 0 .4 .5 3.8 .5 2.7 .5 2.2 .5 1.6 .5 1.5 .5 1.2 .5 .2 .5 .2 .5 .2 .5 .1 .5 .1 .5 .1 .5 0 .5 .1 .5 0 .5-.1 .5-.1 .5-.1 .5-.1 .5-.1 .5-.1 .5-.2 .5-.3 .5-.6 .5-1.2 .5-1.5 .5-1.9 .5-2.3 .5-7 .2-5 .3-11.5 .5-19.1 0-.1 .5 18.6 .4 12.1 .1 4.5 .5 7.4 .5 2.4 .5 1.8 .5 .6 .5-1 .5-1.4 .5-1.7 .5-7.8 .1-2 .4-12.8 .4-14 .1 2.6 .5 16.1 .3 8.1 .2 6 .5 4.4 .5 1.5 .5 1.3 .5 1 .5 .8 .5 .5 .5 .5 .5 .3 .5-.2 .5-1.1 .5-1.4 .5-2 .4-7.2 .1-2.9 .5-11.9 .2-5.5 .3 7.2 .5 11.6 .1 1.5 .4 7.6 .5 1.8 .5 1.4 .5 1 .5 .7 .5-.3 .5-.3 .5-.4 .5-.6 .5-.7 .5-1.5 .5-2.2 .5-3 .3-2.2 .2-3.3 .5-12.5 .1 0 .4 8.1 .3 6.4 .2-.4 0-.4 .5-9.7 .2 0 .3 3.1 .5 8 0 .4 .5 3.5 .5 2.7 .5 2 .5 1.7 .5 1.3 .5 .4 .5 .1 .5-.2 .5-.2 .5-.3 .5-.4 .5-.8 .5-1.4 .5-1.8 .5-2.1 .5-6.7 .2-6.4 .3-10.2 .5-18.9 .1-2.2 .4 17.2 .4 14.1 .1 3.1 .5 9.4 .5 2.3 .5 1.8 .5 1.5 .5 1 .5 .4 .5 .3 .5 .2 .5-.2 .5-.3 .5-.4 .5-.4 .5-.7 .5-.8 .5-1 .5-1.3 .5-1.6 .4-6.5 .1-2.4 .5-12.4 .2-6.7 .3 6.9 .5 12.4 .1 2.2 .4 6.5 .5 .4 .3-3.8 .2-4.3 .5-10.1 .1-2.6 .4 8.1 .5 8.9 0 .5 .5 4.6 .5 1.8 .5 1 .5 .7 .5 .6 .5 .4 .5 .2 .5-.2 .5-.3 .5-.3 .5-.4 .5-.5 .5-.6 .5-.7 .5-1 .5-1.2 .5-1.6 .5-2.1 .5-2.7 .5-3.3 .5-12.5 .2-12.6 .3-19.7 .5-37 .1-4.3 .4 33.5 .4 27.5 .1 6 .5 18.3 .5 3.4 .5 2.9 .5 2.2 .5 1.7 .5 1.3 .5 1 .5 .8 .5 .3 .5-.8 .5-.9 .5-1.3 .5-1.7 .5-2.3 .5-3 .5-3.9 .5-4.5 .2-1.7 .3-10.1 .5-20.3 0-2 .5 18.8 .4 13.6 .1 .9 .5 1.3 .5-11.9 .3-25 .2-19 .5-50.9 .1-15.8 .4 37.9 .5 47.8 0 .5 .5 34.2 .5 3.8 .5 3.4 .5 2.9 .5 2.4 .5 1.9 .5 1.5 .5 1.2 .5 1 .5 .8 .5 .6 .5 .6 .5-.4 .5-.8 .5-.9 .5-1.2 .5-1.6 .5-1.9 .5-2.5 .5-2.9 .5-3.1 .3-5.8 .2-9.7 .5-21.9 .1-4.9 .4 17.8 .5 18.7 0 1.6 .5 5.9 .5 3.1 .5 2.7 .5 2.1 .5 1.8 .5 1.3 .5 1.1 .5 .2 .5-4.9 .1-1.9 .4-7.6 .5-9.8 0 1 .5 10.6 .3 5.8 .2 3.4 .5 3.7 .5 .3 .5-2 .5-2.7 .5-3.9 .1-.5 .4-6.6 .4-2.5 .1 0 .5 6 .3 3.1 .2 2.2 .5 3.3 .5 2.4 .5 1.9 .5 1.6 .5 .9 .5-1.4 .5-1.6 .5-2 .5-2.7 .5-3.7 .1-1.1 .4-5.4 .5-4.2 0 0 .5 5.5 .3 4.1 .2 1.8 .5 3.5 .5 2.5 .5 1.9 .5 1.6 .5 1.3 .5 .2 .5 .2 .5 .1 .5 0 .5-.2 .5-.9 .5-1.2 .5-1.4 .5-1.9 .5-2.6 .3-1.8 .2-2.4 .5-6.8 .1 0 .4 4 .5 5.2 0 .4 .3 .9 .2-2.4 .5-8.2 .2-3.3 .3 5.4 .5 7.9 0 .6 .5 3.9 .5 1.6 .5 .5 .5-1.5 .5-2 .3-1.7 .2-1.4 .5-1.4 .2 0 .3 0 .5 2.6 0 .2 .5 2.5 .5 1.7 .5 1.4 .5 1.1 .5 .9 .5 .4 .5 .1 .5 .1 .5 0 .5 .4"/>
<path d="M853.5 526.3l.5-.4 .5 0 .5-.1 .5-.1 .5-.2 .5-1.2 .5-1.5 .5-1.7 .5-2.3 .5-3 .3-2.7 .2-1.6 .5 0 .2 0 .3 0 .5 1.4 0 .2 .5 3.8 .5 2.8 .5 2 .5 .5 .5-1.8 .5-2.4 .5-3.5 0-.1 .5-6.4 .4 0 .1 0 .5 4.2 .2 2.2 .3 2.2 .5 2.8 .5 2.1 .5 1.6 .5-.3 .5-1.5 .5-2 .3-1.9 .2-1.3 .5-4.6 .2 0 .3 .3 .5 5.4 0 .2 .5 2.5 .5 1.9 .5 1.4 .5 1.1 .5 .9 .5 .4 .5 .1 .5 .1 .5 .1 .5-.4 .5-.5 .5-.4 .5-.5 .5 .4 .5-3.5 .5 .9 .5 1.5 .5-.7 .5 1.6 .5-2.2 .5-1.5 .5 3.7 .5 .7 .5 .3 .5-.5 .5 .2 .5 .9 .5 .4"/>
<path d="M886.5 526.3l.5-1.5 .5-1.2 .5-3.3 .5 .2 .5-2.9 .5-5.3 .5-1 .5-12.4 .5 7.1 .5-7.4 .5 13.8 .5-15.6 .5-12 .5 26.7 .5-12.3 .5-4.3 .5 15.6 .5-11.4 .5 1.1 .5 4.8 .5-9.6 .5 14 .5 2 .5 .7 .5 8.7 .5 1.2 .5 1.7 .5 2.6"/>
<path d="M902.0 526.3l.5-.7 .5-.5 .5-.6 .5 .3 .5-1.4 .5-.6 .5 1.3 .5-.7 .5 0 .5 .8 .5 1.1 .5-.1 .5 .4 .5 .7"/>
<path d="M910.5 526.3l.5-7.2 .5-9.8 .5-.4 .5-8 .5 5.9 .5 0 .5 3.5 .5 9 .5-2 .5-6.3 .5-3.4 .5 3.6 .5-7.5 .5 3.5 .5 2.5 .5-20.6 .5 20 .5-1.5 .5-6.7 .5 4.4 .5-8.4 .5 4.3 .5 6.9 .5-3.5 .5 3.6 .5-6.3 .5 9.2 .5 3.8 .5 7.7 .5 2.2 .5 1.4 .5-.1 .5-.6 .5 0 .5-1.8 .5 1.3 .5-1.2 .5 0 .5 .9 .5-1.6 .5-1.2 .5 2.2 .5 0 .5 .9 .5-.9 .5-1.2 0-.1 .5-2.4 .4 0 .1 0 .5 1.7 .2 .7 .3 .9 .5 1 .5 .7 .5 .2 .5 .1 .5 0 .5-.8 .5 .6 .5 .1 .5-.7 .5-.6 .5 .6 .5 .5 .5-1 .5 .9 .5-.4 .5-.3 .5-.5 .5-.5 .5 .8 .5-.2 .5-1.6 .5 .6 .5 1.5 .5-1 .5 2.6"/>
<path d="M1103.0 526.3l.5-.4 .5-.5 .5 .2 .5-.4 .5-.2 .5 0 .5 0 .5 .1 .5-1.6 .5 .8 .5 0 .5 .5 .5-.6 .5 .5 .5-1.3 .5 .5 .5-.1 .5-.4 .5 .4 .5 1.2 .5-.6 .5 .8 .5-.2 .5 .2 .5 .3 .5 .1 .5 .3 .5 .4"/>
<path d="M1127.5 526.3l.5-.4 .5-.1 .5-.1 .5-.1 .5-.1 .5-.2 .5-.3 .5-.3 .5-.5 .5-.9 .4-1.4 .1-.3 .5-2.9 .3 0 .2 0 .5 2.6 .1 .6 .4 1.3 .5 .9 .5 0 .5 .6 .5-.5 .5 .7 .5-2.3 .5 1.3 .5 0 .5 .9 .5-.3 .5 .3 .5-1.5 .5-1.7 .5 3.1 .5-4.1 .5 3.2 .5 .8 .5-.1 .5-.3 .5 .4 .5-.4 .5 .3 .5-.2 .5 .1 .5-1 .5-.5 .5-3.1 .5 3.3 .5 .6 .5-1.1 .5 1.7 .5 .3 .5-4.1 .5 2.9 .5-.3 .5 1 .5-1.1 .5 .1 .5 .5 .5-.6 .5-1.7 .5 1.3 .5-.1 .5 .5 .5-1.2 .5-.6 .5 3.5 .5 .2 .5-2.2 .5 1.8 .5-1.9 .5 2.1 .5 .5 .5-1 .5 .4 .5 .3 .5 0 .5 .6 .5-.2 .5-.1 .5 .4 .5-.7 .5 1 .5 0 .5 0 .5 .4"/>
<path d="M695.0 526.3l.5-.4 .5 0 .5-.1 .5-.1 .5 0 .5-.2 .5-.1 .5-.4 .5-1 .5-1.1 .5-1.2 .5-1.6 .5-1.9 .5-2.6 .3-2.5 .2-1.6 .5-9.1 .2 0 .3 3.4 .5 7 0 .3 .5 3.3 .5 2 .4-2.8 .1-2.5 .5-9.2 .2-4.1 .3 5.9 .5 9 .1 .9 .4 3.2 .5 1.8 .5-1.1 .5-2.5 .3-1.9 .2-2.5 .5-9.9 .1-1.6 .4 6.8 .5 7.2 0 .1 .5 3.1 .5 2.1 .5 1.6 .5 1.3 .5 1 .5 1 .5 .2 .5 .1 .5 .1 .5 .1 .5-.1 .5 0 .5-.1 .5-.1 .5-.1 .5-.1 .5-.1 .5-.2 .5-.2 .5-.3 .5-.3 .5-.4 .5-.5 .5-.7 .5-1 .5-1.2 .5-1.7 .5-5 .3-8.7 .2-7.4 .5-18.6 .1-5.3 .4 14.3 .5 17 0 .5 .5 11.8 .5 2.4 .5 1.3 .5 1.1 .5 .8 .5 .2 .5-1.3 .5-1.7 .5-2.2 .5-6.7 .1-3 .4-11.5 .5-15.1 0 1.4 .5 16.1 .3 9.1 .2 5.1 .5 5 .5 2.1 .5 1.7 .5 1.1 .5 .2 .5-1.5 .5-2 .5-2.7 .5-3.8 0-.3 .5-9.4 .4-8.7 .1 1.7 .5 12.3 .2 4.1 .3 2.4 .5 3.1 .5 2.3 .5 1.8 .5 1 .5 .5 .5 .4 .5 .3 .5 .2 .5 .1 .5-.3 .5-.3 .5-.3 .5-.6 .5-1.5 .5-1.7 .5-2.4 .4-3.8 .1-1.9 .5-10.2 .3-5.5 .2 5.5 .5 10.2 .1 1.7 0 .2 .4-4.9 .4-8.1 .1 0 .5 10.2 .3 3.9 .2 1.5 .5 2.8 .5 1.9 .5 1.6 .5 .7 .5 .5 .5 .3 .5 .3 .5 .2 .5-1 .5-1.2 .5-1.5 .5-1.9 .5-2.3 .5-3.4 .1-2.6 .4-9.2 .5-12.8 0 0 .5 14.2 .3 7.8 .2 3.1 .5 3.2 .5 2.3 .5 1.7 .5 1.5 .5 1.2 .5 .9 .5-.2 .5-.3 .5-.3 .5-.4 .5-.6 .5-1.3 .5-1.6 .5-2.1 .5-2.9 .3-3.2 .2-4 .5-12.2 .2-4.4 .3 8.4 .5 11.7 0 .5 .5 4.2 .5 2.6 .5 1.9 .5-1.2 .5-3.1 .1-1.9 .4-7.3 .5-9.5 0 0 .5 11.1 .3 5.7 .2 2.9 .5 2.5 .5 1.8 .5 1.4 .5 .8 .5 .4 .5 .3 .5 .1 .5-.2 .5-.2 .5-.2 .5-.4 .5-.4 .5-.5 .5-.6 .5-.9 .5-1.1 .5-1.4 .5-1.9 .5-2.2 .5-30.8 .1-7.4 .4-32.3 .4-40.2 .1 4.7 .5 44 .3 23.8 .2 14.6 .5 24.1 .5 2.1 .5 1.8 .5 1.4 .5 1 .5 .8 .5 .4 .5-.7 .5-.9 .5-1.1 .5-1.5 .5-2.1 .5-2.7 .5-3.4 .5-5.6 .1-1.8 .4-16.9 .4-16.8 .1 4.2 .5 20.3 .3 9.2 .2 5.1 .5 3.7 .5 .9 .5-2.7 .5-21 .2-16.7 .3-24.9 .5-47.7 .1-6.1 .4 42.7 .4 36 .1 7.3 .5 29.8 .5 2.7 .5 2.4 .5 2 .5 1.7 .5 1.3 .5 1 .5 .9 .5 .6 .5 .6 .5 .4 .5 .4 .5 0 .5-.4 .5-.5 .5-.6 .5-.9 .5-1 .5-1.3 .5-1.7 .5-2.1 .5-2.5 .5-2.7 .3-8.8 .2-7.2 .5-21.8 .2-8.1 .3 15.3 .5 21 0 .8 .5 9.6 .5 2.7 .5 2.4 .5 2 .5 1.6 .5 1 .5-2.4 .3-4.2 .2-4 .5-10.8 .2-3.6 .3 8 .5 10.3 0 .1 .5 5.2 .5 2.1 .5-.3 .5-3.3 0-.2 .5-7.2 .4-5.9 .1 2.4 .5 7.8 .2 2.9 .3 2.6 .5 1.9 .5 1.3 .5 1.1 .5 .4 .5-.4 .5-.5 .5-1.1 .5-1.8 .5-2.3 .5-3.2 .2-1.4 .3-4.7 .5-10.4 0 0 .5 9.7 .4 5.4 .1 1.1 .5 3.3 .5 2.4 .5 1.8 .5 1.2 .5 .5 .5 .4 .5 .3 .5 .2 .5 .2 .5 0 .5-.1 .5-.7 .5-1.2 .5-1.4 .5-1.9 .5-2.6 .2-1.3 .3-3.8 .5-9.1 0 0 .5 7.8 .2 3.8 .2-.2 .1-1.7 .5-9.1 .1-.8 .4 7 .4 6.8 .1 .7 .5 2.6 .5 1.8 .5 1.1 .5-1 .5-1.7 .4-1.9 .1-.7 .5-2.9 .2 0 .3 0 .5 3 .1 .6 .4 2 .5 1.7 .5 1.3 .5 1 .5 .9 .5 .3 .5 .2 .5 0 .5 .1 .5 .4"/>
<path d="M855.0 526.3l.5-.4 .5 0 .5-.9 .5-1.2 .5-1.5 .5-1.8 .5-2.3 .5-3.4 0-.1 .5-2.7 .3 0 .2 0 .5 .9 .2 1.9 .3 2.3 .5 2.6 .5 2 .5 1.6 .5 .6 .5-1.2 .5-1.6 .5-2.1 .3-1.8 .2-1.7 .5-8.4 .2-1 .3 5.2 .5 5.9 0 0 .5 2.7 .5 1.9 .5-1.8 .5-2.6 .1-.7 .4-3.8 .5-1.9 0 0 .5 2.8 .3 2.9 .2 1.2 .5 2.5 .5 1.7 .5 1.4 .5 1.1 .5 .9 .5 .3 .5 .1 .5 .4"/>
<path d="M875.5 526.3l.5-.5 .5-.6 .5-1.6 .5 1 .5-.4 .5-.6 .5-1.1 .5-.1 .5-.3 .5 .5 .5 1.3 .5-.6 .5 .8 .5 .1 .5 .3 .5-.3 .5 1.2 .5 .5 .5 .4"/>
<path d="M886.5 526.3l.5-2 .5-2.2 .5-2.3 .5-8.2 .5-5.7 .5 10.4 .5-10.3 .5 7.2 .5-7 .5-9.9 .5-5.3 .5-3.2 .5 13.5 .5-1.3 .5-8.9 .5 14 .5-3.2 .5 8.3 .5-10.6 .5 2.6 .5 14.5 .5-18.5 .5 8.8 .5 3.2 .5 9.9 .5 2.4 .5 2.6 .5 1.2"/>
<path d="M902.5 526.3l.5-1.2 .5 .1 .5-2.3 .5 1.4 .5-1.1 .5 .5 .5-1.2 .5 1.2 .5 1 .5 .6 .5-1 .5 1.6 .5 .4"/>
<path d="M910.5 526.3l.5-6.6 .5-8.9 .5-5.7 .5-2.9 .5 5 .5 5 .5-1.1 .5 8.2 .5-4.1 .5 1.5 .5-3.6 .5-11.4 .5 6.3 .5-.2 .5-4.2 .5-4.1 .5-2.4 .5 5.3 .5-9.8 .5 4.7 .5 .6 .5-15.9 .5 21.4 .5-4.7 .5 .2 .5 9.9 .5 3 .5 6.3 .5 1.6 .5 5.1 .5 1.4 .5-.5 .5-.1 .5-.5 .5-2 .5 1.9 .5-1 .5-.1 .5 .6 .5-.5 .5 0 .5-1.4 .5 1.8 .5 .6 .5-.5 .4-.7 .1-.3 .5-2.3 .2-.2 .3 .6 .5 2 .1 .2 .4 .8 .5 .7 .5 .2 .5 .2 .5 0 .5-.1 .5 .1 .5 0 .5-.1 .5-.4 .5-.3 .5 .6 .5-.3 .5-2 .5 2 .5-.7 .5-.7 .5 .2 .5 .3 .5-1.2 .5 1 .5-.4 .5 0 .5-.6 .5 1.1 .5 2.1"/>
<path d="M1103.0 526.3l.5-.5 .5 0 .5 0 .5-.4 .5-.3 .5-.6 .5-.3 .5 .3 .5-1.4 .5 1.1 .5 .4 .5-.2 .5-.6 .5 .1 .5 .5 .5 .6 .5-.9 .5-.6 .5 1.4 .5 0 .5 .4 .5 .1 .5-1 .5 .9 .5 .3 .5-.1 .5 .1 .5 .7"/>
<path d="M1128.5 526.3l.5-.4 .5-.1 .5-.1 .5-.1 .5-.2 .5-.2 .5-.3 .5-.9 .5-1.3 0-.1 .5-2.4 .4-.4 .1 0 .5 1.8 .2 1 .3 .8 .5 1.1 .5 .6 .5 .1 .5-.9 .5-.3 .5 .7 .5 .1 .5-.7 .5 .9 .5-2.8 .5 2.1 .5-.4 .5-.6 .5 .6 .5 .8 .5-.9 .5-.9 .5 1.5 .5-.4 .5-2 .5 .6 .5-.2 .5-.3 .5 1.1 .5 1.2 .5-4 .5 3.2 .5-.1 .5 0 .5 .1 .5-1.5 .5-.4 .5-1.7 .5 3.9 .5-3.1 .5 2.2 .5-1 .5-1 .5 2.5 .5 .2 .5 1 .5-1.5 .5 1.2 .5-2.5 .5 0 .5 1.7 .5 1.2 .5-.6 .5 .7 .5-.6 .5-.2 .5 .7 .5-.3 .5 .5 .5-.4 .5 .9 .5-.5 .5-.4 .5 .9 .5-.3 .5 .3 .5 .1 .5 0 .5 .3 .5-.2 .5 .6"/>
<path d="M696.0 526.3l.5-.4 .5 0 .5-.1 .5-.1 .5-.6 .5-1 .5-1.1 .5-1.3 .5-1.6 .5-1.9 .5-2.6 .4-3.3 .1-.6 .5-7.9 .3-1.1 .2 0 .5 8.2 .1 1.4 .4 2.8 .5 2.5 .4-2.6 .1-.8 .5-9 .3-5.2 .2 4.6 .5 9.1 .1 1.3 .4 2.4 .5 2.2 .5 1.3 .5-4.9 .2-4.8 .3-6.8 .5-13.4 .1-1.8 .4 11.8 .4 10.2 .1 1.9 .5 7.4 .5 1.5 .5 1.2 .5 .9 .5 .8 .5 .7 .5 .1 .5 .1 .5 .1 .5 0 .5 .4"/>
<path d="M717.0 526.3l.5-.4 .5 0 .5 0 .5-.1 .5-.1 .5-.1 .5-.1 .5-.1 .5-.2 .5-.2 .5-.2 .5-.5 .5-1.1 .5-1.2 .5-1.6 .5-2.4 .4-10.7 .1-3 .5-16.1 .2-8.7 .3 8.9 .5 16 .1 2.9 .4 10.8 .5 2.3 .5 1.6 .5 1.2 .5 .6 .5-1.1 .5-1.6 .5-1.9 .5-2.5 .5-10.9 .1-2.8 .4-16.1 .4-18.2 .1 3.2 .5 20.6 .3 10.5 .2 7.5 .5 7 .5 2.3 .5 1.8 .5 1.5 .5 .5 .5-.7 .5-.8 .5-1.1 .5-1.2 .5-7.1 0-.9 .5-11 .4-10.2 .1 3 .5 12.7 .2 5.5 .3 5.5 .5 3.1 .5 1.1 .5 1 .5 .8 .5 .5 .5 .5 .5 .3 .5 .1 .5-.4 .5-.4 .5-.6 .5-1.2 .5-1.8 .5-3.2 .1-2.3 .4-6.8 .5-10 0 0 .5 10.7 .3 6.1 .2 2.7 .3-2.4 .2-1.6 .5-9.7 .2-1.8 .3 5.9 .5 7 0 .2 .5 3.2 .5 2.3 .5 1.8 .5 1.4 .5 .6 .5 .3 .5-.3 .5-1.1 .5-1.5 .5-1.8 .5-2.3 .5-3 .3-3.5 .2-4.9 .5-13.2 .1-4 .4 9.9 .5 12.2 0 .2 .5 4.7 .5 2.7 .5 2 .5 1.6 .5 1.4 .5 .7 .5 .3 .5 .3 .5-.2 .5-.2 .5-.3 .5-.4 .5-.6 .5-.6 .5-1.6 .5-1.9 .5-2.4 .5-3.6 .1-1.2 .4-9.4 .4-11.4 .1 0 .5 14.1 .3 6.7 .2 2.2 .5 3.2 .5 2.3 .5 1.7 .5-8.6 .3-7.9 .2-8.4 .5-18.7 .1-4.1 .4 15.4 .5 15.8 0 1.5 .5 14.2 .5 1.7 .5 .8 .5 .6 .5 .5 .5 .4 .5-.1 .5-.2 .5-.3 .5-.3 .5-.3 .5-.4 .5-.6 .5-.6 .5-.8 .5-1.1 .5-1.4 .5-1.8 .5-2.3 .5-3 .5-3.7 .5-8.7 .2-11.9 .3-18.4 .5-34.6 .1-4.1 .4 31.3 .4 25.8 .1 5.6 .5 14.1 .5 3.9 .5 3.1 .5 2.5 .5 1.9 .5 1.4 .5 1.1 .5 .9 .5-1.2 .5-1.5 .5-2.1 .5-2.6 .5-10.3 .2-10.9 .3-14.7 .5-29.4 .1-4.6 .4 25.7 .4 23 .1 3.8 .5 15.8 .5-2.9 .5-3.3 .5-4.2 .4-29.3 .1-9.2 .5-45.3 .2-23.4 .3 25.6 .5 45 .1 7.3 .4 30.1 .5 3.5 .5 3.3 .5 2.9 .5 2.3 .5 1.9 .5 1.5 .5 1.2 .5 1 .5 .7 .5 .7 .5 .5 .5 .4 .5-.2 .5-.6 .5-.7 .5-.9 .5-1.1 .5-1.4 .5-1.8 .5-2.3 .5-2.8 .5-3.3 .5-16.4 .2-12.2 .3-24.6 .5-42 0-2.1 .5 40.2 .4 28.5 .1 8.9 .5 19.3 .5 3.4 .5 2.9 .5 2.3 .5 1.9 .5 1.4 .5-2.1 .3-2.9 .2-3.3 .5-10.2 .2-3.9 .3 7.1 .5 9.9 0 .4 .5 3.8 .5 2.3 .5-.2 .5-2.5 .1-.9 .4-5.2 .5-8 0 0 .5 8.5 .3 4.7 .2 1.1 .5 2.4 .5 1.7 .5 1.4 .5 1.1 .5 .3 .5-.3 .5-.6 .5-1.3 .5-1.6 .5-2.1 .5-3.3 0-.1 .5-8.7 .3-6.6 .2 3.1 .5 9.2 .2 3.1 .3 2.3 .5 2.4 .5 1.8 .5 1.4 .5 .9 .5 .3 .5 .3 .5 .2 .5 .1 .5 .2 .5-.2 .5-.7 .5-1 .5-1.2 .5-1.6 .5-3.5 0-.7 .5-7.1 .4-6.9 .1 1.9 .5 8.4 .2 3.7 .1 .1 .2-3.3 .5-8.3 .1-2.4 .4 6.4 .5 7.6 0 .2 .5 3.8 .5 1.6 .5 1.2 .5 .3 .5-1 .5-1.4 .3-1.3 .2-1.1 .5-5.1 .2-1.7 .3 3.4 .5 4.4 0 .1 .5 1.8 .5 1.2 .5 1 .5 .7 .5 .6 .5 .2 .5 .1 .5 .1 .5 0 .5 .4"/>
<path d="M854.0 526.3l.5-.4 .5 0 .5-.1 .5-.4 .5-1.1 .5-1.3 .5-1.6 .5-2 .5-2.9 .2-1.2 .3-3.6 .5-.1 0 0 .5 0 .4 3.7 .1 1.1 .5 2.9 .5 2 .5 1.6 .5-.6 .5-1.9 .5-2.4 .5-3.5 0-.4 .5-6 .4-.2 .1 0 .5 3.6 .2 2.6 .3 2.1 .5 2.9 .5 2.2 .5 1.6 .5-.3 .5-1.7 .5-2.2 .5-3.2 0-.1 .5-3.6 .4 0 .1 0 .5 1.5 .2 2.1 .3 2 .5 2.6 .5 1.9 .5 1.5 .5 1.2 .5 1 .5 .1 .5 .1 .5 .1 .5-.2 .5-.6 .5-.4 .5-.7 .5 .8 .5-.7 .5-.5 .5-.9 .5 1.7 .5-1.1 .5-.3 .5 .5 .5 0 .5 .5 .5 .6 .5 .6 .5 .5 .5 .1 .5 .5"/>
<path d="M886.5 526.3l.5-1.9 .5-6.3 .5-.2 .5-3.4 .5-5.4 .5 3.3 .5-2.8 .5-4.8 .5 3.4 .5-10.7 .5 4.5 .5 9.1 .5-28.1 .5 18 .5 6.5 .5-9.5 .5 9.8 .5-1.6 .5-2 .5 5.9 .5-4.7 .5 1.7 .5-1.3 .5 8.1 .5 1.8 .5 6.2 .5 2.3 .5 2.1"/>
<path d="M902.0 526.3l.5-.5 .5-.6 .5-.8 .5 .1 .5-3 .5 1.1 .5 .9 .5-1.2 .5 2.5 .5-2.1 .5 .1 .5 2.6 .5 .3 .5 .6"/>
<path d="M910.5 526.3l.5-8.1 .5-7.6 .5-5.8 .5-2.3 .5 11 .5-2.4 .5-1.6 .5 11.5 .5-3.6 .5-5.7 .5-5.2 .5-3 .5 8.6 .5-13.7 .5-1 .5 .2 .5 11.3 .5-6.7 .5 2.2 .5-5.1 .5 4.3 .5-7.3 .5 6.1 .5-2.2 .5 8.3 .5 .7 .5-2.8 .5 6.7 .5 9 .5 1.4 .5 2.7 .5-.3 .5-.6 .5-.2 .5-.6 .5-.4 .5-.8 .5 1.4 .5-.3 .5-1.1 .5-2.8 .5 1.6 .5 1.8 .5 .9 .5 .4 .5-.5 .3-.5 .2-.9 .5-2.3 .1 0 .4 1.5 .5 1.7 0 .1 .5 .8 .5 .2 .5 .2 .5 .2 .5-.3 .5-.1 .5 .3 .5-.4 .5-.2 .5 .2 .5 0 .5-1 .5 .2 .5-.6 .5 1.4 .5 0 .5-1.2 .5 .4 .5 .1 .5-1.8 .5 1.6 .5-.1 .5 .2 .5 .6 .5 1.3"/>
<path d="M1103.0 526.3l.5-.4 .5 0 .5-.6 .5-.1 .5-.4 .5 .2 .5 .4 .5-1 .5 .5 .5 .4 .5-1 .5 0 .5 0 .5-.1 .5-.6 .5 1.1 .5-.2 .5 0 .5 .1 .5 .4 .5-.6 .5 1 .5-.4 .5 .6 .5-.3 .5 .1 .5 .5 .5 .4"/>
<path d="M1128.0 526.3l.5-.4 .5-.1 .5-.1 .5-.1 .5-.2 .5-.2 .5-.3 .5-.4 .5-.5 .5-.8 0 0 .5-2.3 .3-.9 .2 0 .5 2.7 .2 .5 .3 .6 .5 .6 .5 .2 .5 .5 .5-1.2 .5 .5 .5-.2 .5 .7 .5-1.9 .5 1.1 .5 .6 .5-1.6 .5 .2 .5 1.4 .5-1.5 .5-.2 .5 .1 .5 .2 .5 1 .5-.8 .5 .2 .5-.1 .5-4.2 .5 3.5 .5 .7 .5-1 .5 .4 .5 1 .5-2.6 .5 3.1 .5-.1 .5-1.7 .5 .9 .5-.5 .5 1.4 .5-.3 .5-.8 .5 .7 .5-2.1 .5 1.8 .5-.8 .5 .1 .5 1.5 .5-1 .5 .3 .5-2.1 .5 .8 .5 1.3 .5-1.1 .5 1.2 .5 .4 .5-.3 .5 .2 .5 .6 .5-1.7 .5 1.3 .5-.4 .5 .8 .5 .4 .5-.1 .5-.1 .5 .7 .5-.1 .5-.1 .5 0 .5 .2 .5-.2 .5 .7"/>
<path d="M694.0 526.3l.5-.4 .5 0 .5-.1 .5-.1 .5 0 .5-.1 .5-.2 .5-.1 .5-.2 .5-.7 .5-1.1 .5-1.2 .5-1.5 .5-1.8 .5-2.3 .5-4.2 .1-1.7 .4-11 .4-12.1 .1 2.3 .5 13.9 .3 6.9 .2 3.7 .5 3 .5 2.1 .5 .3 .5-8.8 .1-2.1 .4-12 .4-13.6 .1 2.3 .5 15.5 .3 6.5 .2-12.1 .2-9.1 .3-22.5 .5-35.9 0-.2 .5 35.7 .4 22.9 .1 8.7 .5 24.7 .5 1.8 .5 1.3 .5 1.1 .5 .5 .5 .3 .5 .3 .5 .2 .5 .2 .5 .1 .5 .1 .5 .1 .5 .1 .5 0 .5 0 .5-.1 .5 0 .5-.1 .5-.1 .5-.1 .5-.2 .5-.1 .5-.2 .5-.3 .5-.3 .5-.5 .5-.5 .5-.8 .5-.9 .5-1.2 .5-3.3 .4-9.9 .1-4 .5-16.3 .2-7.6 .3 10 .5 16 .1 1.9 .4 11.6 .5 1.8 .5 1.1 .5 .9 .5 0 .5-.9 .5-1.2 .5-1.4 .5-6.7 .2-4.3 .3-10 .5-16.2 0-.4 .5 16 .4 10.6 .1 3.8 .5 7.1 .5 1.5 .5 1.2 .5 .9 .5 .7 .5-.6 .5-.9 .5-1.2 .5-1.4 .5-8.1 .1-2.7 .4-11.6 .5-14.6 0 1.6 .5 15.9 .3 8.7 .2 5.2 .5 5.9 .5 1.4 .5 1.1 .5 .8 .5 .7 .5 .5 .5 .4 .5 .3 .5 .2 .5-.2 .5-.3 .5-.5 .5-1 .5-1.5 .5-7.5 .3-7.5 .2-7.6 .2-8.4 .3-9 .1-4.1 .4 14.2 .1 3.3 .4 11.6 0 .9 .4 8 .1 .9 .5 4 .5 1.7 .5 1.2 .5 .6 .5 .5 .5 .4 .5 .3 .5 .1 .5-.3 .5-.3 .5-.6 .5-1.1 .5-1.4 .5-1.8 .5-3.8 .2-4.4 .3-7.2 .5-13.3 0-1.4 .5 12.2 .4 9.7 .1 2.3 .5 5.5 .5 1.9 .5 1.4 .5 1.2 .5 .7 .5 .4 .5 .2 .5 .3 .5 .1 .5 .1 .5-.2 .5-.2 .5-.2 .5-.7 .5-1.1 .5-1.3 .5-1.6 .5-2.9 .2-5 .3-5.8 .5-12.4 .1-2.4 .4 10.5 .4 10.1 .1 1.3 .5 5.9 .5 1.8 .5 1.4 .5 .6 .5-1.4 .5-6.8 .4-12 .1-5 .5-19.9 .2-9.1 .3 12.3 .5 19.5 .1 2.2 .4 14.2 .5 4.9 .5 1.3 .5 1 .5-.2 .5-.3 .5-.3 .5-.4 .5-.5 .5-.7 .5-.8 .5-1 .5-1.4 .5-1.7 .5-2.3 .5-2.9 .5-3.6 .5-12.4 .2-9.2 .3-22 .5-35.5 0-.5 .5 35.1 .4 22.9 .1 8.5 .5 13 .5 3.6 .5 2.9 .5 2.3 .5 1.8 .5 1.4 .5 1 .5 .8 .5 .7 .5-.3 .5-.8 .5-1.1 .5-1.5 .5-2.1 .5-2.6 .5-3.3 .4-7.5 .1-3.2 .5-19.3 .3-11 .2 10.1 .5 19.4 .1 4 .4 7.4 .5 1.9 .5-3.5 .5-38.9 0-1.5 .5-45.7 .4-38.4 .1 14.3 .5 50.1 .2 19.7 .3 23.5 .5 19.2 .5 2.4 .5 2.2 .5 1.7 .5 1.5 .5 1.1 .5 .9 .5 .7 .5 .6 .5 .5 .5 .3 .5-.4 .5-.5 .5-.6 .5-.7 .5-.9 .5-1.2 .5-1.5 .5-2 .5-2.4 .5-3 .5-3.3 .5-15.9 0-1.4 .5-29.3 .3-20.9 .2 11.5 .5 30.4 .2 9.7 .3 14.9 .5 3.3 .5 3.2 .5 2.6 .5 2 .5 1 .5-10 0-.8 .5-15.1 .3-10.8 .2 6 .5 15.7 .2 5 .3 8.5 .5 3.3 .5 1.9 .5-1.2 .5-5.4 0-.2 .5-9.1 .4-7.4 .1 3.1 .5 9.8 .2 3.6 .3 4.8 .5 1.9 .5 1.3 .5 1.1 .5 .9 .5-.2 .5-1.4 .5-1.7 .5-2.1 .5-2.7 .5-4 0-.1 .5-9.2 .4-8.4 .1 1.7 .5 12.5 .2 3.4 .3 2.5 .5 3.2 .5 2.3 .5 1.9 .5 1.5 .5 1.2 .5 .1 .5-.1 .5-.1 .5-.2 .5-.3 .5-.4 .5-1 .5-1.2 .5-1.7 .5-2.3 0-.2 .5-6.4 .3-4.6 .2 2.6 .5 6.8 .2 1.8 .3 1.7 .5-1.8 .4-2.5 .1-1.1 .5-8 .2-3.5 .3 4.8 .5 7.2 .1 .6 .4 2.8 .5 2.3 .5 .9 .5-1.9 .3-1.5 .2-1.6 .5-4.9 .1 0 .4 2.2 .5 4.3 0 .2 .5 2.3 .5 1.6 .5 1.3 .5 1 .5 .8 .5 .5 .5 0 .5 0 .5 .4"/>
<path d="M853.5 526.3l.5-.4 .5 0 .5-.1 .5-.1 .5-.3 .5-1.3 .5-1.5 .5-1.9 .5-2.4 .5-3.2 .3-2.3 .2-2.9 .5-5.3 .1 0 .4 1.6 .5 6.6 0 .5 .5 3.8 .5 2.7 .5 2 .5 1.7 .5 .3 .5-1.3 .5-1.7 .5-2.2 .4-2.8 .1-.5 .5-6.9 .3-.4 .2 0 .5 6.5 .1 1.3 .4 2.4 .5 2.3 .5 1.1 .5-2 .3-1.8 .2-1.2 .5-4.7 .2 0 .3 .6 .5 5.1 0 .2 .5 2.4 .5 1.8 .5 1.3 .5 1.1 .5 .9 .5 .2 .5 .1 .5 .1 .5 .1 .5 .1 .5-.2 .5-.6 .5-.8 .5-.8 .5-2.6 .5 1.2 .5 .8 .5 .5 .5 .6 .5-.6 .5 .6 .5 .4 .5-2.4 .5 1.2 .5 1 .5 1.2 .5 .4 .5 .5"/>
<path d="M886.5 526.3l.5-1.4 .5-6.6 .5-.8 .5-4.5 .5 1.6 .5-13.6 .5 4.1 .5-.2 .5 5.4 .5-10.5 .5-6.2 .5 1.5 .5-.3 .5-9.1 .5 16.7 .5-1.4 .5 9.1 .5-4.7 .5 2.5 .5-5.2 .5 4.3 .5-.5 .5 8.7 .5 3 .5 1 .5 .6 .5 5.2 .5 1.3"/>
<path d="M902.0 526.3l.5-.5 .5-1.1 .5-1.7 .5 1.1 .5-.3 .5-.3 .5 .5 .5 .3 .5 0 .5 0 .5-1.5 .5 2.8 .5 .3 .5 .4"/>
<path d="M910.5 526.3l.5-7.8 .5-4.5 .5 .8 .5-17 .5 13.2 .5-1.9 .5 6.6 .5 2.4 .5-.5 .5-3.4 .5-4 .5-1.4 .5 2.2 .5-8.8 .5-16.7 .5 16.1 .5-3.2 .5-8.6 .5 16.2 .5-6.4 .5-22.4 .5 11.2 .5 2.7 .5-2.9 .5 24 .5 3.5 .5-4.2 .5 6.6 .5 4.6 .5 1 .5 2.5 .5-.2 .5-1.4 .5-.3 .5 .5 .5 0 .5-1.7 .5 .1 .5 .8 .5-.5 .5 1.3 .5-.8 .5 .4 .5 .7 .5-.8 .4-1.1 .1-.1 .5-2.5 .3-1.6 .2 .7 .5 3 .1 .5 .4 .9 .5 .8 .5 .6 .5 .2 .5 .2 .5-.4 .5 0 .5-.3 .5 0 .5-.1 .5 .2 .5-1.3 .5 .8 .5 0 .5-.5 .5 .4 .5 .2 .5-.1 .5-1.1 .5 .8 .5-.3 .5-.8 .5 .2 .5 1.4 .5-1 .5 2.3"/>
<path d="M1103.5 526.3l.5-.8 .5 .2 .5-.2 .5-.3 .5-.7 .5 .6 .5-.3 .5-.1 .5 .3 .5-.9 .5-.3 .5 .9 .5-.9 .5 .7 .5-.1 .5 .1 .5 .7 .5-.6 .5-.2 .5 0 .5 1.1 .5-.4 .5 .1 .5 .4 .5-.1 .5 .4 .5 .4"/>
<path d="M1128.5 526.3l.5-.4 .5-.1 .5-.1 .5-.1 .5-.2 .5-.2 .5-.6 .5-1.1 .5-1.6 .1-.2 .4-2.7 .4-1.6 .1 0 .5 3 .3 1.3 .2 .9 .5 1.4 .5 1 .5-.7 .5 .3 .5-.2 .5 .4 .5-.1 .5 .3 .5-1.5 .5 1 .5 .3 .5-.7 .5-2.1 .5 2.3 .5-1.1 .5 1.3 .5-.2 .5-.4 .5-.9 .5-2.4 .5 .3 .5-.6 .5 3 .5-2.1 .5 2.5 .5-.6 .5 .4 .5-1 .5 .9 .5-.5 .5 1.4 .5-1.5 .5-.1 .5-1.2 .5-.3 .5 2.5 .5 .9 .5-.4 .5-.3 .5-.6 .5 0 .5 1.1 .5-.1 .5 .3 .5-1.2 .5 .6 .5 .5 .5-.2 .5-.8 .5 1.1 .5-.4 .5 1 .5-.6 .5 .6 .5-.2 .5-.4 .5 .3 .5 .5 .5-.2 .5 .5 .5 .1 .5-.1 .5 0 .5 .2 .5 .4"/>
<path d="M695.0 526.3l.5-.4 .5 0 .5-.1 .5-.1 .5 0 .5-.1 .5-.2 .5-.1 .5-.9 .5-1.2 .5-1.3 .5-1.6 .5-1.9 .5-2.5 .5-3.4 .2-1.6 .3-6.8 .5-13.7 0 0 .5 12.6 .4 7.9 .1 1.2 .5 .7 .3-2.3 .2-3 .5-7.5 .1 0 .4 3.6 .5 6.9 0 .4 .5 4 .5 2.7 .5 2.1 .5 .3 .5-13.4 0-1.2 .5-15.8 .4-14.7 .1 4.4 .5 18.3 .2 7.8 .3 8 .5 7.4 .5 1.4 .5 1.2 .5 .9 .5 .7 .5 .2 .5 .2 .5 .2 .5 .1 .5 0 .5-.1 .5-.1 .5 0 .5-.1 .5-.2 .5-.1 .5-.2 .5-.2 .5-.3 .5-.3 .5-.5 .5-.5 .5-.8 .5-.9 .5-1.3 .5-1.5 .5-3.7 .4-17.5 .1-2.9 .5-24.2 .3-15.1 .2 11.5 .5 24.7 .1 6 .4 15 .5 5.9 .5 1.6 .5 1.3 .5 .6 .5-1.1 .5-1.4 .5-1.7 .5-6 .1-3.3 .4-11 .5-15.3 0 1 .5 16 .3 9.3 .2 4.8 .5 4.7 .5 1.7 .5 1.4 .5 1.1 .5 .8 .5 .6 .5 .1 .5-.7 .5-.9 .5-1.1 .5-1.6 .3-6.7 .2-3.4 .5-11.9 .2-4.9 .3 7.8 .5 11.5 0 .9 .5 7.3 .5 1.3 .5 1 .5 .9 .5 .6 .5 .5 .5 .4 .5 .2 .5-.4 .5-.5 .5-1.4 .5-1.8 .5-2.3 .4-8.5 .1-1.4 .5-13.8 .3-8.9 .2 6.3 .5 14.1 .1 3.7 .4 8 .5-1.2 0-.5 .5-7.8 .4-7.1 .1 2.3 .5 8.9 .2 3.7 .3 2.1 .5 2.4 .5 1.7 .5 1.3 .5 1.1 .5 .4 .5 .2 .5-.2 .5-.2 .5-.8 .5-1 .5-1.3 .5-1.5 .5-4.3 .2-4.8 .3-6.9 .5-13.4 .1-1.9 .4 11.9 .4 10.3 .1 1.9 .5 6.7 .5 1.7 .5 1.3 .5 1.1 .5 .9 .5 .3 .5-.1 .5-.2 .5-.3 .5-.3 .5-.4 .5-.6 .5-.7 .5-.9 .5-1.2 .5-1.5 .5-6.4 .1-3.8 .4-10.1 .5-15.7 0 .2 .5 15.8 .3 9.8 .2 4.1 .5 6.1 .5-.2 .5-3.1 .3-2.2 .2-4.8 .5-12.6 .1-1 .4 9.2 .5 9.2 0 .5 .5 3.7 .5 2.5 .5 2 .5 1.5 .5 1.3 .5 .4 .5-.1 .5-.1 .5-.2 .5-.1 .5-.2 .5-.3 .5-.3 .5-.4 .5-.5 .5-.6 .5-.8 .5-1 .5-1.3 .5-1.7 .5-2.2 .5-2.7 .5-25.4 0-.6 .5-31.9 .4-25.8 .1 10.3 .5 34.4 .2 13 .3 16.6 .5 11 .5 2.3 .5 2 .5 1.5 .5 1.1 .5 .9 .5 0 .5-.9 .5-1.1 .5-1.5 .5-2.1 .5-2.7 .5-3.5 .5-3.9 .2-5.7 .3-14.2 .5-22.9 0-.4 .5 22.6 .4 14.9 .1 5.4 .5 4.1 .5-9.3 .4-30.1 .1-10 .5-47.1 .2-23.9 .3 27.1 .5 46.7 .1 7.2 .4 32.3 .5 7.7 .5 2.6 .5 2.2 .5 1.9 .5 1.4 .5 1.2 .5 .9 .5 .8 .5 .6 .5 .5 .5 .3 .5-.4 .5-.6 .5-.6 .5-.8 .5-1.1 .5-1.3 .5-1.6 .5-2.2 .5-2.6 .5-3.3 .5-3.5 .4-16.9 .1-6.1 .5-32.1 .2-17.3 .3 17.6 .5 32.1 .1 5.8 .4 16.9 .5 3.6 .5 3.2 .5 2.7 .5 2.1 .5 1.6 .5 1.3 .5 1.1 .5-1.4 .5-10.4 0 0 .5-14.2 .4-11.1 .1 4.8 .5 15 .2 5.5 .3 7.4 .5 .4 .1-1.3 .4-7.4 .4-8.2 .1 1.4 .5 9.5 .3 4.7 .2 2.9 .5 2.3 .5 1.6 .5 1.3 .5 .6 .5 .4 .5 .3 .5-.2 .5-.3 .5-.5 .5-1.1 .5-1.4 .5-2.6 .2-3.9 .3-4.8 .5-10 .1-1.8 .4 8.6 .4 8 .1 1.1 .5 4.8 .5 1.5 .5 1.3 .5 .6 .5 .4 .5 .3 .5 .2 .5 .2 .5-.4 .5-1.2 .5-1.5 .5-1.9 .5-2.4 .5-3.5 .1-.6 .4-5.8 .4-1.1 .1 0 .5 4.1 .3 2.8 .2-.6 .1-2.3 .4-10 .4-12.4 .1 1.6 .5 13.6 .3 7.2 .2 4.6 .5 4.7 .5 1.8 .5 1.4 .5-.6 .5-1.4 .5-2 .2-.8 .3-2.6 .5-1.1 0 0 .5 1 .4 2.7 .1 .7 .5 2.1 .5 1.4 .5 1.1 .5 .9 .5 .7 .5 .2 .5 .1 .5 0 .5 .4"/>
<path d="M854.0 526.3l.5-.4 .5-.1 .5-.1 .5-.1 .5-.5 .5-1.3 .5-1.6 .5-1.9 .5-2.5 .5-3.6 .1-1.2 .4-3.6 .5 0 0 0 .5 0 .3 3.6 .2 1.6 .5 3.4 .5 2.4 .5 1.9 .5-1.8 .5-2.4 .5-3.4 .1-.6 .4-5.5 .4-7.1 .1 0 .5 9.5 .3 3.1 .2 1.9 .5 3 .5 2.1 .5 1.1 .5-1.7 .5-2.4 .2-1.5 .3-2.4 .5-2.2 .1 0 .4 .2 .4 4.4 .1 .5 .5 2.7 .5 1.9 .5 1.4 .5 1.2 .5 .7 .5 .3 .5 .1 .5 .2 .5 .1 .5 .1 .5-.3 .5-1.3 .5 .3 .5-.3 .5-2.4 .5 .3 .5-.7 .5 3 .5-2.9 .5 2.9 .5-.3 .5-.3 .5 .5 .5 0 .5 .7 .5-.2 .5 .5 .5 .6 .5 .4"/>
<path d="M886.5 526.3l.5-2.5 .5-2.6 .5 .2 .5-6.6 .5 3.9 .5-6.6 .5-8.6 .5-6.4 .5 12.5 .5-1.1 .5 2.5 .5-2.8 .5-4.6 .5-.6 .5-1.5 .5-12.1 .5 3.6 .5 18.4 .5 .4 .5 .2 .5-5.5 .5 2.8 .5 9.4 .5-.4 .5 2.3 .5 2.9 .5 1.4 .5 1.4"/>
<path d="M902.0 526.3l.5-.6 .5 0 .5-2.5 .5 1.4 .5-.2 .5-.5 .5-3.4 .5 4.3 .5-1.2 .5 1.6 .5 .1 .5-.1 .5 .5 .5 .6"/>
<path d="M910.5 526.3l.5-5.3 .5-10.7 .5 2.4 .5-14.6 .5 6.7 .5 9.5 .5 2.9 .5 1.6 .5-5 .5 4.1 .5-11.8 .5-3.5 .5 2 .5 .9 .5-6.9 .5-16.7 .5 18.2 .5 8.5 .5-.4 .5-9.4 .5 7.7 .5-14.6 .5 7.4 .5 1.2 .5 .3 .5 15.3 .5-3.4 .5 5.9 .5 .9 .5 3.7 .5 3 .5-.6 .5 .2 .5-1 .5-.2 .5-.5 .5 .8 .5-.3 .5-.7 .5 .8 .5-.7 .5-.8 .5 1.2 .5 .2 .5 .4 .5-.5 .5-1 .2-.4 .3-1.3 .5-1 0 0 .5 .9 .4 1.4 .1 .4 .5 1 .5 .8 .5 .2 .5 .1 .5 .1 .5-.5 .5-.5 .5 .4 .5 .1 .5-.7 .5 .8 .5-.9 .5-.1 .5 .7 .5-.8 .5 0 .5 0 .5 .4 .5-1.4 .5 .8 .5 .7 .5-.6 .5 .6 .5 1.6"/>
<path d="M1103.0 526.3l.5-.5 .5 .1 .5-.2 .5-.4 .5-.6 .5 .3 .5 .2 .5-1 .5-.3 .5 .7 .5 .5 .5-2.1 .5 .8 .5 .1 .5 .9 .5-1.6 .5 .9 .5-.1 .5 .8 .5 .2 .5-.5 .5-.1 .5 .8 .5 .2 .5-.4 .5 .5 .5 .8"/>
<path d="M1129.0 526.3l.5-.4 .5 0 .5-.1 .5-.1 .5-.2 .5-.2 .5-.3 .5-.8 .5-1.1 0-.1 .5-2.5 .3-1.2 .2 0 .5 3.2 .2 .6 .3 .8 .5-1 .5 1.5 .5 .5 .5-1.4 .5 .5 .5-.2 .5 1.1 .5-.2 .5-.3 .5-.9 .5 .2 .5 .3 .5-.2 .5 0 .5 .8 .5-.4 .5-.6 .5-.1 .5-.7 .5 0 .5-2.8 .5 3.7 .5-2.4 .5 3.1 .5-.1 .5-1.4 .5 .6 .5 1.1 .5-1.1 .5-2.6 .5 1.7 .5 .2 .5 .8 .5 .6 .5 .2 .5-1.1 .5 .7 .5-2.9 .5 1.6 .5-2.1 .5 .7 .5 1.6 .5 .7 .5-2.3 .5 2.6 .5-2.1 .5 2.6 .5 .1 .5-.8 .5 1.6 .5-.3 .5 .2 .5-1.2 .5 1.4 .5-.4 .5 .2 .5-.2 .5 0 .5 .7 .5-.4 .5 .1 .5 .1 .5 .3 .5 .1 .5 .4"/>
<path d="M693.0 526.3l.5-.4 .5 0 .5-.1 .5 0 .5-.1 .5 0 .5-.1 .5-.1 .5-.2 .5-.1 .5-.3 .5-.2 .5-1.1 .5-1.3 .5-1.5 .5-1.9 .5-2.3 .5-3.1 .3-3.1 .2-1.8 .5-5.6 .2 0 .3 0 .5 6.9 0 .5 .5 3.8 .5-3 .1-.7 .4-6.2 .4-5.8 .1 0 .5 8.6 .3 3.4 .2 2.2 .5 3.4 .5 2.4 .5-2.4 .5-3.7 0-.3 .5-7.8 .3-1.5 .2 0 .5 7.7 .2 1.9 .3 2.7 .5 2.9 .5 2.2 .5 1.8 .5 1.4 .5 1.2 .5 .9 .5 .1 .5 .1 .5 .1 .5 .1 .5 0 .5 0 .5 0 .5-.1 .5-.1 .5 0 .5-.1 .5-.1 .5-.2 .5-.2 .5-.2 .5-.3 .5-.3 .5-.9 .5-1.3 .5-1.6 .5-2.1 .5-7.6 .1-3.4 .4-11.6 .5-16 0 1.1 .5 16.8 .3 9.7 .2 5 .5 6.3 .5 2 .5 1.5 .5 1.3 .5 0 .5-.7 .5-1 .5-1.7 .5-2.2 .5-17.6 0-2 .5-20.9 .4-20.1 .1 5.4 .5 24.6 .2 11 .3 10.3 .5 10.3 .5 1.9 .5 1.5 .5 .8 .5 .6 .5-.1 .5-.6 .5-.9 .5-1 .5-1.3 .5-8.6 0-.1 .5-12.4 .4-9.9 .1 4.1 .5 13.2 .2 5 .3 6.4 .5 3 .5 1.2 .5 .9 .5 .8 .5 .5 .5 .4 .5 .4 .5-.3 .5-.4 .5-.5 .5-.7 .5-.8 .5-1.1 .5-2.3 .2-4.2 .3-4.9 .5-10.5 .1-2.1 .4 8.9 .4 8.6 .1 1 .1-.8 .4-4.3 .5-8.3 0 0 .5 8.8 .3 3.8 .2 1.3 .5 3.1 .5 2.1 .5 1.7 .5 1.4 .5 .6 .5-.3 .5-.4 .5-.5 .5-1 .5-1.6 .5-1.9 .5-2.6 .5-5.4 0-.4 .5-12.6 .3-9.2 .2 4.7 .5 13.2 .2 4.3 .3 4.3 .5 2.9 .5 2.1 .5 1.7 .5 1.3 .5 .6 .5 .4 .5 .3 .5 .1 .5-.3 .5-.4 .5-.4 .5-.6 .5-.7 .5-1 .5-1.3 .5-1.5 .5-4.1 .1-2.2 .4-8.9 .5-11.6 0 1.2 .5 12.5 .3 6.8 .2 4 .5 2.6 .5 1.5 .5 .5 .5-2.2 .2-4.1 .3-4.9 .5-10.4 .1-1.9 .4 8.8 .4 8.4 .1 1.1 .5 4.5 .5 1.8 .5 1.3 .5 1.1 .5 .6 .5-.1 .5-.2 .5-.2 .5-.2 .5-.3 .5-.4 .5-.4 .5-.6 .5-.6 .5-.9 .5-1.2 .5-1.5 .5-2 .5-2.5 .5-3 .5-17 .1-6.7 .4-24.6 .5-32.6 0 2.7 .5 34.8 .3 19.7 .2 10.8 .5 13.3 .5 3 .5 2.4 .5 1.9 .5 1.5 .5 1.1 .5 .6 .5-1 .5-1.3 .5-1.8 .5-2.5 .5-3.1 .5-12.2 .2-14.9 .3-16.7 .5-36.3 .1-7.5 .4 30.1 .4 30.4 .1 3.2 .5 22.5 .5 3.4 .5-1.9 .5-2.7 .5-27.3 .1-9.2 .4-33.4 .5-44.8 0 3.5 .5 47.6 .3 27.1 .2 14.5 .5 22.4 .5 2.7 .5 2.4 .5 1.9 .5 1.6 .5 1.3 .5 1 .5 .8 .5 .7 .5 .5 .5-.1 .5-.6 .5-.7 .5-.8 .5-1 .5-1.3 .5-1.7 .5-2.1 .5-2.8 .5-3.3 .5-3.9 .5-4 .1-2.7 .4-16.3 .5-25.6 0 .2 .5 25.6 .3 16.1 .2 2.7 .5 4 .5 3.9 .5 3.4 .5 2.7 .5 2.1 .5 1.7 .5 1.3 .5-.2 .5-5.7 .2-4.3 .3-9 .5-15.1 0-.7 .5 14.6 .4 10.2 .1 3.2 .5 6.6 .5 0 .5-2.9 .2-1.7 .3-5.8 .5-11.3 0 0 .5 9.6 .4 7.5 .1 1.1 .5 3.1 .5 2.2 .5 1.7 .5 1.4 .5 1.1 .5-.1 .5-.3 .5-.3 .5-.6 .5-1.1 .5-1.4 .5-5.8 .1-2.5 .4-7.9 .5-11.4 0 .5 .5 11.8 .3 7 .2 3.4 .5 5 .5 1.4 .5 1.1 .5 .5 .5 .3 .5-.1 .5-.3 .5-.8 .5-1.3 .5-1.7 .5-2.3 .2-1.5 .3-2.2 .5-7.6 .1 0 .4 5.3 .4 4.5 .1 .4 .5 2.7 .5-1.1 .5-3 .2-2.4 .3-6.1 .5-12.8 .1 0 .4 10.4 .4 8.5 .1 1.5 .5 3.4 .5 2.3 .5 1.8 .5-1.5 .5-2.2 .3-1.8 .2-1.7 .5-.2 .1 0 .4 0 .5 1.9 0 0 .5 2.8 .5 1.9 .5 1.5 .5 1.1 .5 1 .5 .7 .5 0 .5 .4"/>
<path d="M854.0 526.3l.5-.4 .5 0 .5-.1 .5-.1 .5-.1 .5-.2 .5-.2 .5-.6 .5-1 .5-1.2 .5-1.6 .5-2.4 0-.1 .5-4.3 .4-2 .1 0 .5 4.7 .2 1.6 .3 1.4 .5 1.9 .5 1.4 .5-.9 .5-1.7 .5-2.4 0-.1 .5-5.4 .3-4.5 .2 1.2 .5 7.5 .2 1.3 .3 1.7 .5 1.9 .5 1.4 .5-.8 .5-1.7 .4-1.7 .1-.8 .5-5.9 .2-.1 .3 1.7 .5 4.8 .1 .3 .4 2 .5 1.6 .5 1.2 .5 1 .5 .8 .5 .3 .5 .1 .5 .1 .5 .1 .5 0 .5-.5 .5-1.9 .5 .6 .5 .5 .5-.3 .5-.6 .5-1 .5-.2 .5 .3 .5-.3 .5-.2 .5-.8 .5 2.5 .5 1 .5 .2 .5 0 .5-.4 .5 1.4"/>
<path d="M886.5 526.3l.5-1.3 .5-1.5 .5-1.5 .5-2.5 .5-6 .5-.6 .5-7.4 .5-13.4 .5 6.5 .5-2 .5 15.1 .5-6.3 .5-4.1 .5 6.5 .5-12.4 .5 6.3 .5 11 .5-15.6 .5 7.3 .5 2.5 .5 6.9 .5-9 .5 8.7 .5 7 .5 1.4 .5-.9 .5 2.6 .5 2.7"/>
<path d="M902.5 526.3l.5-1.2 .5-.4 .5-1.7 .5 1.2 .5-.5 .5 .8 .5-.5 .5-.4 .5-.4 .5 1.6 .5 .7 .5 .4 .5 .4"/>
<path d="M910.5 526.3l.5-5.7 .5-7.4 .5-8.5 .5 5.5 .5-7 .5 11.5 .5-3 .5 7.9 .5-4.1 .5-4 .5 1.4 .5-5.4 .5-5.9 .5 4.1 .5-.4 .5-12.7 .5 10.3 .5-8.1 .5-5 .5-.4 .5 9 .5-4 .5 2.8 .5 13.6 .5 2.9 .5-4.7 .5 3.5 .5 3.9 .5 5.8 .5 .3 .5 3.7 .5-.2 .5-1 .5-.4 .5 .5 .5-1.2 .5-1.8 .5 1.9 .5-.7 .5-.1 .5 .9 .5 .2 .5-.7 .5 1.4 .5 .2 .5-.8 .5-1.1 .1-.2 .4-1.8 .4-.3 .1 0 .5 1.3 .3 .8 .2 .7 .5 .9 .5 .7 .5 .3 .5 .1 .5-.2 .5 0 .5-.2 .5-.8 .5 .7 .5-.3 .5 .3 .5-.2 .5-.1 .5-.4 .5-.1 .5-.4 .5 .2 .5-1.7 .5 1.5 .5 .1 .5-.3 .5 .7 .5-1.6 .5 3.3"/>
<path d="M1103.0 526.3l.5-.6 .5-.1 .5-.3 .5 .2 .5-.2 .5-.3 .5 0 .5 .1 .5-.7 .5 .3 .5-.2 .5 .3 .5-1.2 .5 1.2 .5-.2 .5-1.6 .5 .9 .5 .7 .5 .6 .5-.1 .5-.6 .5 .9 .5 0 .5-.1 .5 .2 .5 .3 .5 .1 .5 .4"/>
<path d="M1127.5 526.3l.5-.4 .5 0 .5-.1 .5-.1 .5-.2 .5-.2 .5-.3 .5-.4 .5-1.1 .4-1.2 .1-.4 .5-3.5 .2 0 .3 .2 .5 3.4 .1 .3 .4 1.3 .5 1 .5 .4 .5-1.4 .5 .5 .5 .9 .5-.9 .5-1.4 .5 1.4 .5-.4 .5 1.2 .5-.2 .5-.9 .5-.5 .5 1.2 .5-1.3 .5-.3 .5 1.1 .5-3.7 .5 3.8 .5 .5 .5-4.1 .5 2.5 .5 0 .5-.9 .5 1.4 .5-1 .5 .4 .5 1 .5 .5 .5-1.3 .5-1.9 .5 2 .5-.6 .5 1.6 .5-.4 .5 .1 .5-3 .5 2.9 .5-1.1 .5-2.6 .5 .9 .5-1 .5 2.3 .5 1 .5 1.4 .5-.4 .5-.5 .5 .2 .5-.1 .5 .3 .5 .6 .5-.3 .5 .5 .5-.3 .5-1.4 .5 1.7 .5 0 .5-.5 .5 .5 .5 .3 .5-.9 .5 1.3 .5-.2 .5 .4 .5 0 .5 0 .5 .4"/>
<path d="M694.0 526.3l.5-.4 .5 0 .5-.1 .5 0 .5-.1 .5-.1 .5-.1 .5-.2 .5-.2 .5-.2 .5-.8 .5-.9 .5-1 .5-1.3 .5-1.7 .5-2.4 0-.7 .5-7.9 .3-5.2 .2 3.5 .5 8.1 .2 2.2 .3 2 .5 .3 .5-3.8 0-.3 .5-9.1 .3-6.8 .2 3.4 .5 9.6 .2 3.2 .3 3 .5 1 .5-2.5 .5-17 .2-8.2 .3-19.1 .5-31 0-.6 .5 30.6 .4 20.1 .1 7.4 .5 17.7 .5 2.5 .5 1.9 .5 1.6 .5 1.4 .5 .6 .5 .3 .5 .2 .5 .2 .5 .1 .5 .1 .5 .1 .5 0 .5-.1 .5-.1 .5-.1 .5-.1 .5-.1 .5-.1 .5-.2 .5-.3 .5-.3 .5-.4 .5-.4 .5-.7 .5-.8 .5-1.1 .5-2 .5-2.6 .5-13.5 .1-2.6 .4-18.5 .4-19.8 .1 4.1 .5 23.1 .3 11.1 .2 8.9 .5 8.1 .5 2.4 .5 1.7 .5 1 .5 .3 .5-1.4 .5-1.8 .5-3.9 .3-8.3 .2-6 .5-16.6 .1-5.4 .4 12.3 .5 15.7 0 0 .5 10.8 .5 2.2 .5 1.6 .5 1.3 .5 1.2 .5 .4 .5-1 .5-1.5 .5-1.7 .5-2.4 .4-5.4 .1-1.7 .5-11.5 .3-6.8 .2 5.7 .5 11.7 .1 2.6 .4 5.1 .5 2.5 .5 1.8 .5 1.5 .5 1.2 .5 .4 .5 .2 .5 .1 .5-.1 .5-.2 .5-.2 .5-.3 .5-.4 .5-.5 .5-.6 .5-1.2 .5-2.5 .4-7.8 .1-2.8 .5-12.4 .2-6.2 .3 7.3 0 1.1 .5 5.9 .1-1.7 .3-7.2 .1 2.5 .5 10.9 .2 4.8 .3 4.7 .5 3 .5 1.4 .5 1.1 .5 .6 .5-.2 .5-.4 .5-.4 .5-.6 .5-.7 .5-.9 .5-1.3 .5-1.5 .5-5.4 .3-7.6 .2-8.1 .5-18.1 .1-4 .4 14.9 .5 15.3 0 1.5 .5 10.8 .5 1.6 .5 1.4 .5 1 .5 .9 .5 .6 .5 .5 .5 .3 .5 .3 .5 0 .5-.4 .5-.4 .5-.7 .5-1.2 .5-1.7 .5-2.1 .4-12.7 .1-1.6 .5-17.5 .3-11.5 .2 7.8 .5 17.9 .1 4.9 .4 10.4 .5 4.1 .5-.4 .5-2.8 .2-1.9 .3-5.9 .5-10.9 0 0 .5 9.7 .4 7.1 .1 1.4 .5 3 .5 2 .5 1.1 .5 .8 .5 .6 .5 .5 .5 .3 .5 .3 .5 .2 .5 0 .5-.1 .5-.3 .5-.2 .5-.4 .5-.4 .5-.6 .5-.7 .5-.9 .5-1.2 .5-1.6 .5-1.8 .5-19.4 .2-10.2 .3-20.4 .5-34.9 0-1.8 .5 33.4 .4 23.7 .1 7.3 .5 22 .5 2 .5 1.6 .5 1.2 .5 1 .5 .7 .5-.6 .5-.9 .5-1.2 .5-1.6 .5-2.1 .5-2.8 .5-3.2 .3-7.1 .2-8 .5-19.9 .1-5.6 .4 15.4 .5 18.1 0 .7 .5 8 .5 1.6 .5-2.6 .5-2.9 .5-21.4 .2-14 .3-27.8 .5-47.6 0-2.7 .5 45.5 .4 32.6 .1 9.9 .5 25.1 .5 3 .5 2.7 .5 2.2 .5 1.8 .5 1.4 .5 1.2 .5 .9 .5 .7 .5 .6 .5 .5 .5-.5 .5-.6 .5-.7 .5-1 .5-1.2 .5-1.5 .5-1.9 .5-2.4 .5-3.1 .5-3.6 .5-4 .3-8.8 .2-10.6 .5-28.4 .1-8.8 .4 21.1 .5 26.7 0 .3 .5 10.2 .5 3.9 .5 3.4 .5 2.8 .5 2.2 .5 1.7 .5 1.4 .5-1.7 .5-3.6 0 0 .5-10 .4-7.8 .1 3.4 .5 10.6 .2 3.8 .3 2.4 .5 2.4 .5-3 .3-2.9 .2-1.8 .5-6.7 .2 0 .3 0 .5 8.1 0 .4 .5 3.7 .5 2.8 .5 2 .5 1.7 .5 1.3 .5-1.2 .5-1.6 .5-2 .5-2.7 .5-5.2 0-.8 .5-12.1 .3-8.2 .2 5 .5 12.4 .2 3.7 .3 4.4 .5 2.9 .5 2.1 .5 1.7 .5 1.4 .5 .5 .5 .2 .5 .2 .5 .1 .5-.2 .5-.2 .5-.3 .5-1.3 .5-1.7 .5-2.1 .5-2.7 .5-4 .1-.6 .4-6.6 .4-3.2 .1 0 .5 6.6 .3 3.2 .2 2.3 .3 .8 .2-4 .5-9.6 .1-2.4 .4 7.7 .5 8.3 0 .6 .5 3.9 .5 1.8 .5 1.3 .5 .6 .5-.9 .5-1.6 .5-2.1 .3-1.7 .2-1.6 .5-.9 .1 0 .4 0 .5 2.5 0 .1 .5 2.7 .5 1.8 .5 1.4 .5 1.1 .5 .9 .5 .6 .5 .4"/>
<path d="M853.5 526.3l.5-.4 .5 0 .5-.1 .5-.1 .5-.3 .5-1 .5-1.1 .5-1.3 .5-1.8 .5-2.6 .1-.3 .4-4.4 .4-1.3 .1 0 .5 3.6 .3 2.1 .2 1.5 .5 2.2 .5 1.5 .5 1.3 .5 .6 .5-.6 .5-1.3 .5-1.7 .5-2.2 .3-1.8 .2-1.7 .5-7.1 .1 0 .4 3.7 .5 5.1 0 .1 .5 2.8 .5 1.9 .5 1.4 .5-1.5 .5-1.9 .5-2.8 .1-.7 .4-4.3 .4-2.4 .1 0 .5 4.1 .3 2.6 .2 1.5 .5 2.5 .5 1.9 .5 1.4 .5 1.2 .5 .7 .5 .2 .5 .1 .5 .1 .5-.5 .5 .2 .5-1.5 .5 1.1 .5-2.3 .5 0 .5 .4 .5-.2 .5 .3 .5-1.4 .5-1.9 .5 4.7 .5 .1 .5-.7 .5 .1 .5 1.2 .5 .6 .5 .4"/>
<path d="M886.5 526.3l.5-2.3 .5-1 .5-1.9 .5-3.3 .5-5.6 .5-4.9 .5 8.1 .5-14.8 .5 9.2 .5-8.6 .5 4.4 .5-4.5 .5 7.7 .5-8.4 .5 5.3 .5-22 .5 19.7 .5-2.6 .5 3.2 .5 6.9 .5-6.1 .5 6.5 .5 3.8 .5-.7 .5 3.9 .5 4.6 .5 1.3 .5 2.1"/>
<path d="M902.0 526.3l.5-.5 .5-.4 .5-1.1 .5-.5 .5-.3 .5 1.1 .5-.6 .5-2.9 .5 3 .5 .9 .5 .3 .5-.2 .5 .4 .5 .8"/>
<path d="M910.5 526.3l.5-5.3 .5-10.8 .5 1.7 .5-6.9 .5-8.2 .5 15.7 .5 6.4 .5 .4 .5-5.6 .5-3.5 .5 3 .5-4.3 .5-10.1 .5 4.4 .5-8.7 .5 8.2 .5-.8 .5-2.6 .5 4.4 .5 3.4 .5-15.8 .5 6.7 .5 7.6 .5 5.4 .5-12.2 .5 9.3 .5 7.7 .5 3.5 .5 2.8 .5 2.7 .5 1.4 .5-.5 .5-1 .5 .1 .5-.5 .5 .4 .5-4.3 .5 3.4 .5 0 .5-.3 .5 1 .5-1.7 .5 1.3 .5 1.2 .5-.6 .5 .3 .5-.8 .4-.8 .1-.4 .5-2 .2 0 .3 0 .5 2.2 .1 .2 .4 .9 .5 .8 .5 .5 .5 .2 .5-.4 .5-.1 .5-.2 .5-.5 .5-.2 .5 .6 .5 .2 .5-1.3 .5 1.2 .5-.1 .5-1.5 .5 1.1 .5-.3 .5 .3 .5 0 .5-.2 .5-.7 .5 .7 .5 .2 .5 1.7"/>
<path d="M1103.5 526.3l.5-.8 .5 .2 .5-.2 .5-.5 .5 .5 .5-.8 .5-.3 .5-.9 .5 1.4 .5-.9 .5 .2 .5 .1 .5 .4 .5-1.6 .5-.3 .5-.6 .5 2.9 .5-.3 .5-.4 .5 .4 .5-.5 .5 1 .5 .1 .5 .2 .5-.4 .5 1.1"/>
<path d="M1129.0 526.3l.5-.4 .5 0 .5-.1 .5-.2 .5-.4 .5-.8 .5-1.1 .2-.7 .3-1.1 .5-1.6 .1 0 .4 .6 .4 2.1 .1 .2 .5 1 .5 .7 .5 .1 .5 .3 .5-.2 .5-.3 .5-.2 .5-.2 .5 .8 .5-.8 .5 0 .5-.8 .5 1.4 .5-1.8 .5 1.1 .5-1.8 .5 1.8 .5-2 .5 1 .5 1.2 .5-.3 .5-.9 .5 1 .5 .1 .5-.4 .5-.4 .5 .8 .5-3.1 .5 1.2 .5 1.5 .5-2.3 .5 1 .5 1.2 .5-.4 .5 1.4 .5-.8 .5-.9 .5-.8 .5 2.5 .5-.3 .5-1.8 .5-.4 .5 2.2 .5-.7 .5-.1 .5-.5 .5 1.2 .5-2.7 .5 2.4 .5 1.2 .5-1.2 .5 1.2 .5-.2 .5-.3 .5-.9 .5 1 .5 .9 .5-.4 .5 .2 .5-.3 .5 .1 .5 .4 .5-.4 .5 .5 .5 .3 .5-.3 .5 .7"/>
<path d="M695.0 526.3l.5-.4 .5 0 .5-.1 .5 0 .5-.1 .5-.1 .5-.2 .5-.6 .5-.9 .5-.9 .5-1.2 .5-1.4 .5-2.5 .5-19 0-.6 .5-22.5 .4-18.6 .1 7.1 .5 24.5 .2 9.5 .3 11.6 .5 6.8 .5-22.1 .2-16.8 .3-20.4 .5-42.8 .1-7.8 .4 36.4 .4 34.6 .1 4.7 .5 32.1 .5 3.6 .5 2 .5-2.2 .5-10.7 .2-6.1 .3-13.7 .5-22.4 0-.7 .5 22.1 .4 14.7 .1 5.2 .5 11.5 .5 2.2 .5 1.7 .5 1.4 .5 1.2 .5 .9 .5 .2 .5 .1 .5 .1 .5 .1 .5-.1 .5-.1 .5 0 .5-.1 .5-.1 .5-.2 .5-.1 .5-.2 .5-.3 .5-.3 .5-.4 .5-.5 .5-.6 .5-.9 .5-1.8 .5-2.2 .5-3 .3-7.4 .2-5.4 .5-16.2 .2-5.9 .3 11.5 .5 15.5 0 .5 .5 8.5 .5 2.7 .5 2.1 .5 1.4 .5 .8 .5 .6 .5-.4 .5-1.5 .5-1.8 .5-2.2 .5-3.9 .2-5.5 .3-8.4 .5-16 .1-1.9 .4 14.4 .4 11.9 .1 2.5 .5 6.2 .5 2.5 .5 1.8 .5 1.5 .5 1.3 .5-.2 .5-1.6 .5-1.9 .5-2.4 .5-3.4 .2-1.4 .3-6.8 .5-11.4 0 0 .5 11.4 .4 6.8 .1 1.4 .5 3.4 .5 2.4 .5 1.9 .5 1.6 .5 1.1 .5 .1 .5-.3 .5-.3 .5-.4 .5-.5 .5-1.4 .5-1.9 .5-2.5 .5-3.5 .1-1.2 .4-5.3 .5-9.8 0 0 .5 10.8 0 0 .3-.1 .2-3.5 .4-3.3 .1 0 .5 8.6 .2 2.4 .3 2.6 .5 3.1 .5 2.3 .5 1.8 .5 1.5 .5 .9 .5 .2 .5 .1 .5-.2 .5-.7 .5-1.3 .5-1.4 .5-1.7 .5-2.2 .5-5.2 .2-6.7 .3-8.9 .5-17.9 .1-2.9 .4 15.6 .4 14.1 .1 2.3 .5 8.7 .5 2.5 .5 1.8 .5 1.5 .5 1.3 .5 1 .5 .2 .5 .1 .5-.1 .5-.2 .5-.2 .5-.3 .5-.6 .5-1.3 .5-1.6 .5-2 .5-2.5 .5-3.7 .1-2.4 .4-10.2 .5-12.8 0 .4 .5 15.1 .3 7.5 .2 3.3 .5 .8 .1-1.1 .4-6.8 .5-10.4 0 0 .5 11.4 .3 5.8 .2 1.5 .5 3.3 .5 2.4 .5 1.7 .5 .8 .5 .6 .5 .4 .5 .4 .5 .3 .5 .2 .5-.1 .5-.1 .5-.2 .5-.3 .5-.3 .5-.4 .5-.6 .5-.6 .5-.9 .5-1.2 .5-1.5 .5-1.8 .5-11.9 .3-18.5 .2-10.8 .5-34.1 .2-13 .3 23.5 .5 32.9 0 1.5 .5 25.9 .5 5.1 .5 1.7 .5 1.4 .5 1.1 .5 .8 .5 .6 .5 .5 .5 .1 .5-.3 .5-.4 .5-.5 .5-.9 .5-1.4 .5-1.9 .5-2.5 .4-12.8 .1-2.1 .5-19.4 .3-12.3 .2 9 .5 19.7 .1 5.1 .4 7.2 .5-3.1 .5-21.3 .2-13.1 .3-28.8 .5-47.9 0-1.6 .5 46.5 .4 31.8 .1 10.6 .5 23.6 .5 3.1 .5 2.8 .5 2.3 .5 1.9 .5 1.5 .5 1.2 .5 .9 .5 .8 .5 .7 .5 .5 .5 .4 .5 .4 .5-.3 .5-.6 .5-.7 .5-.8 .5-1.2 .5-1.4 .5-1.8 .5-2.1 .5-7.2 .2-10.8 .3-11.8 .5-26.1 .1-5.5 .4 21.5 .4 21.9 .1 2.2 .5 15 .5 2.1 .5 2 .5 1.5 .5 1.3 .5 .9 .5-1.2 .5-6.5 0-.7 .5-9.9 .4-9.3 .1 2.8 .5 11.4 .2 5 .3 4.9 .5 3.1 .5-2.1 .5-3 0 0 .5-5.8 .4-5.4 .1 0 .5 9.4 .2 1.8 .3 2 .5 2.3 .5 1.7 .5 1.4 .5 .7 .5 .4 .5 .3 .5-.8 .5-1.4 .5-1.6 .5-2.1 .5-3 .1-1.2 .4-4 .5-8.1 0 0 .5 8.3 .3 3.8 .2 1.2 .5 3 .5 2.1 .5 1.7 .5 1.3 .5 1.1 .5 .3 .5 .1 .5-.1 .5-.1 .5-1 .5-1.4 .5-1.8 .5-2.1 .5-2.9 .4-3.4 .1-1 .5-7.4 .3 0 .2 0 .5 7.3 .1 1.1 .4 3.3 .4 .7 .1-1.5 .5-8 .3-4.4 .2 4.3 .5 8 .1 1.6 .4 3 .5 1.8 .5 1.4 .5-.4 .5-1.5 .5-2.2 .1-.3 .4-3.6 .4-.8 .1 0 .5 2.7 .3 1.7 .2 1.2 .5 1.9 .5 1.3 .5 1.1 .5 .8 .5 .7 .5 .1 .5 .1 .5 .4"/>
<path d="M853.0 526.3l.5-.4 .5-.1 .5 0 .5-.2 .5-.1 .5-.5 .5-1 .5-1.2 .5-1.6 .5-2.1 .4-2.2 .1-.9 .5-4.6 .2 0 .3 0 .5 4.9 .1 .6 .4 2.5 .5 2 .5 1.5 .5 1.2 .5 1 .5-.9 .5-1.3 .5-1.6 .5-2.1 .5-3 .2-1.3 .3-3.7 .5-3.8 0 0 .5 3.5 .4 4 .1 1.2 .5 3 .5 2.1 .5 .6 .5-1.8 .5-2.7 .1-.6 .4-4 .4-.7 .1 0 .5 2.1 .3 2.6 .2 1.3 .5 2.4 .5 1.8 .5 1.3 .5 1.1 .5 1 .5 .2 .5 .1 .5 .1 .5-.9 .5-.9 .5 .8 .5-.7 .5-2.2 .5-1.8 .5 3.9 .5-4.1 .5 4.2 .5 0 .5 .1 .5-1 .5 .1 .5 .4 .5 .8 .5 .5 .5-.4 .5 1.1 .5 .4"/>
<path d="M886.5 526.3l.5-1.8 .5-5.3 .5 0 .5-5.7 .5-.7 .5-6.5 .5 9.3 .5-10.7 .5 .3 .5-6.6 .5 9.5 .5-10.3 .5-8.2 .5 21.6 .5-14.3 .5 9.4 .5 6.3 .5-11 .5 12.1 .5-6.5 .5-2.2 .5 5.8 .5 1.4 .5 6.4 .5-.1 .5 3.4 .5 3.2 .5 1.2"/>
<path d="M902.0 526.3l.5-.5 .5-.3 .5-.1 .5-3.9 .5 .4 .5 1.6 .5-.1 .5 .4 .5-1.3 .5 2.5 .5 .1 .5 .1 .5 .6 .5 .5"/>
<path d="M910.5 526.3l.5-5.9 .5-10.5 .5-.8 .5 4.8 .5-13 .5 2.9 .5 14.6 .5 2.4 .5-1.7 .5-5.9 .5 .8 .5-7.1 .5-9.5 .5 14 .5-3.2 .5-.4 .5-18.4 .5 5.2 .5 1.2 .5-2.4 .5 5.3 .5 2.7 .5 5.6 .5-2.6 .5-1 .5 8.1 .5 2 .5 2.4 .5 3.9 .5 4 .5 2.4 .5-.2 .5-.8 .5 0 .5-.4 .5-2.5 .5 1.2 .5-1.5 .5 1.5 .5 .8 .5 .1 .5 .4 .5 .1 .5 0 .5 .2 .5-.6 .2-.5 .3-.9 .5-2.4 .1 0 .4 1.8 .4 1.5 .1 .2 .5 .8 .5 .5 .5 .2 .5 .1 .5-.1 .5 .1 .5-1 .5 .3 .5-.3 .5 0 .5 .5 .5-.1 .5-.3 .5-.3 .5-.2 .5 .1 .5 .7 .5-.7 .5-.7 .5 1 .5 .2 .5-1 .5 .4 .5 0 .5 1.9"/>
<path d="M1102.5 526.3l.5-.4 .5-.1 .5-.3 .5-.2 .5 .3 .5-.3 .5-.7 .5 .2 .5 .2 .5-2 .5 .6 .5 .5 .5 .4 .5-.1 .5-.2 .5 .1 .5-.2 .5-.1 .5 1.2 .5-.3 .5-.5 .5-.3 .5 .6 .5 .6 .5 0 .5 0 .5 .2 .5 .8"/>
<path d="M1127.0 526.3l.5-.4 .5 0 .5-.1 .5-.1 .5-.1 .5-.1 .5-.3 .5-.2 .5-.4 .5-.5 .5-.6 .3-.9 .2-.6 .5-2.1 .2 0 .3 0 .5 2.6 0 .1 .5 1.1 .5 .6 .5 .4 .5 .1 .5-1.4 .5-.1 .5 .7 .5 .8 .5-1 .5-.1 .5-2.3 .5 3.6 .5-3.6 .5 2.5 .5 .8 .5-4.7 .5 4.6 .5-1.2 .5-.4 .5 1.1 .5-.4 .5 .1 .5-1.3 .5 1.4 .5-.2 .5-3.5 .5 3.9 .5-1 .5 .8 .5 0 .5-1.5 .5 1.1 .5-1.9 .5 3 .5-1.1 .5 .5 .5-.6 .5-2.3 .5 .1 .5 1.5 .5 .4 .5 1.7 .5-.6 .5 .3 .5-1.1 .5 .1 .5 .3 .5 .1 .5-2.4 .5 .2 .5 2 .5 1.2 .5-1 .5-.8 .5 .9 .5 .8 .5 .2 .5 0 .5 .2 .5 .2 .5 .2 .5 0 .5-.3 .5 .6 .5 0 .5 .1 .5-.2 .5 .5"/>
<path d="M692.5 526.3l.5-.4 .5 0 .5 0 .5-.1 .5-.1 .5 0 .5-.1 .5-.1 .5-.1 .5-.2 .5-.2 .5-.2 .5-.8 .5-1.1 .5-1.4 .5-1.7 .5-2 .5-6.7 .5-27.8 0-2.2 .5-35.8 .3-24.9 .2 14.6 .5 37 .2 11.3 .3 20.5 .5 13.3 .5-1.1 .5-3.5 .1-1 .4-5.3 .4-8.3 .1 0 .5 10 .3 3.6 .2 1.8 .5 3.3 .5 2.3 .5-1 .4-2.2 .1-1.2 .5-7.9 .2-2.1 .3 4.5 .5 6.3 .1 .4 .4 2.7 .5 2.1 .5 1.5 .5 1.3 .5 1 .5 .6 .5 .3 .5 .2 .5 .1 .5 .1 .5 .1 .5 .1 .5-.1 .5 0 .5-.1 .5-.1 .5-.1 .5-.2 .5-.1 .5-.2 .5-.3 .5-.3 .5-.4 .5-.6 .5-.7 .5-.9 .5-1.4 .5-2.2 .5-12 0-.8 .5-16.8 .3-12.1 .2 6.7 .5 17.4 .2 5.6 .3 9.4 .5 4.2 .5 1.7 .5 1 .5 .7 .5-.5 .5-1.5 .5-1.9 .5-2.6 .3-8.3 .2-4.3 .5-15.4 .2-6.6 .3 10 .5 15 0 1.3 .5 8.9 .5 2.4 .5 1.8 .5 1.4 .5 1.2 .5-.5 .5-.7 .5-.8 .5-1.1 .5-2 .5-7.5 .1-1.9 .4-11.7 .4-13 .1 2.3 .5 14.9 .3 7.5 .2 5.5 .5 4.6 .5 1.6 .5 1.1 .5 .8 .5 .6 .5 .4 .5 .4 .5 .1 .5-.3 .5-.5 .5-.6 .5-.7 .5-1 .5-1.2 .5-12.2 0-.4 .5-14.9 .4-12.3 .1 4.7 .5 16.2 .1 3.9 .1 2.3 .3-7.7 .5-14.3 0 .7 .5 14.7 .3 8.8 .2 4.2 .5 6.8 .5 1.6 .5 1.3 .5 1 .5 .3 .5-.1 .5-.3 .5-.3 .5-.4 .5-.5 .5-.7 .5-.9 .5-1.4 .5-2.1 .5-2.8 .3-4.8 .2-5.8 .5-13.7 .1-3.3 .4 11 .5 11.8 0 .9 .5 5.6 .5 2.4 .5 1.7 .5 1 .5 .8 .5 .6 .5 .4 .5 .3 .5-.4 .5-.5 .5-.7 .5-.8 .5-1.1 .5-1.3 .5-1.6 .4-9.8 .1-2.5 .5-15.3 .3-8.9 .2 8 .5 15.5 .1 3.2 .4 9.7 .5 1.6 .5 1.4 .5-1 .4-5.2 .1-1.4 .5-9.8 .3-5.8 .2 5 .5 9.8 .1 2.2 .4 5 .5 1.9 .5 1.1 .5 .7 .5 .6 .5 .4 .5 .4 .5-.1 .5-.2 .5-.2 .5-.3 .5-.3 .5-.4 .5-.5 .5-.6 .5-.7 .5-1 .5-1.3 .5-1.7 .5-2.1 .5-2.8 .5-3.4 .5-12.8 .2-10.7 .3-21.1 .5-36.3 0-2.1 .5 34.5 .4 25 .1 7.4 .5 15.7 .5 3.4 .5 2.9 .5 2.2 .5 1.7 .5 1.3 .5 1.1 .5-.9 .5-1.5 .5-2 .5-2.7 .5-7.6 .3-12.6 .2-11.8 .5-28.2 .1-7.2 .4 22.3 .5 24.9 0 1.5 .5 17.3 .5 .4 .5-2.7 .5-3 .5-38 .1-5.6 .4-45 .4-46.2 .1 10.6 .5 54.8 .3 25.8 .2 21.9 .5 22.8 .5 2.9 .5 2.6 .5 2.1 .5 1.7 .5 1.3 .5 1.1 .5 .9 .5 .7 .5 .6 .5 .4 .5-.3 .5-.6 .5-.7 .5-.8 .5-1.1 .5-1.4 .5-1.7 .5-2.2 .5-2.8 .5-3.4 .5-3.9 .5-3.5 0-.6 .5-21.1 .3-15.1 .2 8.1 .5 22 .2 6.7 .3 2.3 .5 3.9 .5 3.6 .5 3 .5 2.4 .5 1.8 .5-.4 .3-3.1 .2-3.6 .5-10.6 .2-3.7 .3 7.5 .5 10.2 0 .2 .5 4.1 .5 2.4 .5-1.2 .5-2.9 .5-3.8 0-.4 .5-7.3 .3 0 .2 0 .5 5.7 .2 2 .3 2.9 .5 3.1 .5 2.3 .5 1.8 .5 1.5 .5-.1 .5-.5 .5-.6 .5-.8 .5-1.1 .5-2.9 .2-2.7 .3-5.7 .5-10.1 0 0 .5 9.2 .4 6.6 .1 2 .5 3.4 .5 1.2 .5 .8 .5 .7 .5 .5 .5 .3 .5 .3 .5 .3 .5 .2 .5 .1 .5-.5 .5-1.3 .5-1.5 .5-1.9 .5-2.5 .5-3.7 0-.1 .5-6.9 .4-2.3 .1 0 .5 7 .2 2.2 .3 1.6 .3-2.3 .2-3.8 .5-13.3 .1 0 .4 8.7 .5 8.4 0 .4 .5 3.8 .5 2.6 .5 1.9 .5-.9 .3-1.1 .2-1.3 .5-3.7 .1 0 .4 1.6 .5 3.4 0 .1 .5 1.9 .5 1.2 .5 1 .5 .8 .5 .7 .5 .2 .5 0 .5 .1 .5 .4"/>
<path d="M852.5 526.3l.5-.4 .5 0 .5-.1 .5-.1 .5-.1 .5-.2 .5-.2 .5-.6 .5-1.2 .5-1.4 .5-1.7 .5-2.5 .2-1.5 .3-2.6 .5-3.5 .1 0 .4 1.7 .4 4.4 .1 .6 .5 2.7 .5 2 .5 1.5 .5-.5 .5-1.6 .5-2.2 .5-3 0-.2 .5-6.4 .3-4.9 .2 .9 .5 9 .2 1.6 .3 2.2 .5 2.4 .5 1.8 .5 1.4 .5-1.1 .5-1.6 .5-2.2 .4-2.7 .1-.6 .5-3.4 .3 0 .2 0 .5 3 .1 1 .4 2.5 .5 2.2 .5 1.7 .5 1.4 .5 1.1 .5 .6 .5 .1 .5 .1 .5 .1 .5-.2 .5-.3 .5-2.4 .5 1.4 .5-.8 .5 .8 .5-.2 .5-.5 .5-2.8 .5 2 .5 .1 .5 1.4 .5-.1 .5-1.4 .5 1.9 .5 .3 .5 .6 .5 .3 .5 .4"/>
<path d="M886.5 526.3l.5-1.2 .5-4.7 .5 1 .5-1.4 .5-10.6 .5 1.6 .5-6.5 .5 1.4 .5-13.8 .5 6.4 .5 7.7 .5-3.4 .5-6.3 .5 5.2 .5-20.7 .5 20.8 .5-1.1 .5-2.9 .5 5.3 .5-6.9 .5 16.9 .5 3.6 .5-6.6 .5 2.2 .5 9.8 .5-1.8 .5 4 .5 2"/>
<path d="M902.0 526.3l.5-.5 .5-.1 .5-.3 .5-.9 .5-2.4 .5-.2 .5 1 .5 1.4 .5 .7 .5-.9 .5-.8 .5 1.8 .5 .7 .5 .5"/>
<path d="M910.5 526.3l.5-4.8 .5-7.2 .5-1.9 .5-10 .5-2 .5 3.2 .5 7.5 .5 10.6 .5-4.4 .5 .9 .5-4.9 .5-14.1 .5 1.6 .5 3.5 .5 3.8 .5-12.1 .5-3.5 .5 16 .5-12.5 .5-4.2 .5 1.1 .5 4.1 .5 5.5 .5 11.1 .5-2.3 .5 2.3 .5 .8 .5 5.3 .5 2.6 .5 1.1 .5 2.8 .5-.7 .5 0 .5-.9 .5-2.5 .5 2.3 .5-.3 .5 .5 .5-3 .5 2.3 .5 .4 .5-1.8 .5 2.3 .5 .6 .5-.4 .5-.8 .2-.5 .3-.8 .5-1.9 .1 0 .4 1.3 .4 1.4 .1 .2 .5 .9 .5 .6 .5 .4 .5-.1 .5 .1 .5-.4 .5-.2 .5-.1 .5-.2 .5-.4 .5 .3 .5-1.3 .5 1.1 .5-.1 .5 .6 .5-.3 .5-1.8 .5 1.6 .5 0 .5-.3 .5-.9 .5 .4 .5-.8 .5 1.4 .5 1.9"/>
<path d="M1103.0 526.3l.5-.4 .5-.3 .5-.1 .5 .1 .5-.3 .5-.8 .5-.5 .5 1.1 .5-.3 .5-.1 .5-.9 .5 .4 .5-.2 .5-1 .5 1.2 .5-.3 .5 .4 .5 .1 .5 .1 .5 0 .5 .1 .5-.3 .5 0 .5 .8 .5 0 .5 .3 .5 .4 .5 .5"/>
<path d="M1130.0 526.3l.5-.4 .5-.1 .5-.7 .5-.1 .5-1 .5-1.4 .2-.9 .3-1.3 .5-.4 .1 0 .4 0 .4 1.7 .1 .3 .5 1.6 .5 .2 .5-.7 .5 1.9 .5-.1 .5-.9 .5 .6 .5-1.2 .5 1.4 .5-.2 .5-.8 .5-.3 .5 1.1 .5-1.8 .5 1.4 .5-1 .5 0 .5-.1 .5-.7 .5 .4 .5-.7 .5 1.6 .5-.6 .5-3.7 .5 3.1 .5-.4 .5 1.2 .5-2.4 .5 2.3 .5-.5 .5-.1 .5 .9 .5 .3 .5-3.7 .5 3.9 .5-3.8 .5 2.3 .5 1.2 .5 .5 .5-.6 .5-.4 .5-2 .5 .7 .5 1.2 .5 .4 .5 .1 .5 .3 .5 .3 .5 .1 .5 .7 .5-.4 .5-.3 .5 .1 .5 1 .5-.5 .5 .2 .5-1 .5 1 .5-.4 .5 .7 .5 .4 .5-.3 .5 0 .5 .3 .5-.2 .5 .1 .5 .6"/>
<path d="M694.0 526.3l.5-.4 .5 0 .5-.1 .5 0 .5-.1 .5-.1 .5-.1 .5-.2 .5-.6 .5-1 .5-1.2 .5-1.4 .5-1.7 .5-2.2 .5-3 .2-1.8 .3-3.1 .5-7.2 .1 0 .4 4.7 .4 5.6 .1 .6 .5 3.4 .5-.4 .5-3.6 .1-.5 .4-5.9 .4-8.7 .1 0 .5 11.6 .3 3 .2 2 .5 3.1 .5 2.2 .5 .1 .5-4.3 .2-4.5 .3-7.8 .5-14 0-1.4 .5 13 .4 10.2 .1 2.5 .5 5.9 .5 2 .5 1.4 .5 1.3 .5 1 .5 .7 .5 .2 .5 .1 .5 .1 .5 .1 .5-.1 .5 0 .5-.1 .5-.1 .5-.1 .5-.1 .5-.2 .5-.1 .5-.2 .5-.3 .5-.3 .5-.5 .5-.5 .5-.7 .5-1 .5-1.2 .5-1.5 .5-4.2 .3-7.2 .2-7.1 .5-16.6 .1-4 .4 13.4 .5 14.3 0 1.1 .5 9.5 .5 1.7 .5 1.3 .5 1.1 .5 .7 .5-.9 .5-1.1 .5-2 .5-3.1 .3-8.1 .2-5.9 .5-16.3 .1-5.2 .4 12 .5 15.4 0 0 .5 9.7 .5 2.3 .5 1.6 .5 1.1 .5 .7 .5 .3 .5-.8 .5-.9 .5-1.9 .5-2.8 .2-3.3 .3-5.8 .5-11.2 .1-1.6 .4 9.9 .4 8.7 .1 1.6 .5 3.8 .5 2.2 .5 1.1 .5 .8 .5 .6 .5 .5 .5 .3 .5 .3 .5 .2 .5 .1 .5-.3 .5-.4 .5-1.2 .5-1.5 .5-1.9 .5-2.7 .3-2.3 .2-4.5 .5-10.2 .1-2.2 .4 8.4 .5 8.5 0 .8 .4-4.6 .1-1.8 .5-12.9 .3-7.8 .2 6.4 .5 13.1 .1 3 .4 6.6 .5 2.5 .5 1.9 .5 1.5 .5 1.1 .5-.3 .5-.4 .5-.5 .5-.7 .5-.9 .5-1.1 .5-1.4 .5-3.8 .2-4.4 .3-7.4 .5-13.5 0-1.4 .5 12.4 .4 9.9 .1 2.3 .5 5.6 .5 1.5 .5 1.1 .5 1 .5 .7 .5 .5 .5 .4 .5 .4 .5 .1 .5-.3 .5-.4 .5-.5 .5-.7 .5-.8 .5-1.2 .5-1.9 .5-2.7 .2-4.3 .3-5.9 .5-12.7 .1-2.5 .4 10.7 .4 10.4 .1 1.3 .5 4.8 .5 2.2 .5-1 .3-4.5 .2-3.9 .5-10.1 .1-3 .4 7.7 .5 9.3 0 .2 .5 4.9 .5 1.3 .5 1 .5 .9 .5 .6 .5 .5 .5 .4 .5-.2 .5-.3 .5-.3 .5-.4 .5-.5 .5-.6 .5-.8 .5-1 .5-1.2 .5-1.6 .5-2.2 .5-2.7 .5-3.5 .5-17.4 .3-28 .2-18.6 .5-54.2 .2-18.6 .3 38.7 .5 51.7 0 1 .5 42 .5 4.7 .5 3.2 .5 2.5 .5 2 .5 1.5 .5 1.1 .5 .9 .5 .7 .5-.2 .5-1.1 .5-1.4 .5-1.9 .5-10.4 .1-3.9 .4-14.3 .5-19.2 0 1.5 .5 20.4 .3 11.6 .2 6.2 .5 8.4 .5-1.2 .5-1.9 .5-2.3 .5-20.1 .3-20.4 .2-20.8 .5-47.5 .1-11 .4 38.4 .5 40.9 0 3.3 .5 36.2 .5 2.3 .5 2.1 .5 1.8 .5 1.4 .5 1.2 .5 .9 .5 .8 .5 .6 .5 .4 .5 .4 .5 0 .5-.4 .5-.6 .5-.6 .5-.8 .5-1 .5-1.3 .5-1.6 .5-2.1 .5-2.5 .5-2.9 .5-6.8 .1-2.1 .4-18.6 .4-18.8 .1 4.6 .5 22.4 .3 10.4 .2 7 .5 3 .5 2.8 .5 2.4 .5 1.9 .5 1.5 .5 1.1 .5-.5 .5-2.6 .3-3.1 .2-2.9 .5-10.3 .2-4.2 .3 6.7 .5 9.9 0 .8 .5 3.8 .5 2.4 .5-2.2 .3-1.9 .2-3.2 .5-8.5 .1-2.4 .4 6.5 .5 7.6 0 .2 .5 2.8 .5 2 .5 1.5 .5 1.1 .5 .4 .5-.4 .5-.8 .5-1.5 .5-1.8 .5-3.7 .2-3.3 .3-7.2 .5-12.4 0 0 .5 11.5 .4 8.1 .1 2.5 .5 4.3 .5 1.9 .5 1.5 .5 .9 .5 .4 .5 .3 .5 .3 .5 .2 .5-.1 .5-.2 .5-.3 .5-.4 .5-.9 .5-1.5 .5-1.8 .5-2.6 .3-1.8 .2-2.3 .5-6.5 .1 0 .4 3.6 .3 3.8 .2-.2 0-.7 .5-8.4 .1-2.5 .4 6.4 .5 7.7 0 .2 .5 3.9 .5 1.5 .5-.3 .5-1.9 .5-2.6 .1-.5 .4-4.2 .4-1.2 .1 0 .5 2.9 .3 2.5 .2 1.3 .5 2.4 .5 1.7 .5 1.3 .5 1.1 .5 .9 .5 .2 .5 .1 .5 0 .5 .1 .5 0 .5-.1 .5 0 .5-.1 .5 0 .5-.1 .5-.1 .5-.2 .5-.2 .5-.3 .5-.9 .5-1.2 .5-1.4 .5-2 .2-1.2 .3-2.1 .5-6.7 .1 0 .4 5.4 .4 3.4 .1 .5 .5 2.3 .5 1.5 .5 1.2 .5 1 .5-.7 .5-1.1 .5-1.4 .5-2 .3-1.5 .2-1.9 .5-8.2 .1-.2 .4 5.1 .5 5.2 0 .1 .5 2.4 .5 1.7 .5-.3 .5-1.9 .5-2.5 .3-1.8 .2-2.3 .5-1.4 .1 0 .4 0 .5 3.7 0 .3 .5 3 .5 2.1 .5 1.7 .5 1.3 .5 1.1 .5 .6 .5 .1 .5 .1 .5-.4 .5 .1 .5-1 .5-.9 .5 .5 .5-.3 .5 0 .5 .1 .5-1.2 .5-.5 .5 .4 .5 .1 .5-1.3 .5 2.9 .5-.2 .5 .4 .5 .2 .5 .5 .5 .5 .5 .4"/>
<path d="M886.5 526.3l.5-2.6 .5-1.4 .5-1.3 .5-4.6 .5-4.1 .5-5.7 .5 9.9 .5-17.4 .5 3.1 .5-8 .5 5.4 .5 3.6 .5 2.1 .5 3.6 .5-16 .5-2.2 .5 15.3 .5-7.3 .5-6.1 .5 22.6 .5-18.9 .5 10.9 .5 3.4 .5 5.4 .5 2.4 .5 4 .5 2.4 .5 1.5"/>
<path d="M902.0 526.3l.5-.6 .5-.1 .5-.6 .5-.1 .5-2.8 .5-.5 .5 2.9 .5-2 .5 2 .5-.5 .5 1.1 .5-.3 .5 1.1 .5 .4"/>
<path d="M910.5 526.3l.5-3.6 .5-18.1 .5 5.3 .5-7.6 .5 3.4 .5 4.2 .5 7.7 .5 2.8 .5-.5 .5-4.2 .5-10.5 .5 3.6 .5 3.1 .5-21.8 .5 10.9 .5 1.6 .5-27.2 .5 30.7 .5-12.1 .5-1.3 .5-18 .5 23.1 .5 14.1 .5-3.2 .5-3.5 .5 6 .5 .8 .5 4 .5 3.9 .5 4.1 .5 2.3 .5-.3 .5-.2 .5-.9 .5-1 .5 .7 .5-.8 .5-3.6 .5 3 .5-.8 .5 1.6 .5-.2 .5 .4 .5 0 .5 .4 .5 .2 .5-.9 .2-.6 .3-.9 .5-1.4 .1 0 .4 .7 .4 1.6 .1 .2 .5 1.1 .5 .7 .5 .5 .5-.2 .5 0 .5 .1 .5-.4 .5 0 .5-.3 .5-.8 .5 .8 .5-1 .5-.2 .5 .6 .5-.2 .5 .3 .5 .6 .5-1.1 .5-.8 .5 .9 .5-.6 .5 .6 .5 .2 .5 2"/>
<path d="M1103.0 526.3l.5-.4 .5 0 .5-.7 .5-.1 .5-.5 .5 .5 .5-.7 .5 .8 .5-.7 .5 .1 .5-.5 .5 .5 .5-.2 .5-.3 .5-.2 .5 .1 .5 1.1 .5-1 .5 .5 .5 .3 .5 .4 .5 .1 .5-.5 .5 .6 .5 .3 .5 .1 .5-.5 .5 .9"/>
<path d="M1127.5 526.3l.5-.4 .5 0 .5-.1 .5-.1 .5-.1 .5-.2 .5-.3 .5-.3 .5-1.1 .5-1.5 .1-.5 .4-2 .5-2.9 0 0 .5 3 .3 1.9 .2 .6 .5 1.5 .5 1 .5-.6 .5 .1 .5 .8 .5-.1 .5-1.1 .5 1 .5-1 .5-.6 .5-.5 .5 2 .5-1.6 .5 .6 .5-.3 .5-.1 .5 1.4 .5-.8 .5 .6 .5-1.6 .5 .2 .5 .1 .5 .8 .5-1.5 .5 .2 .5 .7 .5-3.1 .5 .7 .5 .9 .5-1.2 .5 1.8 .5-.1 .5 .1 .5 1.4 .5-1.3 .5-.1 .5 .8 .5-.5 .5-.1 .5 .8 .5 1 .5-3.4 .5 2 .5-.2 .5 .9 .5-.5 .5 1.1 .5-.3 .5 .7 .5-.2 .5-.7 .5 .3 .5 .8 .5-1.1 .5 1.4 .5 .1 .5-.6 .5-.6 .5 .8 .5 .6 .5-.9 .5-.1 .5 .8 .5 .1 .5 .2 .5 .2 .5-.1 .5 0 .5 .4"/>
<path d="M695.0 526.3l.5-.4 .5 0 .5-.1 .5-.1 .5-.1 .5-.1 .5-.9 .5-1.1 .5-1.3 .5-1.6 .5-1.8 .5-2.4 .5-20.1 .3-23.6 .2-16.4 .5-46.5 .2-15.5 .3 33.6 .5 44.3 0 .5 .5 36.4 .5 8.3 .5-3 .4-12.5 .1-5.3 .5-20.9 .2-9.7 .3 13 .5 20.5 .1 2.4 .4 13.3 .5 2.7 .5-2 .3-2.4 .2-1.8 .5-10.6 .2-1.2 .3 6.3 .5 7.1 0 .2 .5 3.4 .5 2.5 .5 1.8 .5 1.5 .5 1.3 .5 1.1 .5 .4 .5 .2 .5 .1 .5 0 .5 .1 .5 0 .5 0 .5 0 .5-.1 .5-.1 .5 0 .5-.1 .5-.1 .5-.2 .5-.1 .5-.2 .5-.3 .5-.3 .5-.5 .5-.7 .5-1.3 .5-1.6 .5-3.7 .3-9.4 .2-4.7 .5-16.4 .2-7 .3 10.8 .5 15.9 0 1.4 .5 11.5 .5 2 .5 1.5 .5 1.2 .5-.1 .5-.7 .5-.9 .5-1.1 .5-1.6 .5-7.1 .3-8.6 .2-9 .5-20.2 .1-4.6 .4 16.5 .5 17.3 0 1.5 .5 13.2 .5 2 .5 1.3 .5 1 .5 .7 .5 .6 .5 .5 .5-.4 .5-1.2 .5-1.6 .5-3.1 .2-4.2 .3-5.6 .5-11.2 .1-1.8 .4 9.8 .4 8.8 .1 1.5 .5 5.2 .5 1.8 .5 1.3 .5 1.1 .5 .4 .5 .3 .5-.2 .5-.3 .5-.3 .5-.4 .5-.6 .5-.7 .5-1.3 .5-4.5 .3-5.8 .2-5.7 .5-13.3 .1-3.2 .4 10.8 .5 11.4 0 .9 .1 2.3 .4-4.4 .5-7.9 0 0 .5 8.4 .3 3.9 .2 1.3 .5 3.2 .5 2.2 .5 1.7 .5 1.4 .5 1 .5 .1 .5-1 .5-1.3 .5-1.5 .5-1.9 .5-2.4 .5-3.5 .2-3.6 .3-9.3 .5-14.7 0 0 .5 14.7 .4 9.3 .1 3.6 .5 3.5 .5 2.4 .5 1.9 .5 1.5 .5 1.3 .5 1 .5 .2 .5 .1 .5 .1 .5 0 .5-.1 .5-.2 .5-.2 .5-.9 .5-1.1 .5-1.3 .5-1.6 .5-2.2 .4-5.9 .1-2.1 .5-12 .3-6.8 .2 6.4 .5 12.1 .1 2.4 .4 5.9 .5 .6 .5-3.1 .3-2.8 .2-2.1 .5-12.1 .2-2 .3 7.4 .5 8.7 0 .1 .5 4 .5 2.8 .5 2.1 .5 1.7 .5 1.4 .5-.1 .5-.2 .5-.3 .5-.3 .5-.3 .5-.5 .5-.5 .5-.7 .5-.8 .5-1.1 .5-1.5 .5-1.9 .5-2.4 .5-3.1 .5-3.7 .5-31.2 .1-4.5 .4-40.1 .4-40.1 .1 9.8 .5 48.1 .3 22.3 .2 19.6 .5 17.6 .5 3.5 .5 2.8 .5 2.2 .5 1.7 .5 1.3 .5 1 .5 .8 .5-.6 .5-1.2 .5-1.6 .5-2.1 .5-2.8 .5-3.7 .3-11.8 .2-9.2 .5-24.4 .1-7.5 .4 18.3 .5 22.8 0 .3 .5 12.3 .5-3.2 .5-4 .5-4.5 .5-4.8 .3-21.5 .2-13.1 .5-45.9 .2-19.2 .3 29.9 .5 44.6 0 3.7 .5 22.5 .5 4.8 .5 4.5 .5 3.7 .5 3.1 .5 2.5 .5 2 .5 1.5 .5 1.3 .5 1 .5 .9 .5 .7 .5 .6 .5-.3 .5-.8 .5-1.1 .5-1.3 .5-1.6 .5-2.2 .5-2.6 .5-3.3 .5-3.5 .4-4.6 .1-5.1 .5-21.8 .2-10.6 .3 13 .5 21.6 .1 2.9 .4 5 .5 3.5 .5 3.2 .5 2.6 .5 2.1 .5 1.6 .5 1.3 .5-3.7 .1-2 .4-7.5 .5-10 0 .9 .5 10.7 .3 5.9 .2 3.4 .5 2.9 .5 1.2 .5-1.8 .5-3.7 0-.4 .5-8.3 .3-6 .2 3.3 .5 8.6 .2 2.8 .3 3 .5 2 .5 1.5 .5 .9 .5 .5 .5 .4 .5-.4 .5-1.2 .5-1.4 .5-2 .5-3.1 0 0 .5-8 .4-6.3 .1 2.7 .5 8.5 .2 3.1 .3 2.1 .5 2.2 .5 1.7 .5 1.3 .5 1 .5 .4 .5 .2 .5 .1 .5-.1 .5-.2 .5-.3 .5-.7 .5-1.6 .5-1.8 .5-2.4 .5-3.2 .3-2.6 .2-2.4 .5-5.4 .1 0 .4 0 .5 7.8 0 0 .1 1.1 .4-2.9 .5-8 0 0 .5 9.1 .3 4.9 .2 2.2 .5 2.1 .5 1.5 .5 .9 .5-1.3 .5-1.7 .5-2.4 0-.3 .5-3.8 .4 0 .1 0 .5 1.9 .2 1.9 .3 1.4 .5 2.1 .5 1.5 .5 1.1 .5 1 .5 .8 .5 .2 .5 .4"/>
<path d="M853.5 526.3l.5-.4 .5 0 .5-.1 .5-.1 .5-.2 .5-.7 .5-1.4 .5-1.7 .5-2 .5-2.7 .5-4 0 0 .5-1.6 .4 0 .1 0 .5 0 .2 1.6 .3 2.5 .5 3.2 .5 2.2 .5 1.8 .5-.3 .5-1.6 .5-2.3 .3-2 .2-1.7 .5-8.6 .2-1.8 .3 5.4 .5 6.6 0 .1 .5 2.9 .5 2 .5 1.5 .5 .4 .5-1.4 .5-1.8 .5-2.6 0-.3 .5-4.5 .4-.7 .1 0 .5 3.2 .2 2 .3 1.5 .5 2.2 .5 1.6 .5 1.3 .5 1 .5 .2 .5 .3 .5 .1 .5 .2 .5-.2 .5 .2 .5-1.2 .5 .2 .5-.3 .5-.7 .5-3.6 .5 3.4 .5 .4 .5 .5 .5-.4 .5-.7 .5 1.2 .5-.3 .5 .2 .5 .8 .5-.1 .5 .9 .5 .4"/>
<path d="M886.5 526.3l.5-1.4 .5-4.7 .5-2.4 .5 .9 .5-8 .5-4.2 .5 4.2 .5-1.7 .5-12.4 .5 6.7 .5-6 .5 13.1 .5-6.7 .5-9.8 .5 4.3 .5 10 .5-11.5 .5 2.9 .5 2.1 .5-2.1 .5 13.9 .5-4.4 .5 7.7 .5 2.2 .5-.7 .5 2.6 .5 3.6 .5 1.8"/>
<path d="M902.0 526.3l.5-.6 .5-.6 .5 0 .5-1.4 .5-.2 .5 .3 .5-.9 .5 1.5 .5-.2 .5 .5 .5-.1 .5 .6 .5 1.1"/>
<path d="M910.5 526.3l.5-3.3 .5-10.4 .5-1.9 .5-5 .5 4.8 .5-4 .5 7.2 .5 4.9 .5-3.2 .5-5.3 .5 6.5 .5-16.8 .5 3.7 .5 5.2 .5-25.2 .5 9.8 .5-3 .5 7.9 .5 1 .5 .4 .5 .2 .5-6.9 .5 8.9 .5 3.9 .5 .5 .5 1.8 .5 9.4 .5-2 .5 6.2 .5 1.2 .5 3.4 .5-.3 .5-.5 .5-.8 .5-.3 .5-.8 .5 .6 .5-.5 .5 .2 .5-.3 .5 .6 .5-.9 .5 1.4 .5-1.1 .3-.9 .2-.8 .5-1.6 .2 0 .3 0 .5 2.4 0 0 .5 1.3 .5 1 .5 .7 .5 .3 .5 0 .5-.2 .5-.1 .5 0 .5-.3 .5 .2 .5-.1 .5 .1 .5-.6 .5-.1 .5-.7 .5-.2 .5-.2 .5 .6 .5 .3 .5-.9 .5 .1 .5 0 .5 .5 .5 .5 .5-1.9 .5 .9 .5 2.5"/>
<path d="M1103.0 526.3l.5-.5 .5-.2 .5-.2 .5-.1 .5-.1 .5-.3 .5-.4 .5-.2 .5-.1 .5-.1 .5-.3 .5-1.3 .5 1.9 .5 .7 .5-1.3 .5-.6 .5 1.5 .5-.9 .5 1.1 .5 0 .5 .1 .5-.4 .5 .6 .5-.1 .5 .3 .5 0 .5 .5 .5 .4"/>
<path d="M1127.5 526.3l.5-.4 .5 0 .5-.1 .5-.1 .5-.1 .5-.2 .5-.2 .5-.3 .5-.4 .5-.5 .5-.7 .1-.5 .4-2.4 .4-2.7 .1 .1 .5 3.4 .3 1.6 .2 .8 .5 .5 .5 .5 .5 0 .5 .3 .5 .3 .5-.5 .5-.4 .5 .7 .5-1.9 .5 1.6 .5-.6 .5-.9 .5 1.6 .5-2 .5 0 .5 1.2 .5-.2 .5-.1 .5-1 .5 .7 .5-.8 .5 2 .5-.7 .5-.2 .5 .5 .5 .3 .5-3.3 .5 1.1 .5 1.1 .5-.3 .5 1.1 .5-.7 .5 .5 .5-1.1 .5 1.6 .5-1.3 .5 .6 .5-.9 .5 .8 .5-.8 .5 1 .5-2.2 .5 2.8 .5 .1 .5-1 .5-.9 .5 1.9 .5-1.6 .5 1.1 .5 .9 .5-.5 .5 .4 .5-1.6 .5 1.6 .5-.9 .5 1.4 .5-.1 .5-.4 .5 .1 .5 0 .5 .7 .5 .1 .5 .1 .5-.1 .5 .1 .5 .4"/>
</g>
<line x1="684.7" y1="25.85" x2="684.7" y2="229.6" stroke="#c6c6c6" stroke-width="1.4"/>
<line x1="684.7" y1="26.6" x2="1245.2" y2="26.6" stroke="#dedede" stroke-width="1.6"/>
<line x1="1245.2" y1="25.85" x2="1245.2" y2="229.6" stroke="#dcdcdc" stroke-width="1.5"/>
<line x1="684.7" y1="34.8" x2="692.0" y2="34.8" stroke="#1a1a1a" stroke-width="2"/>
<line x1="684.7" y1="87.5" x2="692.0" y2="87.5" stroke="#1a1a1a" stroke-width="2"/>
<line x1="684.7" y1="222.0" x2="692.0" y2="222.0" stroke="#1a1a1a" stroke-width="2"/>
<line x1="684.7" y1="46.5" x2="690.5" y2="46.5" stroke="#b8b8b8" stroke-width="1.2"/>
<line x1="684.7" y1="66.7" x2="690.5" y2="66.7" stroke="#b8b8b8" stroke-width="1.2"/>
<line x1="684.7" y1="107.4" x2="690.5" y2="107.4" stroke="#b8b8b8" stroke-width="1.2"/>
<line x1="684.7" y1="127.8" x2="690.5" y2="127.8" stroke="#b8b8b8" stroke-width="1.2"/>
<line x1="684.7" y1="148.0" x2="690.5" y2="148.0" stroke="#b8b8b8" stroke-width="1.2"/>
<line x1="684.7" y1="168.4" x2="690.5" y2="168.4" stroke="#b8b8b8" stroke-width="1.2"/>
<line x1="684.7" y1="188.8" x2="690.5" y2="188.8" stroke="#b8b8b8" stroke-width="1.2"/>
<line x1="684.7" y1="209.4" x2="690.5" y2="209.4" stroke="#b8b8b8" stroke-width="1.2"/>
<line x1="1239.4" y1="46.6" x2="1245.2" y2="46.6" stroke="#bcbcbc" stroke-width="1.2"/>
<line x1="1239.4" y1="66.8" x2="1245.2" y2="66.8" stroke="#bcbcbc" stroke-width="1.2"/>
<line x1="1239.4" y1="87.3" x2="1245.2" y2="87.3" stroke="#bcbcbc" stroke-width="1.2"/>
<line x1="1239.4" y1="107.4" x2="1245.2" y2="107.4" stroke="#bcbcbc" stroke-width="1.2"/>
<line x1="1239.4" y1="127.9" x2="1245.2" y2="127.9" stroke="#bcbcbc" stroke-width="1.2"/>
<line x1="1239.4" y1="148.2" x2="1245.2" y2="148.2" stroke="#bcbcbc" stroke-width="1.2"/>
<line x1="1239.4" y1="168.7" x2="1245.2" y2="168.7" stroke="#bcbcbc" stroke-width="1.2"/>
<line x1="1239.4" y1="188.9" x2="1245.2" y2="188.9" stroke="#bcbcbc" stroke-width="1.2"/>
<line x1="1239.4" y1="209.4" x2="1245.2" y2="209.4" stroke="#bcbcbc" stroke-width="1.2"/>
<line x1="782.7" y1="26.6" x2="782.7" y2="32.4" stroke="#bcbcbc" stroke-width="1.2"/>
<line x1="886.4" y1="26.6" x2="886.4" y2="32.4" stroke="#bcbcbc" stroke-width="1.2"/>
<line x1="989.6" y1="26.6" x2="989.6" y2="32.4" stroke="#bcbcbc" stroke-width="1.2"/>
<line x1="1093.7" y1="26.6" x2="1093.7" y2="32.4" stroke="#bcbcbc" stroke-width="1.2"/>
<line x1="1197.2" y1="26.6" x2="1197.2" y2="32.4" stroke="#bcbcbc" stroke-width="1.2"/>
<line x1="685.5" y1="317.95" x2="685.5" y2="527.5" stroke="#c6c6c6" stroke-width="1.4"/>
<line x1="685.5" y1="318.7" x2="1246.1" y2="318.7" stroke="#dedede" stroke-width="1.6"/>
<line x1="1246.1" y1="317.95" x2="1246.1" y2="527.5" stroke="#dcdcdc" stroke-width="1.5"/>
<line x1="685.5" y1="329.1" x2="692.8" y2="329.1" stroke="#1a1a1a" stroke-width="2"/>
<line x1="685.5" y1="376.7" x2="692.8" y2="376.7" stroke="#1a1a1a" stroke-width="2"/>
<line x1="685.5" y1="520.0" x2="692.8" y2="520.0" stroke="#1a1a1a" stroke-width="2"/>
<line x1="685.5" y1="359.8" x2="691.3" y2="359.8" stroke="#b8b8b8" stroke-width="1.2"/>
<line x1="685.5" y1="401.3" x2="691.3" y2="401.3" stroke="#b8b8b8" stroke-width="1.2"/>
<line x1="685.5" y1="443.6" x2="691.3" y2="443.6" stroke="#b8b8b8" stroke-width="1.2"/>
<line x1="685.5" y1="485.7" x2="691.3" y2="485.7" stroke="#b8b8b8" stroke-width="1.2"/>
<line x1="1240.3" y1="359.8" x2="1246.1" y2="359.8" stroke="#bcbcbc" stroke-width="1.2"/>
<line x1="1240.3" y1="401.9" x2="1246.1" y2="401.9" stroke="#bcbcbc" stroke-width="1.2"/>
<line x1="1240.3" y1="443.5" x2="1246.1" y2="443.5" stroke="#bcbcbc" stroke-width="1.2"/>
<line x1="1240.3" y1="486.0" x2="1246.1" y2="486.0" stroke="#bcbcbc" stroke-width="1.2"/>
<line x1="773.7" y1="318.7" x2="773.7" y2="324.5" stroke="#bcbcbc" stroke-width="1.2"/>
<line x1="867.6" y1="318.7" x2="867.6" y2="324.5" stroke="#bcbcbc" stroke-width="1.2"/>
<line x1="961.3" y1="318.7" x2="961.3" y2="324.5" stroke="#bcbcbc" stroke-width="1.2"/>
<line x1="1055.4" y1="318.7" x2="1055.4" y2="324.5" stroke="#bcbcbc" stroke-width="1.2"/>
<line x1="1149.5" y1="318.7" x2="1149.5" y2="324.5" stroke="#bcbcbc" stroke-width="1.2"/>
<line x1="1243.5" y1="318.7" x2="1243.5" y2="324.5" stroke="#bcbcbc" stroke-width="1.2"/>
<g font-family='"Liberation Sans", Arial, sans-serif' stroke="#242424" stroke-width="0.35">
<text transform="translate(172.95,18.70) scale(0.9799,1)" font-size="21.09" fill="#242424">Laryngeal Bioimpedance Waveform</text>
<text transform="translate(812.05,18.80) scale(0.9656,1)" font-size="21.30" fill="#242424">Laryngeal Bioimpedance Spectrum</text>
<text transform="translate(275.00,311.50) scale(1.0166,1)" font-size="20.14" fill="#242424">Audio waveform</text>
<text transform="translate(916.90,311.50) scale(0.9705,1)" font-size="20.72" fill="#242424">Audio Spectrum</text>
<text transform="translate(315.65,260.70) scale(0.9994,1)" font-size="17.68" fill="#242424">Time (ms)</text>
<text transform="translate(307.84,559.80) scale(0.9790,1)" font-size="18.26" fill="#242424">Time (ms)</text>
<text transform="translate(946.33,268.30) scale(0.9873,1)" font-size="17.39" fill="#242424">Frequency (Hz)</text>
<text transform="translate(942.32,565.40) scale(0.9950,1)" font-size="17.39" fill="#242424">Frequency (Hz)</text>
<text transform="translate(24.70,197.20) rotate(-90) scale(1.0038,1)" font-size="17.97" fill="#242424">Amplitude (Volts)</text>
<text transform="translate(30.50,495.70) rotate(-90) scale(0.9603,1)" font-size="18.84" fill="#242424">Amplitude (Volts)</text>
<text transform="translate(649.30,199.40) rotate(-90) scale(0.9410,1)" font-size="18.12" fill="#242424">Amplitude (dB-FS)</text>
<text transform="translate(652.00,493.50) rotate(-90) scale(0.9615,1)" font-size="17.97" fill="#242424">Amplitude (dB-FS)</text>
<text transform="translate(33.49,37.30) scale(0.9982,1)" font-size="15.14" fill="#242424">1</text>
<text transform="translate(33.07,131.70) scale(1.1430,1)" font-size="15.86" fill="#242424">0</text>
<text transform="translate(30.01,223.40) scale(0.9215,1)" font-size="16.14" fill="#242424">-1</text>
<text transform="translate(48.89,239.80) scale(1.0437,1)" font-size="14.57" fill="#242424">0</text>
<text transform="translate(335.74,238.90) scale(0.9528,1)" font-size="14.57" fill="#242424">30</text>
<text transform="translate(590.47,240.20) scale(0.9766,1)" font-size="14.86" fill="#242424">60</text>
<text transform="translate(36.05,335.70) scale(1.0006,1)" font-size="15.57" fill="#242424">1</text>
<text transform="translate(36.23,398.90) scale(1.0903,1)" font-size="15.29" fill="#242424">0</text>
<text transform="translate(31.95,519.50) scale(1.0066,1)" font-size="16.14" fill="#242424">-1</text>
<text transform="translate(49.62,542.40) scale(1.1073,1)" font-size="15.43" fill="#242424">0</text>
<text transform="translate(336.54,541.60) scale(1.0255,1)" font-size="16.00" fill="#242424">30</text>
<text transform="translate(591.69,543.10) scale(0.9993,1)" font-size="16.29" fill="#242424">60</text>
<text transform="translate(664.56,40.60) scale(0.9492,1)" font-size="16.86" fill="#242424">-3</text>
<text transform="translate(656.06,92.90) scale(0.9843,1)" font-size="16.29" fill="#242424">-12</text>
<text transform="translate(656.65,227.70) scale(0.9699,1)" font-size="16.86" fill="#242424">-80</text>
<text transform="translate(683.67,248.00) scale(1.0132,1)" font-size="16.43" fill="#242424">100</text>
<text transform="translate(752.35,248.20) scale(1.0326,1)" font-size="15.71" fill="#242424">500</text>
<text transform="translate(819.70,247.20) scale(0.9859,1)" font-size="16.52" fill="#242424">1k</text>
<text transform="translate(952.66,248.40) scale(0.9020,1)" font-size="17.25" fill="#242424">10k</text>
<text transform="translate(1212.40,248.90) scale(0.9451,1)" font-size="16.96" fill="#242424">20k</text>
<text transform="translate(665.25,334.50) scale(1.0055,1)" font-size="16.29" fill="#242424">-3</text>
<text transform="translate(658.47,382.40) scale(0.9623,1)" font-size="16.43" fill="#242424">-12</text>
<text transform="translate(658.66,525.50) scale(0.9816,1)" font-size="16.29" fill="#242424">-80</text>
<text transform="translate(685.09,546.50) scale(1.0721,1)" font-size="15.29" fill="#242424">100</text>
<text transform="translate(753.87,547.00) scale(0.9827,1)" font-size="16.00" fill="#242424">500</text>
<text transform="translate(821.21,545.80) scale(1.0437,1)" font-size="15.51" fill="#242424">1k</text>
<text transform="translate(954.87,547.40) scale(0.9216,1)" font-size="16.67" fill="#242424">10k</text>
<text transform="translate(1212.11,547.20) scale(0.8992,1)" font-size="17.54" fill="#242424">20k</text>
</g>
</svg>
</body></html>
